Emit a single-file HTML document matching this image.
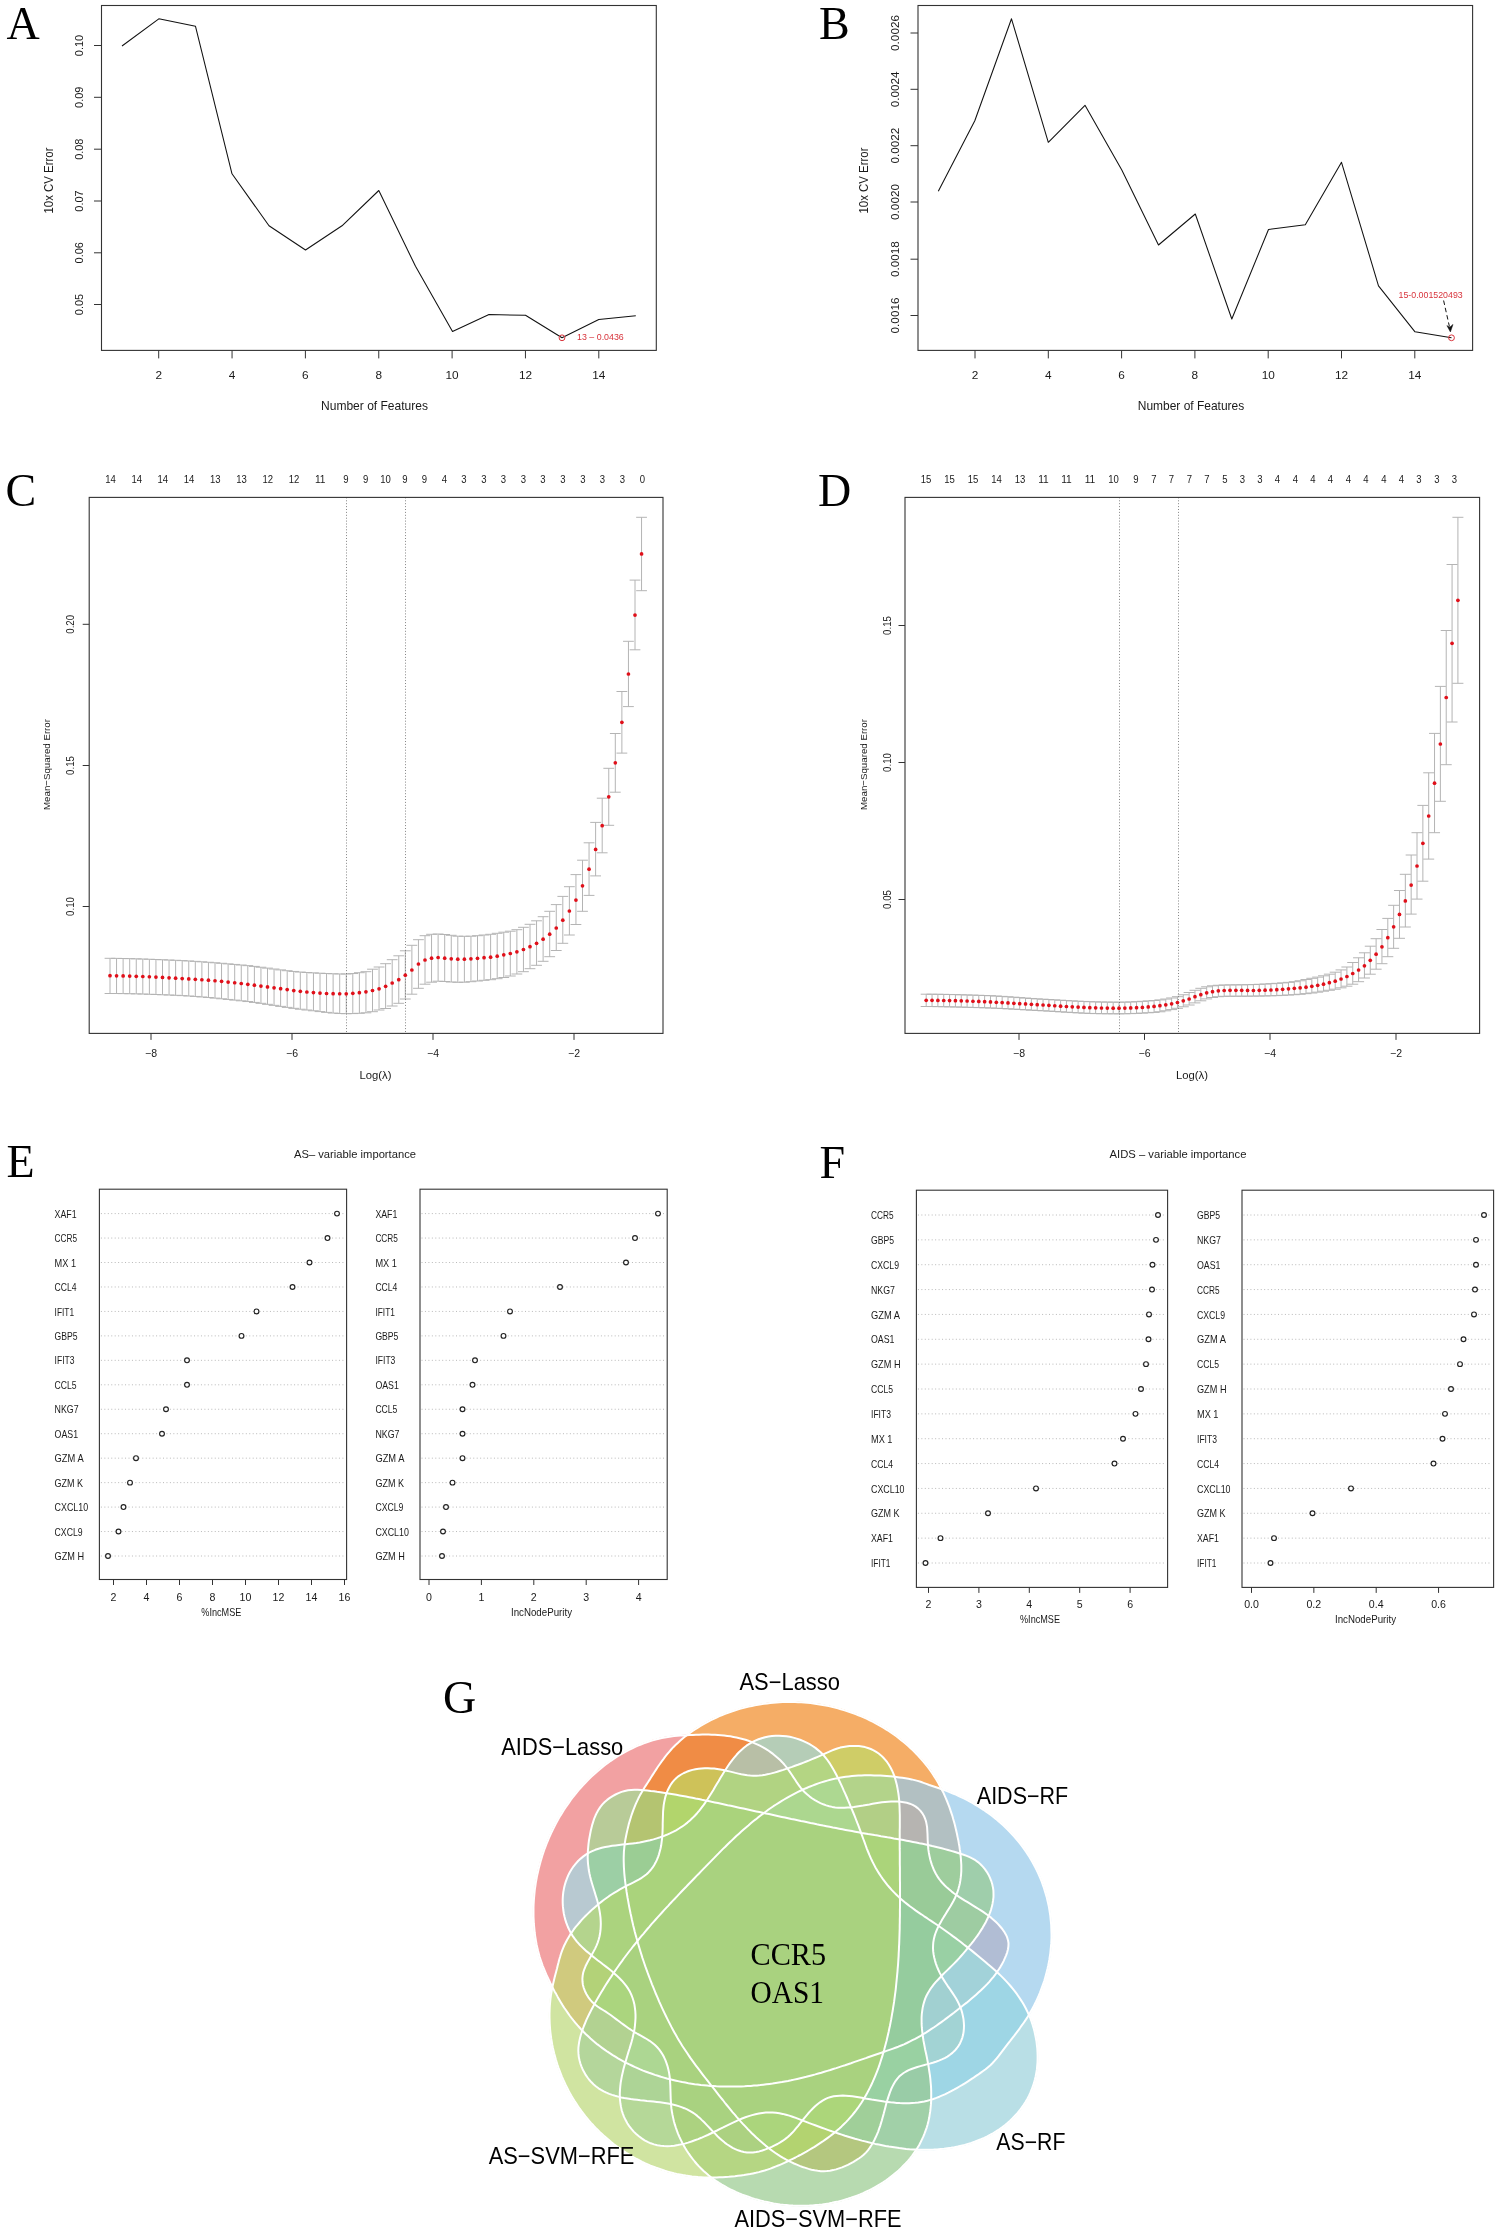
<!DOCTYPE html>
<html><head><meta charset="utf-8"><title>Figure</title>
<style>
html,body{margin:0;padding:0;background:#fff}
body{width:1499px;height:2234px;overflow:hidden;font-family:"Liberation Sans",sans-serif}
svg{display:block;opacity:0.999;will-change:transform}
text{white-space:pre}
</style></head><body>
<svg width="1499" height="2234" viewBox="0 0 1499 2234">
<rect x="0" y="0" width="1499" height="2234" fill="#fff"/>
<text x="6.50" y="38.80" font-family="Liberation Serif" font-size="46" fill="#000">A</text>
<text x="819.00" y="38.80" font-family="Liberation Serif" font-size="46" fill="#000">B</text>
<text x="5.50" y="505.50" font-family="Liberation Serif" font-size="46" fill="#000">C</text>
<text x="818.00" y="505.50" font-family="Liberation Serif" font-size="46" fill="#000">D</text>
<text x="6.50" y="1177.00" font-family="Liberation Serif" font-size="46" fill="#000">E</text>
<text x="819.50" y="1177.50" font-family="Liberation Serif" font-size="46" fill="#000">F</text>
<text x="443.00" y="1713.00" font-family="Liberation Serif" font-size="46" fill="#000">G</text>
<rect x="101.50" y="5.50" width="554.80" height="344.90" fill="none" stroke="#333" stroke-width="1.1"/>
<line x1="158.70" y1="350.40" x2="158.70" y2="358.40" stroke="#333" stroke-width="1"/>
<text x="158.70" y="379.20" font-family="Liberation Sans" font-size="11.8" fill="#1a1a1a" text-anchor="middle">2</text>
<line x1="232.05" y1="350.40" x2="232.05" y2="358.40" stroke="#333" stroke-width="1"/>
<text x="232.05" y="379.20" font-family="Liberation Sans" font-size="11.8" fill="#1a1a1a" text-anchor="middle">4</text>
<line x1="305.40" y1="350.40" x2="305.40" y2="358.40" stroke="#333" stroke-width="1"/>
<text x="305.40" y="379.20" font-family="Liberation Sans" font-size="11.8" fill="#1a1a1a" text-anchor="middle">6</text>
<line x1="378.75" y1="350.40" x2="378.75" y2="358.40" stroke="#333" stroke-width="1"/>
<text x="378.75" y="379.20" font-family="Liberation Sans" font-size="11.8" fill="#1a1a1a" text-anchor="middle">8</text>
<line x1="452.10" y1="350.40" x2="452.10" y2="358.40" stroke="#333" stroke-width="1"/>
<text x="452.10" y="379.20" font-family="Liberation Sans" font-size="11.8" fill="#1a1a1a" text-anchor="middle">10</text>
<line x1="525.45" y1="350.40" x2="525.45" y2="358.40" stroke="#333" stroke-width="1"/>
<text x="525.45" y="379.20" font-family="Liberation Sans" font-size="11.8" fill="#1a1a1a" text-anchor="middle">12</text>
<line x1="598.80" y1="350.40" x2="598.80" y2="358.40" stroke="#333" stroke-width="1"/>
<text x="598.80" y="379.20" font-family="Liberation Sans" font-size="11.8" fill="#1a1a1a" text-anchor="middle">14</text>
<line x1="94.00" y1="45.50" x2="101.50" y2="45.50" stroke="#333" stroke-width="1"/>
<text transform="translate(82.50,45.50) rotate(-90)" font-family="Liberation Sans" font-size="11.8" fill="#1a1a1a" text-anchor="middle" textLength="21.30" lengthAdjust="spacingAndGlyphs">0.10</text>
<line x1="94.00" y1="97.30" x2="101.50" y2="97.30" stroke="#333" stroke-width="1"/>
<text transform="translate(82.50,97.30) rotate(-90)" font-family="Liberation Sans" font-size="11.8" fill="#1a1a1a" text-anchor="middle" textLength="21.30" lengthAdjust="spacingAndGlyphs">0.09</text>
<line x1="94.00" y1="149.20" x2="101.50" y2="149.20" stroke="#333" stroke-width="1"/>
<text transform="translate(82.50,149.20) rotate(-90)" font-family="Liberation Sans" font-size="11.8" fill="#1a1a1a" text-anchor="middle" textLength="21.30" lengthAdjust="spacingAndGlyphs">0.08</text>
<line x1="94.00" y1="201.00" x2="101.50" y2="201.00" stroke="#333" stroke-width="1"/>
<text transform="translate(82.50,201.00) rotate(-90)" font-family="Liberation Sans" font-size="11.8" fill="#1a1a1a" text-anchor="middle" textLength="21.30" lengthAdjust="spacingAndGlyphs">0.07</text>
<line x1="94.00" y1="252.80" x2="101.50" y2="252.80" stroke="#333" stroke-width="1"/>
<text transform="translate(82.50,252.80) rotate(-90)" font-family="Liberation Sans" font-size="11.8" fill="#1a1a1a" text-anchor="middle" textLength="21.30" lengthAdjust="spacingAndGlyphs">0.06</text>
<line x1="94.00" y1="304.50" x2="101.50" y2="304.50" stroke="#333" stroke-width="1"/>
<text transform="translate(82.50,304.50) rotate(-90)" font-family="Liberation Sans" font-size="11.8" fill="#1a1a1a" text-anchor="middle" textLength="21.30" lengthAdjust="spacingAndGlyphs">0.05</text>
<polyline points="122.00,46.00 158.80,18.80 195.50,26.30 232.00,173.80 269.00,225.80 305.50,250.00 342.00,225.80 378.80,190.50 415.50,266.30 452.50,331.50 489.00,314.60 525.50,315.20 562.00,337.80 598.80,319.50 635.80,315.80" fill="none" stroke="#111" stroke-width="1.05" stroke-linejoin="round"/>
<text transform="translate(52.50,180.50) rotate(-90)" font-family="Liberation Sans" font-size="12.2" fill="#1a1a1a" text-anchor="middle" textLength="66.00" lengthAdjust="spacingAndGlyphs">10x CV Error</text>
<text x="374.50" y="410.00" font-family="Liberation Sans" font-size="12.2" fill="#1a1a1a" text-anchor="middle" textLength="107.00" lengthAdjust="spacingAndGlyphs">Number of Features</text>
<circle cx="562" cy="337.8" r="2.9" fill="none" stroke="#d8343c" stroke-width="1"/>
<text x="577.00" y="340.40" font-family="Liberation Sans" font-size="9.6" fill="#d8343c" textLength="46.80" lengthAdjust="spacingAndGlyphs">13 – 0.0436</text>
<rect x="918.00" y="5.50" width="554.60" height="344.90" fill="none" stroke="#333" stroke-width="1.1"/>
<line x1="975.00" y1="350.40" x2="975.00" y2="358.40" stroke="#333" stroke-width="1"/>
<text x="975.00" y="379.20" font-family="Liberation Sans" font-size="11.8" fill="#1a1a1a" text-anchor="middle">2</text>
<line x1="1048.30" y1="350.40" x2="1048.30" y2="358.40" stroke="#333" stroke-width="1"/>
<text x="1048.30" y="379.20" font-family="Liberation Sans" font-size="11.8" fill="#1a1a1a" text-anchor="middle">4</text>
<line x1="1121.60" y1="350.40" x2="1121.60" y2="358.40" stroke="#333" stroke-width="1"/>
<text x="1121.60" y="379.20" font-family="Liberation Sans" font-size="11.8" fill="#1a1a1a" text-anchor="middle">6</text>
<line x1="1194.90" y1="350.40" x2="1194.90" y2="358.40" stroke="#333" stroke-width="1"/>
<text x="1194.90" y="379.20" font-family="Liberation Sans" font-size="11.8" fill="#1a1a1a" text-anchor="middle">8</text>
<line x1="1268.20" y1="350.40" x2="1268.20" y2="358.40" stroke="#333" stroke-width="1"/>
<text x="1268.20" y="379.20" font-family="Liberation Sans" font-size="11.8" fill="#1a1a1a" text-anchor="middle">10</text>
<line x1="1341.50" y1="350.40" x2="1341.50" y2="358.40" stroke="#333" stroke-width="1"/>
<text x="1341.50" y="379.20" font-family="Liberation Sans" font-size="11.8" fill="#1a1a1a" text-anchor="middle">12</text>
<line x1="1414.80" y1="350.40" x2="1414.80" y2="358.40" stroke="#333" stroke-width="1"/>
<text x="1414.80" y="379.20" font-family="Liberation Sans" font-size="11.8" fill="#1a1a1a" text-anchor="middle">14</text>
<line x1="910.50" y1="33.00" x2="918.00" y2="33.00" stroke="#333" stroke-width="1"/>
<text transform="translate(899.20,33.00) rotate(-90)" font-family="Liberation Sans" font-size="11.8" fill="#1a1a1a" text-anchor="middle" textLength="35.80" lengthAdjust="spacingAndGlyphs">0.0026</text>
<line x1="910.50" y1="89.30" x2="918.00" y2="89.30" stroke="#333" stroke-width="1"/>
<text transform="translate(899.20,89.30) rotate(-90)" font-family="Liberation Sans" font-size="11.8" fill="#1a1a1a" text-anchor="middle" textLength="35.80" lengthAdjust="spacingAndGlyphs">0.0024</text>
<line x1="910.50" y1="145.70" x2="918.00" y2="145.70" stroke="#333" stroke-width="1"/>
<text transform="translate(899.20,145.70) rotate(-90)" font-family="Liberation Sans" font-size="11.8" fill="#1a1a1a" text-anchor="middle" textLength="35.80" lengthAdjust="spacingAndGlyphs">0.0022</text>
<line x1="910.50" y1="202.00" x2="918.00" y2="202.00" stroke="#333" stroke-width="1"/>
<text transform="translate(899.20,202.00) rotate(-90)" font-family="Liberation Sans" font-size="11.8" fill="#1a1a1a" text-anchor="middle" textLength="35.80" lengthAdjust="spacingAndGlyphs">0.0020</text>
<line x1="910.50" y1="259.20" x2="918.00" y2="259.20" stroke="#333" stroke-width="1"/>
<text transform="translate(899.20,259.20) rotate(-90)" font-family="Liberation Sans" font-size="11.8" fill="#1a1a1a" text-anchor="middle" textLength="35.80" lengthAdjust="spacingAndGlyphs">0.0018</text>
<line x1="910.50" y1="315.50" x2="918.00" y2="315.50" stroke="#333" stroke-width="1"/>
<text transform="translate(899.20,315.50) rotate(-90)" font-family="Liberation Sans" font-size="11.8" fill="#1a1a1a" text-anchor="middle" textLength="35.80" lengthAdjust="spacingAndGlyphs">0.0016</text>
<polyline points="938.30,191.30 974.80,120.80 1011.50,18.80 1048.30,142.30 1085.00,105.30 1121.80,170.00 1158.50,245.00 1195.30,214.00 1231.80,319.00 1268.50,229.50 1305.30,224.80 1341.50,162.30 1378.50,285.80 1415.00,331.80 1451.50,337.80" fill="none" stroke="#111" stroke-width="1.05" stroke-linejoin="round"/>
<text transform="translate(868.00,180.50) rotate(-90)" font-family="Liberation Sans" font-size="12.2" fill="#1a1a1a" text-anchor="middle" textLength="66.00" lengthAdjust="spacingAndGlyphs">10x CV Error</text>
<text x="1191.00" y="410.00" font-family="Liberation Sans" font-size="12.2" fill="#1a1a1a" text-anchor="middle" textLength="106.50" lengthAdjust="spacingAndGlyphs">Number of Features</text>
<circle cx="1451.5" cy="337.8" r="2.9" fill="none" stroke="#d8343c" stroke-width="1"/>
<text x="1398.50" y="298.00" font-family="Liberation Sans" font-size="9.6" fill="#d8343c" textLength="64.20" lengthAdjust="spacingAndGlyphs">15-0.001520493</text>
<line x1="1443.60" y1="300.50" x2="1449.40" y2="326.50" stroke="#111" stroke-width="1" stroke-dasharray="4.5 3"/>
<path d="M1450.4,332.0 L1446.9,325.6 L1449.7,327.2 L1453.0,324.4 Z" fill="#111" stroke="#111" stroke-width="0.5" stroke-linejoin="round"/>
<path d="M110.00,958.30V993.50M104.60,958.30h10.80M104.60,993.50h10.80M116.56,958.38V993.53M111.16,958.38h10.80M111.16,993.53h10.80M123.12,958.50V993.60M117.72,958.50h10.80M117.72,993.60h10.80M129.69,958.65V993.72M124.29,958.65h10.80M124.29,993.72h10.80M136.25,958.83V993.87M130.85,958.83h10.80M130.85,993.87h10.80M142.81,959.03V994.06M137.41,959.03h10.80M137.41,994.06h10.80M149.38,959.25V994.28M143.97,959.25h10.80M143.97,994.28h10.80M155.94,959.50V994.51M150.54,959.50h10.80M150.54,994.51h10.80M162.50,959.75V994.77M157.10,959.75h10.80M157.10,994.77h10.80M169.06,960.02V995.03M163.66,960.02h10.80M163.66,995.03h10.80M175.62,960.30V995.30M170.22,960.30h10.80M170.22,995.30h10.80M182.19,960.61V995.61M176.79,960.61h10.80M176.79,995.61h10.80M188.75,960.96V996.00M183.35,960.96h10.80M183.35,996.00h10.80M195.31,961.36V996.45M189.91,961.36h10.80M189.91,996.45h10.80M201.88,961.80V996.97M196.47,961.80h10.80M196.47,996.97h10.80M208.44,962.28V997.53M203.04,962.28h10.80M203.04,997.53h10.80M215.00,962.78V998.13M209.60,962.78h10.80M209.60,998.13h10.80M221.56,963.31V998.77M216.16,963.31h10.80M216.16,998.77h10.80M228.12,963.86V999.43M222.72,963.86h10.80M222.72,999.43h10.80M234.69,964.43V1000.11M229.29,964.43h10.80M229.29,1000.11h10.80M241.25,965.00V1000.80M235.85,965.00h10.80M235.85,1000.80h10.80M247.81,965.65V1001.55M242.41,965.65h10.80M242.41,1001.55h10.80M254.38,966.40V1002.41M248.97,966.40h10.80M248.97,1002.41h10.80M260.94,967.24V1003.34M255.54,967.24h10.80M255.54,1003.34h10.80M267.50,968.13V1004.33M262.10,968.13h10.80M262.10,1004.33h10.80M274.06,969.02V1005.35M268.66,969.02h10.80M268.66,1005.35h10.80M280.62,969.90V1006.38M275.23,969.90h10.80M275.23,1006.38h10.80M287.19,970.71V1007.38M281.79,970.71h10.80M281.79,1007.38h10.80M293.75,971.44V1008.33M288.35,971.44h10.80M288.35,1008.33h10.80M300.31,972.05V1009.22M294.91,972.05h10.80M294.91,1009.22h10.80M306.88,972.50V1010.00M301.48,972.50h10.80M301.48,1010.00h10.80M313.44,972.86V1010.78M308.04,972.86h10.80M308.04,1010.78h10.80M320.00,973.21V1011.60M314.60,973.21h10.80M314.60,1011.60h10.80M326.56,973.52V1012.39M321.16,973.52h10.80M321.16,1012.39h10.80M333.12,973.77V1013.06M327.73,973.77h10.80M327.73,1013.06h10.80M339.69,973.94V1013.53M334.29,973.94h10.80M334.29,1013.53h10.80M346.25,974.00V1013.70M340.85,974.00h10.80M340.85,1013.70h10.80M352.81,973.55V1013.57M347.41,973.55h10.80M347.41,1013.57h10.80M359.38,972.70V1013.30M353.98,972.70h10.80M353.98,1013.30h10.80M365.94,971.70V1012.80M360.54,971.70h10.80M360.54,1012.80h10.80M372.50,969.20V1011.70M367.10,969.20h10.80M367.10,1011.70h10.80M379.06,967.00V1010.00M373.66,967.00h10.80M373.66,1010.00h10.80M385.62,963.70V1008.50M380.23,963.70h10.80M380.23,1008.50h10.80M392.19,959.70V1006.00M386.79,959.70h10.80M386.79,1006.00h10.80M398.75,955.80V1003.30M393.35,955.80h10.80M393.35,1003.30h10.80M405.31,950.80V999.00M399.91,950.80h10.80M399.91,999.00h10.80M411.88,945.30V994.20M406.48,945.30h10.80M406.48,994.20h10.80M418.44,939.70V988.30M413.04,939.70h10.80M413.04,988.30h10.80M425.00,935.70V984.20M419.60,935.70h10.80M419.60,984.20h10.80M431.56,934.30V982.20M426.16,934.30h10.80M426.16,982.20h10.80M438.12,934.00V981.20M432.73,934.00h10.80M432.73,981.20h10.80M444.69,934.50V981.50M439.29,934.50h10.80M439.29,981.50h10.80M451.25,935.30V982.00M445.85,935.30h10.80M445.85,982.00h10.80M457.81,936.20V982.30M452.41,936.20h10.80M452.41,982.30h10.80M464.38,936.30V982.20M458.98,936.30h10.80M458.98,982.20h10.80M470.94,936.20V981.70M465.54,936.20h10.80M465.54,981.70h10.80M477.50,935.70V981.00M472.10,935.70h10.80M472.10,981.00h10.80M484.06,935.00V980.30M478.66,935.00h10.80M478.66,980.30h10.80M490.62,934.30V979.70M485.23,934.30h10.80M485.23,979.70h10.80M497.19,933.30V978.70M491.79,933.30h10.80M491.79,978.70h10.80M503.75,932.20V977.50M498.35,932.20h10.80M498.35,977.50h10.80M510.31,931.20V976.00M504.91,931.20h10.80M504.91,976.00h10.80M516.88,929.70V974.00M511.48,929.70h10.80M511.48,974.00h10.80M523.44,927.30V971.70M518.04,927.30h10.80M518.04,971.70h10.80M530.00,924.30V968.70M524.60,924.30h10.80M524.60,968.70h10.80M536.56,920.80V965.30M531.16,920.80h10.80M531.16,965.30h10.80M543.12,916.70V961.30M537.73,916.70h10.80M537.73,961.30h10.80M549.69,911.30V956.70M544.29,911.30h10.80M544.29,956.70h10.80M556.25,904.60V950.50M550.85,904.60h10.80M550.85,950.50h10.80M562.81,896.40V943.30M557.41,896.40h10.80M557.41,943.30h10.80M569.38,886.70V935.00M563.98,886.70h10.80M563.98,935.00h10.80M575.94,874.60V924.50M570.54,874.60h10.80M570.54,924.50h10.80M582.50,860.20V911.30M577.10,860.20h10.80M577.10,911.30h10.80M589.06,842.80V895.40M583.66,842.80h10.80M583.66,895.40h10.80M595.62,822.40V875.90M590.23,822.40h10.80M590.23,875.90h10.80M602.19,798.20V852.80M596.79,798.20h10.80M596.79,852.80h10.80M608.75,768.30V825.30M603.35,768.30h10.80M603.35,825.30h10.80M615.31,733.50V792.20M609.91,733.50h10.80M609.91,792.20h10.80M621.88,691.50V753.10M616.48,691.50h10.80M616.48,753.10h10.80M628.44,641.30V706.60M623.04,641.30h10.80M623.04,706.60h10.80M635.00,580.10V649.80M629.60,580.10h10.80M629.60,649.80h10.80M641.56,517.30V590.70M636.16,517.30h10.80M636.16,590.70h10.80" fill="none" stroke="#b4b4b4" stroke-width="1"/>
<line x1="346.50" y1="497.40" x2="346.50" y2="1033.40" stroke="#666" stroke-width="0.8" stroke-dasharray="1 1.9"/>
<line x1="405.50" y1="497.40" x2="405.50" y2="1033.40" stroke="#666" stroke-width="0.8" stroke-dasharray="1 1.9"/>
<g fill="#e0101a"><circle cx="110.00" cy="975.70" r="1.85"/><circle cx="116.56" cy="975.79" r="1.85"/><circle cx="123.12" cy="975.93" r="1.85"/><circle cx="129.69" cy="976.10" r="1.85"/><circle cx="136.25" cy="976.29" r="1.85"/><circle cx="142.81" cy="976.50" r="1.85"/><circle cx="149.38" cy="976.76" r="1.85"/><circle cx="155.94" cy="977.08" r="1.85"/><circle cx="162.50" cy="977.44" r="1.85"/><circle cx="169.06" cy="977.82" r="1.85"/><circle cx="175.62" cy="978.20" r="1.85"/><circle cx="182.19" cy="978.56" r="1.85"/><circle cx="188.75" cy="978.93" r="1.85"/><circle cx="195.31" cy="979.31" r="1.85"/><circle cx="201.88" cy="979.73" r="1.85"/><circle cx="208.44" cy="980.20" r="1.85"/><circle cx="215.00" cy="980.74" r="1.85"/><circle cx="221.56" cy="981.36" r="1.85"/><circle cx="228.12" cy="982.04" r="1.85"/><circle cx="234.69" cy="982.76" r="1.85"/><circle cx="241.25" cy="983.50" r="1.85"/><circle cx="247.81" cy="984.29" r="1.85"/><circle cx="254.38" cy="985.14" r="1.85"/><circle cx="260.94" cy="986.03" r="1.85"/><circle cx="267.50" cy="986.93" r="1.85"/><circle cx="274.06" cy="987.80" r="1.85"/><circle cx="280.62" cy="988.69" r="1.85"/><circle cx="287.19" cy="989.62" r="1.85"/><circle cx="293.75" cy="990.53" r="1.85"/><circle cx="300.31" cy="991.34" r="1.85"/><circle cx="306.88" cy="992.00" r="1.85"/><circle cx="313.44" cy="992.56" r="1.85"/><circle cx="320.00" cy="993.09" r="1.85"/><circle cx="326.56" cy="993.49" r="1.85"/><circle cx="333.12" cy="993.70" r="1.85"/><circle cx="339.69" cy="993.77" r="1.85"/><circle cx="346.25" cy="993.80" r="1.85"/><circle cx="352.81" cy="993.30" r="1.85"/><circle cx="359.38" cy="992.70" r="1.85"/><circle cx="365.94" cy="991.80" r="1.85"/><circle cx="372.50" cy="990.50" r="1.85"/><circle cx="379.06" cy="988.80" r="1.85"/><circle cx="385.62" cy="986.30" r="1.85"/><circle cx="392.19" cy="983.00" r="1.85"/><circle cx="398.75" cy="979.70" r="1.85"/><circle cx="405.31" cy="975.20" r="1.85"/><circle cx="411.88" cy="970.00" r="1.85"/><circle cx="418.44" cy="964.00" r="1.85"/><circle cx="425.00" cy="960.00" r="1.85"/><circle cx="431.56" cy="958.20" r="1.85"/><circle cx="438.12" cy="957.50" r="1.85"/><circle cx="444.69" cy="958.20" r="1.85"/><circle cx="451.25" cy="958.80" r="1.85"/><circle cx="457.81" cy="959.20" r="1.85"/><circle cx="464.38" cy="959.20" r="1.85"/><circle cx="470.94" cy="958.80" r="1.85"/><circle cx="477.50" cy="958.30" r="1.85"/><circle cx="484.06" cy="957.70" r="1.85"/><circle cx="490.62" cy="957.20" r="1.85"/><circle cx="497.19" cy="956.20" r="1.85"/><circle cx="503.75" cy="954.80" r="1.85"/><circle cx="510.31" cy="953.50" r="1.85"/><circle cx="516.88" cy="951.80" r="1.85"/><circle cx="523.44" cy="949.50" r="1.85"/><circle cx="530.00" cy="946.70" r="1.85"/><circle cx="536.56" cy="943.30" r="1.85"/><circle cx="543.12" cy="939.20" r="1.85"/><circle cx="549.69" cy="934.20" r="1.85"/><circle cx="556.25" cy="928.00" r="1.85"/><circle cx="562.81" cy="920.20" r="1.85"/><circle cx="569.38" cy="911.00" r="1.85"/><circle cx="575.94" cy="900.10" r="1.85"/><circle cx="582.50" cy="885.80" r="1.85"/><circle cx="589.06" cy="869.20" r="1.85"/><circle cx="595.62" cy="849.40" r="1.85"/><circle cx="602.19" cy="825.70" r="1.85"/><circle cx="608.75" cy="796.80" r="1.85"/><circle cx="615.31" cy="762.80" r="1.85"/><circle cx="621.88" cy="722.30" r="1.85"/><circle cx="628.44" cy="674.00" r="1.85"/><circle cx="635.00" cy="615.10" r="1.85"/><circle cx="641.56" cy="553.90" r="1.85"/></g>
<rect x="89.20" y="497.40" width="573.80" height="536.00" fill="none" stroke="#333" stroke-width="1.1"/>
<line x1="151.00" y1="1033.40" x2="151.00" y2="1039.90" stroke="#333" stroke-width="1"/>
<text x="151.00" y="1056.70" font-family="Liberation Sans" font-size="10.5" fill="#1a1a1a" text-anchor="middle">−8</text>
<line x1="292.00" y1="1033.40" x2="292.00" y2="1039.90" stroke="#333" stroke-width="1"/>
<text x="292.00" y="1056.70" font-family="Liberation Sans" font-size="10.5" fill="#1a1a1a" text-anchor="middle">−6</text>
<line x1="433.00" y1="1033.40" x2="433.00" y2="1039.90" stroke="#333" stroke-width="1"/>
<text x="433.00" y="1056.70" font-family="Liberation Sans" font-size="10.5" fill="#1a1a1a" text-anchor="middle">−4</text>
<line x1="574.00" y1="1033.40" x2="574.00" y2="1039.90" stroke="#333" stroke-width="1"/>
<text x="574.00" y="1056.70" font-family="Liberation Sans" font-size="10.5" fill="#1a1a1a" text-anchor="middle">−2</text>
<line x1="82.70" y1="624.30" x2="89.20" y2="624.30" stroke="#333" stroke-width="1"/>
<text transform="translate(74.20,624.30) rotate(-90)" font-family="Liberation Sans" font-size="10.4" fill="#1a1a1a" text-anchor="middle" textLength="18.80" lengthAdjust="spacingAndGlyphs">0.20</text>
<line x1="82.70" y1="765.50" x2="89.20" y2="765.50" stroke="#333" stroke-width="1"/>
<text transform="translate(74.20,765.50) rotate(-90)" font-family="Liberation Sans" font-size="10.4" fill="#1a1a1a" text-anchor="middle" textLength="18.80" lengthAdjust="spacingAndGlyphs">0.15</text>
<line x1="82.70" y1="906.50" x2="89.20" y2="906.50" stroke="#333" stroke-width="1"/>
<text transform="translate(74.20,906.50) rotate(-90)" font-family="Liberation Sans" font-size="10.4" fill="#1a1a1a" text-anchor="middle" textLength="18.80" lengthAdjust="spacingAndGlyphs">0.10</text>
<text x="110.50" y="482.90" font-family="Liberation Sans" font-size="10.5" fill="#1a1a1a" text-anchor="middle" textLength="10.60" lengthAdjust="spacingAndGlyphs">14</text>
<text x="136.75" y="482.90" font-family="Liberation Sans" font-size="10.5" fill="#1a1a1a" text-anchor="middle" textLength="10.60" lengthAdjust="spacingAndGlyphs">14</text>
<text x="162.75" y="482.90" font-family="Liberation Sans" font-size="10.5" fill="#1a1a1a" text-anchor="middle" textLength="10.60" lengthAdjust="spacingAndGlyphs">14</text>
<text x="189.00" y="482.90" font-family="Liberation Sans" font-size="10.5" fill="#1a1a1a" text-anchor="middle" textLength="10.60" lengthAdjust="spacingAndGlyphs">14</text>
<text x="215.25" y="482.90" font-family="Liberation Sans" font-size="10.5" fill="#1a1a1a" text-anchor="middle" textLength="10.60" lengthAdjust="spacingAndGlyphs">13</text>
<text x="241.50" y="482.90" font-family="Liberation Sans" font-size="10.5" fill="#1a1a1a" text-anchor="middle" textLength="10.60" lengthAdjust="spacingAndGlyphs">13</text>
<text x="267.75" y="482.90" font-family="Liberation Sans" font-size="10.5" fill="#1a1a1a" text-anchor="middle" textLength="10.60" lengthAdjust="spacingAndGlyphs">12</text>
<text x="294.00" y="482.90" font-family="Liberation Sans" font-size="10.5" fill="#1a1a1a" text-anchor="middle" textLength="10.60" lengthAdjust="spacingAndGlyphs">12</text>
<text x="320.25" y="482.90" font-family="Liberation Sans" font-size="10.5" fill="#1a1a1a" text-anchor="middle" textLength="10.60" lengthAdjust="spacingAndGlyphs">11</text>
<text x="346.00" y="482.90" font-family="Liberation Sans" font-size="10.5" fill="#1a1a1a" text-anchor="middle" textLength="5.30" lengthAdjust="spacingAndGlyphs">9</text>
<text x="365.75" y="482.90" font-family="Liberation Sans" font-size="10.5" fill="#1a1a1a" text-anchor="middle" textLength="5.30" lengthAdjust="spacingAndGlyphs">9</text>
<text x="385.50" y="482.90" font-family="Liberation Sans" font-size="10.5" fill="#1a1a1a" text-anchor="middle" textLength="10.60" lengthAdjust="spacingAndGlyphs">10</text>
<text x="405.00" y="482.90" font-family="Liberation Sans" font-size="10.5" fill="#1a1a1a" text-anchor="middle" textLength="5.30" lengthAdjust="spacingAndGlyphs">9</text>
<text x="424.50" y="482.90" font-family="Liberation Sans" font-size="10.5" fill="#1a1a1a" text-anchor="middle" textLength="5.30" lengthAdjust="spacingAndGlyphs">9</text>
<text x="444.50" y="482.90" font-family="Liberation Sans" font-size="10.5" fill="#1a1a1a" text-anchor="middle" textLength="5.30" lengthAdjust="spacingAndGlyphs">4</text>
<text x="464.00" y="482.90" font-family="Liberation Sans" font-size="10.5" fill="#1a1a1a" text-anchor="middle" textLength="5.30" lengthAdjust="spacingAndGlyphs">3</text>
<text x="484.00" y="482.90" font-family="Liberation Sans" font-size="10.5" fill="#1a1a1a" text-anchor="middle" textLength="5.30" lengthAdjust="spacingAndGlyphs">3</text>
<text x="503.50" y="482.90" font-family="Liberation Sans" font-size="10.5" fill="#1a1a1a" text-anchor="middle" textLength="5.30" lengthAdjust="spacingAndGlyphs">3</text>
<text x="523.50" y="482.90" font-family="Liberation Sans" font-size="10.5" fill="#1a1a1a" text-anchor="middle" textLength="5.30" lengthAdjust="spacingAndGlyphs">3</text>
<text x="543.00" y="482.90" font-family="Liberation Sans" font-size="10.5" fill="#1a1a1a" text-anchor="middle" textLength="5.30" lengthAdjust="spacingAndGlyphs">3</text>
<text x="563.00" y="482.90" font-family="Liberation Sans" font-size="10.5" fill="#1a1a1a" text-anchor="middle" textLength="5.30" lengthAdjust="spacingAndGlyphs">3</text>
<text x="583.00" y="482.90" font-family="Liberation Sans" font-size="10.5" fill="#1a1a1a" text-anchor="middle" textLength="5.30" lengthAdjust="spacingAndGlyphs">3</text>
<text x="602.50" y="482.90" font-family="Liberation Sans" font-size="10.5" fill="#1a1a1a" text-anchor="middle" textLength="5.30" lengthAdjust="spacingAndGlyphs">3</text>
<text x="622.50" y="482.90" font-family="Liberation Sans" font-size="10.5" fill="#1a1a1a" text-anchor="middle" textLength="5.30" lengthAdjust="spacingAndGlyphs">3</text>
<text x="642.50" y="482.90" font-family="Liberation Sans" font-size="10.5" fill="#1a1a1a" text-anchor="middle" textLength="5.30" lengthAdjust="spacingAndGlyphs">0</text>
<text transform="translate(50.00,764.50) rotate(-90)" font-family="Liberation Sans" font-size="9.8" fill="#1a1a1a" text-anchor="middle" textLength="91.00" lengthAdjust="spacingAndGlyphs">Mean−Squared Error</text>
<text x="375.50" y="1078.60" font-family="Liberation Sans" font-size="10.4" fill="#1a1a1a" text-anchor="middle" textLength="32.00" lengthAdjust="spacingAndGlyphs">Log(λ)</text>
<path d="M926.20,994.20V1006.50M920.70,994.20h11.00M920.70,1006.50h11.00M932.04,994.23V1006.56M926.54,994.23h11.00M926.54,1006.56h11.00M937.89,994.29V1006.63M932.39,994.29h11.00M932.39,1006.63h11.00M943.73,994.37V1006.73M938.23,994.37h11.00M938.23,1006.73h11.00M949.57,994.49V1006.85M944.07,994.49h11.00M944.07,1006.85h11.00M955.42,994.62V1006.98M949.92,994.62h11.00M949.92,1006.98h11.00M961.26,994.77V1007.12M955.76,994.77h11.00M955.76,1007.12h11.00M967.10,994.94V1007.28M961.60,994.94h11.00M961.60,1007.28h11.00M972.94,995.12V1007.45M967.44,995.12h11.00M967.44,1007.45h11.00M978.79,995.31V1007.62M973.29,995.31h11.00M973.29,1007.62h11.00M984.63,995.50V1007.80M979.13,995.50h11.00M979.13,1007.80h11.00M990.47,995.73V1008.00M984.97,995.73h11.00M984.97,1008.00h11.00M996.32,996.03V1008.25M990.82,996.03h11.00M990.82,1008.25h11.00M1002.16,996.38V1008.53M996.66,996.38h11.00M996.66,1008.53h11.00M1008.00,996.77V1008.83M1002.50,996.77h11.00M1002.50,1008.83h11.00M1013.85,997.19V1009.16M1008.35,997.19h11.00M1008.35,1009.16h11.00M1019.69,997.62V1009.49M1014.19,997.62h11.00M1014.19,1009.49h11.00M1025.53,998.05V1009.83M1020.03,998.05h11.00M1020.03,1009.83h11.00M1031.37,998.47V1010.17M1025.87,998.47h11.00M1025.87,1010.17h11.00M1037.22,998.86V1010.49M1031.72,998.86h11.00M1031.72,1010.49h11.00M1043.06,999.20V1010.80M1037.56,999.20h11.00M1037.56,1010.80h11.00M1048.90,999.53V1011.12M1043.40,999.53h11.00M1043.40,1011.12h11.00M1054.75,999.87V1011.46M1049.25,999.87h11.00M1049.25,1011.46h11.00M1060.59,1000.21V1011.83M1055.09,1000.21h11.00M1055.09,1011.83h11.00M1066.43,1000.55V1012.20M1060.93,1000.55h11.00M1060.93,1012.20h11.00M1072.28,1000.88V1012.55M1066.78,1000.88h11.00M1066.78,1012.55h11.00M1078.12,1001.18V1012.89M1072.62,1001.18h11.00M1072.62,1012.89h11.00M1083.96,1001.45V1013.18M1078.46,1001.45h11.00M1078.46,1013.18h11.00M1089.80,1001.69V1013.43M1084.30,1001.69h11.00M1084.30,1013.43h11.00M1095.65,1001.87V1013.60M1090.15,1001.87h11.00M1090.15,1013.60h11.00M1101.49,1002.00V1013.70M1095.99,1002.00h11.00M1095.99,1013.70h11.00M1107.33,1002.09V1013.75M1101.83,1002.09h11.00M1101.83,1013.75h11.00M1113.18,1002.17V1013.79M1107.68,1002.17h11.00M1107.68,1013.79h11.00M1119.02,1002.20V1013.80M1113.52,1002.20h11.00M1113.52,1013.80h11.00M1124.86,1002.14V1013.75M1119.36,1002.14h11.00M1119.36,1013.75h11.00M1130.70,1001.96V1013.61M1125.20,1001.96h11.00M1125.20,1013.61h11.00M1136.55,1001.69V1013.40M1131.05,1001.69h11.00M1131.05,1013.40h11.00M1142.39,1001.34V1013.12M1136.89,1001.34h11.00M1136.89,1013.12h11.00M1148.23,1000.94V1012.78M1142.73,1000.94h11.00M1142.73,1012.78h11.00M1154.08,1000.50V1012.40M1148.58,1000.50h11.00M1148.58,1012.40h11.00M1159.92,999.91V1011.78M1154.42,999.91h11.00M1154.42,1011.78h11.00M1165.76,999.06V1010.80M1160.26,999.06h11.00M1160.26,1010.80h11.00M1171.61,997.98V1009.60M1166.11,997.98h11.00M1166.11,1009.60h11.00M1177.45,996.70V1008.30M1171.95,996.70h11.00M1171.95,1008.30h11.00M1183.29,994.78V1006.79M1177.79,994.78h11.00M1177.79,1006.79h11.00M1189.13,992.50V1005.00M1183.63,992.50h11.00M1183.63,1005.00h11.00M1194.98,990.27V1002.90M1189.48,990.27h11.00M1189.48,1002.90h11.00M1200.82,988.30V1000.80M1195.32,988.30h11.00M1195.32,1000.80h11.00M1206.66,986.81V998.91M1201.16,986.81h11.00M1201.16,998.91h11.00M1212.51,985.80V997.50M1207.01,985.80h11.00M1207.01,997.50h11.00M1218.35,985.28V996.69M1212.85,985.28h11.00M1212.85,996.69h11.00M1224.19,985.00V996.30M1218.69,985.00h11.00M1218.69,996.30h11.00M1230.04,984.90V996.26M1224.54,984.90h11.00M1224.54,996.26h11.00M1235.88,984.84V996.24M1230.38,984.84h11.00M1230.38,996.24h11.00M1241.72,984.79V996.23M1236.22,984.79h11.00M1236.22,996.23h11.00M1247.57,984.70V996.20M1242.07,984.70h11.00M1242.07,996.20h11.00M1253.41,984.54V996.14M1247.91,984.54h11.00M1247.91,996.14h11.00M1259.25,984.31V996.05M1253.75,984.31h11.00M1253.75,996.05h11.00M1265.09,984.02V995.94M1259.59,984.02h11.00M1259.59,995.94h11.00M1270.94,983.70V995.80M1265.44,983.70h11.00M1265.44,995.80h11.00M1276.78,983.33V995.62M1271.28,983.33h11.00M1271.28,995.62h11.00M1282.62,982.89V995.36M1277.12,982.89h11.00M1277.12,995.36h11.00M1288.47,982.35V995.06M1282.97,982.35h11.00M1282.97,995.06h11.00M1294.31,981.70V994.70M1288.81,981.70h11.00M1288.81,994.70h11.00M1300.15,980.77V994.25M1294.65,980.77h11.00M1294.65,994.25h11.00M1306.00,979.55V993.67M1300.50,979.55h11.00M1300.50,993.67h11.00M1311.84,978.30V993.00M1306.34,978.30h11.00M1306.34,993.00h11.00M1317.68,977.12V992.16M1312.18,977.12h11.00M1312.18,992.16h11.00M1323.52,975.80V991.20M1318.02,975.80h11.00M1318.02,991.20h11.00M1329.37,974.16V990.26M1323.87,974.16h11.00M1323.87,990.26h11.00M1335.21,972.20V989.20M1329.71,972.20h11.00M1329.71,989.20h11.00M1341.05,969.92V987.84M1335.55,969.92h11.00M1335.55,987.84h11.00M1346.90,967.00V986.20M1341.40,967.00h11.00M1341.40,986.20h11.00M1352.74,962.50V984.20M1347.24,962.50h11.00M1347.24,984.20h11.00M1358.58,957.80V981.70M1353.08,957.80h11.00M1353.08,981.70h11.00M1364.43,952.80V978.00M1358.93,952.80h11.00M1358.93,978.00h11.00M1370.27,946.20V974.20M1364.77,946.20h11.00M1364.77,974.20h11.00M1376.11,938.70V969.20M1370.61,938.70h11.00M1370.61,969.20h11.00M1381.95,929.50V963.70M1376.45,929.50h11.00M1376.45,963.70h11.00M1387.80,918.40V956.70M1382.30,918.40h11.00M1382.30,956.70h11.00M1393.64,905.30V948.30M1388.14,905.30h11.00M1388.14,948.30h11.00M1399.48,890.50V938.30M1393.98,890.50h11.00M1393.98,938.30h11.00M1405.33,874.30V927.00M1399.83,874.30h11.00M1399.83,927.00h11.00M1411.17,855.00V914.10M1405.67,855.00h11.00M1405.67,914.10h11.00M1417.01,832.70V899.10M1411.51,832.70h11.00M1411.51,899.10h11.00M1422.86,805.40V881.20M1417.36,805.40h11.00M1417.36,881.20h11.00M1428.70,772.80V859.10M1423.20,772.80h11.00M1423.20,859.10h11.00M1434.54,733.40V832.70M1429.04,733.40h11.00M1429.04,832.70h11.00M1440.38,686.40V801.30M1434.88,686.40h11.00M1434.88,801.30h11.00M1446.23,630.50V764.70M1440.73,630.50h11.00M1440.73,764.70h11.00M1452.07,564.50V722.00M1446.57,564.50h11.00M1446.57,722.00h11.00M1457.91,517.30V683.30M1452.41,517.30h11.00M1452.41,683.30h11.00" fill="none" stroke="#b4b4b4" stroke-width="1"/>
<line x1="1119.50" y1="497.40" x2="1119.50" y2="1033.40" stroke="#666" stroke-width="0.8" stroke-dasharray="1 1.9"/>
<line x1="1178.50" y1="497.40" x2="1178.50" y2="1033.40" stroke="#666" stroke-width="0.8" stroke-dasharray="1 1.9"/>
<g fill="#e0101a"><circle cx="926.20" cy="1000.30" r="1.85"/><circle cx="932.04" cy="1000.34" r="1.85"/><circle cx="937.89" cy="1000.40" r="1.85"/><circle cx="943.73" cy="1000.49" r="1.85"/><circle cx="949.57" cy="1000.59" r="1.85"/><circle cx="955.42" cy="1000.70" r="1.85"/><circle cx="961.26" cy="1000.84" r="1.85"/><circle cx="967.10" cy="1001.02" r="1.85"/><circle cx="972.94" cy="1001.23" r="1.85"/><circle cx="978.79" cy="1001.46" r="1.85"/><circle cx="984.63" cy="1001.70" r="1.85"/><circle cx="990.47" cy="1001.97" r="1.85"/><circle cx="996.32" cy="1002.28" r="1.85"/><circle cx="1002.16" cy="1002.62" r="1.85"/><circle cx="1008.00" cy="1002.96" r="1.85"/><circle cx="1013.85" cy="1003.30" r="1.85"/><circle cx="1019.69" cy="1003.63" r="1.85"/><circle cx="1025.53" cy="1003.97" r="1.85"/><circle cx="1031.37" cy="1004.31" r="1.85"/><circle cx="1037.22" cy="1004.65" r="1.85"/><circle cx="1043.06" cy="1005.00" r="1.85"/><circle cx="1048.90" cy="1005.36" r="1.85"/><circle cx="1054.75" cy="1005.75" r="1.85"/><circle cx="1060.59" cy="1006.13" r="1.85"/><circle cx="1066.43" cy="1006.48" r="1.85"/><circle cx="1072.28" cy="1006.80" r="1.85"/><circle cx="1078.12" cy="1007.09" r="1.85"/><circle cx="1083.96" cy="1007.38" r="1.85"/><circle cx="1089.80" cy="1007.64" r="1.85"/><circle cx="1095.65" cy="1007.86" r="1.85"/><circle cx="1101.49" cy="1008.00" r="1.85"/><circle cx="1107.33" cy="1008.10" r="1.85"/><circle cx="1113.18" cy="1008.17" r="1.85"/><circle cx="1119.02" cy="1008.20" r="1.85"/><circle cx="1124.86" cy="1008.12" r="1.85"/><circle cx="1130.70" cy="1007.94" r="1.85"/><circle cx="1136.55" cy="1007.70" r="1.85"/><circle cx="1142.39" cy="1007.38" r="1.85"/><circle cx="1148.23" cy="1006.93" r="1.85"/><circle cx="1154.08" cy="1006.40" r="1.85"/><circle cx="1159.92" cy="1005.70" r="1.85"/><circle cx="1165.76" cy="1004.80" r="1.85"/><circle cx="1171.61" cy="1003.80" r="1.85"/><circle cx="1177.45" cy="1002.50" r="1.85"/><circle cx="1183.29" cy="1000.80" r="1.85"/><circle cx="1189.13" cy="999.00" r="1.85"/><circle cx="1194.98" cy="996.70" r="1.85"/><circle cx="1200.82" cy="994.70" r="1.85"/><circle cx="1206.66" cy="992.80" r="1.85"/><circle cx="1212.51" cy="991.70" r="1.85"/><circle cx="1218.35" cy="990.80" r="1.85"/><circle cx="1224.19" cy="990.50" r="1.85"/><circle cx="1230.04" cy="990.30" r="1.85"/><circle cx="1235.88" cy="990.30" r="1.85"/><circle cx="1241.72" cy="990.30" r="1.85"/><circle cx="1247.57" cy="990.40" r="1.85"/><circle cx="1253.41" cy="990.50" r="1.85"/><circle cx="1259.25" cy="990.30" r="1.85"/><circle cx="1265.09" cy="990.20" r="1.85"/><circle cx="1270.94" cy="990.00" r="1.85"/><circle cx="1276.78" cy="989.70" r="1.85"/><circle cx="1282.62" cy="989.30" r="1.85"/><circle cx="1288.47" cy="988.80" r="1.85"/><circle cx="1294.31" cy="988.30" r="1.85"/><circle cx="1300.15" cy="987.80" r="1.85"/><circle cx="1306.00" cy="987.20" r="1.85"/><circle cx="1311.84" cy="986.30" r="1.85"/><circle cx="1317.68" cy="985.30" r="1.85"/><circle cx="1323.52" cy="984.20" r="1.85"/><circle cx="1329.37" cy="982.70" r="1.85"/><circle cx="1335.21" cy="981.20" r="1.85"/><circle cx="1341.05" cy="979.00" r="1.85"/><circle cx="1346.90" cy="976.50" r="1.85"/><circle cx="1352.74" cy="973.50" r="1.85"/><circle cx="1358.58" cy="970.00" r="1.85"/><circle cx="1364.43" cy="965.80" r="1.85"/><circle cx="1370.27" cy="960.30" r="1.85"/><circle cx="1376.11" cy="954.20" r="1.85"/><circle cx="1381.95" cy="946.80" r="1.85"/><circle cx="1387.80" cy="937.70" r="1.85"/><circle cx="1393.64" cy="926.80" r="1.85"/><circle cx="1399.48" cy="914.40" r="1.85"/><circle cx="1405.33" cy="900.90" r="1.85"/><circle cx="1411.17" cy="885.10" r="1.85"/><circle cx="1417.01" cy="866.00" r="1.85"/><circle cx="1422.86" cy="843.30" r="1.85"/><circle cx="1428.70" cy="816.00" r="1.85"/><circle cx="1434.54" cy="783.20" r="1.85"/><circle cx="1440.38" cy="744.00" r="1.85"/><circle cx="1446.23" cy="697.50" r="1.85"/><circle cx="1452.07" cy="643.30" r="1.85"/><circle cx="1457.91" cy="600.30" r="1.85"/></g>
<rect x="905.00" y="497.40" width="574.60" height="536.00" fill="none" stroke="#333" stroke-width="1.1"/>
<line x1="1019.00" y1="1033.40" x2="1019.00" y2="1039.90" stroke="#333" stroke-width="1"/>
<text x="1019.00" y="1056.70" font-family="Liberation Sans" font-size="10.5" fill="#1a1a1a" text-anchor="middle">−8</text>
<line x1="1144.50" y1="1033.40" x2="1144.50" y2="1039.90" stroke="#333" stroke-width="1"/>
<text x="1144.50" y="1056.70" font-family="Liberation Sans" font-size="10.5" fill="#1a1a1a" text-anchor="middle">−6</text>
<line x1="1270.00" y1="1033.40" x2="1270.00" y2="1039.90" stroke="#333" stroke-width="1"/>
<text x="1270.00" y="1056.70" font-family="Liberation Sans" font-size="10.5" fill="#1a1a1a" text-anchor="middle">−4</text>
<line x1="1396.00" y1="1033.40" x2="1396.00" y2="1039.90" stroke="#333" stroke-width="1"/>
<text x="1396.00" y="1056.70" font-family="Liberation Sans" font-size="10.5" fill="#1a1a1a" text-anchor="middle">−2</text>
<line x1="898.50" y1="625.50" x2="905.00" y2="625.50" stroke="#333" stroke-width="1"/>
<text transform="translate(891.20,625.50) rotate(-90)" font-family="Liberation Sans" font-size="10.4" fill="#1a1a1a" text-anchor="middle" textLength="18.80" lengthAdjust="spacingAndGlyphs">0.15</text>
<line x1="898.50" y1="762.50" x2="905.00" y2="762.50" stroke="#333" stroke-width="1"/>
<text transform="translate(891.20,762.50) rotate(-90)" font-family="Liberation Sans" font-size="10.4" fill="#1a1a1a" text-anchor="middle" textLength="18.80" lengthAdjust="spacingAndGlyphs">0.10</text>
<line x1="898.50" y1="899.50" x2="905.00" y2="899.50" stroke="#333" stroke-width="1"/>
<text transform="translate(891.20,899.50) rotate(-90)" font-family="Liberation Sans" font-size="10.4" fill="#1a1a1a" text-anchor="middle" textLength="18.80" lengthAdjust="spacingAndGlyphs">0.05</text>
<text x="926.00" y="482.90" font-family="Liberation Sans" font-size="10.5" fill="#1a1a1a" text-anchor="middle" textLength="10.60" lengthAdjust="spacingAndGlyphs">15</text>
<text x="949.50" y="482.90" font-family="Liberation Sans" font-size="10.5" fill="#1a1a1a" text-anchor="middle" textLength="10.60" lengthAdjust="spacingAndGlyphs">15</text>
<text x="973.00" y="482.90" font-family="Liberation Sans" font-size="10.5" fill="#1a1a1a" text-anchor="middle" textLength="10.60" lengthAdjust="spacingAndGlyphs">15</text>
<text x="996.50" y="482.90" font-family="Liberation Sans" font-size="10.5" fill="#1a1a1a" text-anchor="middle" textLength="10.60" lengthAdjust="spacingAndGlyphs">14</text>
<text x="1020.00" y="482.90" font-family="Liberation Sans" font-size="10.5" fill="#1a1a1a" text-anchor="middle" textLength="10.60" lengthAdjust="spacingAndGlyphs">13</text>
<text x="1043.50" y="482.90" font-family="Liberation Sans" font-size="10.5" fill="#1a1a1a" text-anchor="middle" textLength="10.60" lengthAdjust="spacingAndGlyphs">11</text>
<text x="1066.50" y="482.90" font-family="Liberation Sans" font-size="10.5" fill="#1a1a1a" text-anchor="middle" textLength="10.60" lengthAdjust="spacingAndGlyphs">11</text>
<text x="1090.00" y="482.90" font-family="Liberation Sans" font-size="10.5" fill="#1a1a1a" text-anchor="middle" textLength="10.60" lengthAdjust="spacingAndGlyphs">11</text>
<text x="1113.50" y="482.90" font-family="Liberation Sans" font-size="10.5" fill="#1a1a1a" text-anchor="middle" textLength="10.60" lengthAdjust="spacingAndGlyphs">10</text>
<text x="1136.00" y="482.90" font-family="Liberation Sans" font-size="10.5" fill="#1a1a1a" text-anchor="middle" textLength="5.30" lengthAdjust="spacingAndGlyphs">9</text>
<text x="1154.00" y="482.90" font-family="Liberation Sans" font-size="10.5" fill="#1a1a1a" text-anchor="middle" textLength="5.30" lengthAdjust="spacingAndGlyphs">7</text>
<text x="1171.50" y="482.90" font-family="Liberation Sans" font-size="10.5" fill="#1a1a1a" text-anchor="middle" textLength="5.30" lengthAdjust="spacingAndGlyphs">7</text>
<text x="1189.50" y="482.90" font-family="Liberation Sans" font-size="10.5" fill="#1a1a1a" text-anchor="middle" textLength="5.30" lengthAdjust="spacingAndGlyphs">7</text>
<text x="1207.00" y="482.90" font-family="Liberation Sans" font-size="10.5" fill="#1a1a1a" text-anchor="middle" textLength="5.30" lengthAdjust="spacingAndGlyphs">7</text>
<text x="1225.00" y="482.90" font-family="Liberation Sans" font-size="10.5" fill="#1a1a1a" text-anchor="middle" textLength="5.30" lengthAdjust="spacingAndGlyphs">5</text>
<text x="1242.50" y="482.90" font-family="Liberation Sans" font-size="10.5" fill="#1a1a1a" text-anchor="middle" textLength="5.30" lengthAdjust="spacingAndGlyphs">3</text>
<text x="1260.00" y="482.90" font-family="Liberation Sans" font-size="10.5" fill="#1a1a1a" text-anchor="middle" textLength="5.30" lengthAdjust="spacingAndGlyphs">3</text>
<text x="1277.50" y="482.90" font-family="Liberation Sans" font-size="10.5" fill="#1a1a1a" text-anchor="middle" textLength="5.30" lengthAdjust="spacingAndGlyphs">4</text>
<text x="1295.50" y="482.90" font-family="Liberation Sans" font-size="10.5" fill="#1a1a1a" text-anchor="middle" textLength="5.30" lengthAdjust="spacingAndGlyphs">4</text>
<text x="1313.00" y="482.90" font-family="Liberation Sans" font-size="10.5" fill="#1a1a1a" text-anchor="middle" textLength="5.30" lengthAdjust="spacingAndGlyphs">4</text>
<text x="1330.50" y="482.90" font-family="Liberation Sans" font-size="10.5" fill="#1a1a1a" text-anchor="middle" textLength="5.30" lengthAdjust="spacingAndGlyphs">4</text>
<text x="1348.50" y="482.90" font-family="Liberation Sans" font-size="10.5" fill="#1a1a1a" text-anchor="middle" textLength="5.30" lengthAdjust="spacingAndGlyphs">4</text>
<text x="1366.00" y="482.90" font-family="Liberation Sans" font-size="10.5" fill="#1a1a1a" text-anchor="middle" textLength="5.30" lengthAdjust="spacingAndGlyphs">4</text>
<text x="1384.00" y="482.90" font-family="Liberation Sans" font-size="10.5" fill="#1a1a1a" text-anchor="middle" textLength="5.30" lengthAdjust="spacingAndGlyphs">4</text>
<text x="1401.50" y="482.90" font-family="Liberation Sans" font-size="10.5" fill="#1a1a1a" text-anchor="middle" textLength="5.30" lengthAdjust="spacingAndGlyphs">4</text>
<text x="1419.00" y="482.90" font-family="Liberation Sans" font-size="10.5" fill="#1a1a1a" text-anchor="middle" textLength="5.30" lengthAdjust="spacingAndGlyphs">3</text>
<text x="1437.00" y="482.90" font-family="Liberation Sans" font-size="10.5" fill="#1a1a1a" text-anchor="middle" textLength="5.30" lengthAdjust="spacingAndGlyphs">3</text>
<text x="1454.50" y="482.90" font-family="Liberation Sans" font-size="10.5" fill="#1a1a1a" text-anchor="middle" textLength="5.30" lengthAdjust="spacingAndGlyphs">3</text>
<text transform="translate(866.50,764.50) rotate(-90)" font-family="Liberation Sans" font-size="9.8" fill="#1a1a1a" text-anchor="middle" textLength="91.00" lengthAdjust="spacingAndGlyphs">Mean−Squared Error</text>
<text x="1192.00" y="1078.60" font-family="Liberation Sans" font-size="10.4" fill="#1a1a1a" text-anchor="middle" textLength="32.00" lengthAdjust="spacingAndGlyphs">Log(λ)</text>
<path d="M100.90,1213.60H344.60M100.90,1238.06H344.60M100.90,1262.51H344.60M100.90,1286.97H344.60M100.90,1311.43H344.60M100.90,1335.88H344.60M100.90,1360.34H344.60M100.90,1384.80H344.60M100.90,1409.26H344.60M100.90,1433.71H344.60M100.90,1458.17H344.60M100.90,1482.63H344.60M100.90,1507.08H344.60M100.90,1531.54H344.60M100.90,1556.00H344.60" fill="none" stroke="#b9b9b9" stroke-width="1" stroke-dasharray="1 2.45"/>
<g fill="#fff" stroke="#222" stroke-width="1.15"><circle cx="337.00" cy="1213.60" r="2.4"/><circle cx="327.50" cy="1238.06" r="2.4"/><circle cx="309.50" cy="1262.51" r="2.4"/><circle cx="292.50" cy="1286.97" r="2.4"/><circle cx="256.50" cy="1311.43" r="2.4"/><circle cx="241.50" cy="1335.88" r="2.4"/><circle cx="187.00" cy="1360.34" r="2.4"/><circle cx="187.00" cy="1384.80" r="2.4"/><circle cx="166.00" cy="1409.26" r="2.4"/><circle cx="162.00" cy="1433.71" r="2.4"/><circle cx="136.00" cy="1458.17" r="2.4"/><circle cx="130.00" cy="1482.63" r="2.4"/><circle cx="123.50" cy="1507.08" r="2.4"/><circle cx="118.50" cy="1531.54" r="2.4"/><circle cx="108.00" cy="1556.00" r="2.4"/></g>
<rect x="99.40" y="1189.20" width="247.20" height="390.30" fill="none" stroke="#333" stroke-width="1.1"/>
<text x="54.60" y="1217.70" font-family="Liberation Sans" font-size="10.1" fill="#1a1a1a" textLength="22.00" lengthAdjust="spacingAndGlyphs">XAF1</text>
<text x="54.60" y="1242.16" font-family="Liberation Sans" font-size="10.1" fill="#1a1a1a" textLength="22.50" lengthAdjust="spacingAndGlyphs">CCR5</text>
<text x="54.60" y="1266.61" font-family="Liberation Sans" font-size="10.1" fill="#1a1a1a" textLength="21.50" lengthAdjust="spacingAndGlyphs">MX 1</text>
<text x="54.60" y="1291.07" font-family="Liberation Sans" font-size="10.1" fill="#1a1a1a" textLength="22.00" lengthAdjust="spacingAndGlyphs">CCL4</text>
<text x="54.60" y="1315.53" font-family="Liberation Sans" font-size="10.1" fill="#1a1a1a" textLength="19.50" lengthAdjust="spacingAndGlyphs">IFIT1</text>
<text x="54.60" y="1339.98" font-family="Liberation Sans" font-size="10.1" fill="#1a1a1a" textLength="23.00" lengthAdjust="spacingAndGlyphs">GBP5</text>
<text x="54.60" y="1364.44" font-family="Liberation Sans" font-size="10.1" fill="#1a1a1a" textLength="20.00" lengthAdjust="spacingAndGlyphs">IFIT3</text>
<text x="54.60" y="1388.90" font-family="Liberation Sans" font-size="10.1" fill="#1a1a1a" textLength="22.00" lengthAdjust="spacingAndGlyphs">CCL5</text>
<text x="54.60" y="1413.36" font-family="Liberation Sans" font-size="10.1" fill="#1a1a1a" textLength="24.00" lengthAdjust="spacingAndGlyphs">NKG7</text>
<text x="54.60" y="1437.81" font-family="Liberation Sans" font-size="10.1" fill="#1a1a1a" textLength="23.50" lengthAdjust="spacingAndGlyphs">OAS1</text>
<text x="54.60" y="1462.27" font-family="Liberation Sans" font-size="10.1" fill="#1a1a1a" textLength="29.00" lengthAdjust="spacingAndGlyphs">GZM A</text>
<text x="54.60" y="1486.73" font-family="Liberation Sans" font-size="10.1" fill="#1a1a1a" textLength="28.50" lengthAdjust="spacingAndGlyphs">GZM K</text>
<text x="54.60" y="1511.18" font-family="Liberation Sans" font-size="10.1" fill="#1a1a1a" textLength="33.50" lengthAdjust="spacingAndGlyphs">CXCL10</text>
<text x="54.60" y="1535.64" font-family="Liberation Sans" font-size="10.1" fill="#1a1a1a" textLength="28.00" lengthAdjust="spacingAndGlyphs">CXCL9</text>
<text x="54.60" y="1560.10" font-family="Liberation Sans" font-size="10.1" fill="#1a1a1a" textLength="29.50" lengthAdjust="spacingAndGlyphs">GZM H</text>
<line x1="113.50" y1="1579.50" x2="113.50" y2="1585.00" stroke="#333" stroke-width="1"/>
<text x="113.50" y="1600.60" font-family="Liberation Sans" font-size="10.6" fill="#1a1a1a" text-anchor="middle">2</text>
<line x1="146.50" y1="1579.50" x2="146.50" y2="1585.00" stroke="#333" stroke-width="1"/>
<text x="146.50" y="1600.60" font-family="Liberation Sans" font-size="10.6" fill="#1a1a1a" text-anchor="middle">4</text>
<line x1="179.50" y1="1579.50" x2="179.50" y2="1585.00" stroke="#333" stroke-width="1"/>
<text x="179.50" y="1600.60" font-family="Liberation Sans" font-size="10.6" fill="#1a1a1a" text-anchor="middle">6</text>
<line x1="212.50" y1="1579.50" x2="212.50" y2="1585.00" stroke="#333" stroke-width="1"/>
<text x="212.50" y="1600.60" font-family="Liberation Sans" font-size="10.6" fill="#1a1a1a" text-anchor="middle">8</text>
<line x1="245.50" y1="1579.50" x2="245.50" y2="1585.00" stroke="#333" stroke-width="1"/>
<text x="245.50" y="1600.60" font-family="Liberation Sans" font-size="10.6" fill="#1a1a1a" text-anchor="middle">10</text>
<line x1="278.50" y1="1579.50" x2="278.50" y2="1585.00" stroke="#333" stroke-width="1"/>
<text x="278.50" y="1600.60" font-family="Liberation Sans" font-size="10.6" fill="#1a1a1a" text-anchor="middle">12</text>
<line x1="311.50" y1="1579.50" x2="311.50" y2="1585.00" stroke="#333" stroke-width="1"/>
<text x="311.50" y="1600.60" font-family="Liberation Sans" font-size="10.6" fill="#1a1a1a" text-anchor="middle">14</text>
<line x1="344.50" y1="1579.50" x2="344.50" y2="1585.00" stroke="#333" stroke-width="1"/>
<text x="344.50" y="1600.60" font-family="Liberation Sans" font-size="10.6" fill="#1a1a1a" text-anchor="middle">16</text>
<text x="221.30" y="1615.50" font-family="Liberation Sans" font-size="10.4" fill="#1a1a1a" text-anchor="middle" textLength="40.00" lengthAdjust="spacingAndGlyphs">%IncMSE</text>
<path d="M421.50,1213.60H665.20M421.50,1238.06H665.20M421.50,1262.51H665.20M421.50,1286.97H665.20M421.50,1311.43H665.20M421.50,1335.88H665.20M421.50,1360.34H665.20M421.50,1384.80H665.20M421.50,1409.26H665.20M421.50,1433.71H665.20M421.50,1458.17H665.20M421.50,1482.63H665.20M421.50,1507.08H665.20M421.50,1531.54H665.20M421.50,1556.00H665.20" fill="none" stroke="#b9b9b9" stroke-width="1" stroke-dasharray="1 2.45"/>
<g fill="#fff" stroke="#222" stroke-width="1.15"><circle cx="658.00" cy="1213.60" r="2.4"/><circle cx="635.00" cy="1238.06" r="2.4"/><circle cx="626.00" cy="1262.51" r="2.4"/><circle cx="560.00" cy="1286.97" r="2.4"/><circle cx="510.00" cy="1311.43" r="2.4"/><circle cx="503.50" cy="1335.88" r="2.4"/><circle cx="475.00" cy="1360.34" r="2.4"/><circle cx="472.50" cy="1384.80" r="2.4"/><circle cx="462.50" cy="1409.26" r="2.4"/><circle cx="462.50" cy="1433.71" r="2.4"/><circle cx="462.50" cy="1458.17" r="2.4"/><circle cx="452.50" cy="1482.63" r="2.4"/><circle cx="446.00" cy="1507.08" r="2.4"/><circle cx="443.00" cy="1531.54" r="2.4"/><circle cx="442.00" cy="1556.00" r="2.4"/></g>
<rect x="420.00" y="1189.20" width="247.20" height="390.30" fill="none" stroke="#333" stroke-width="1.1"/>
<text x="375.40" y="1217.70" font-family="Liberation Sans" font-size="10.1" fill="#1a1a1a" textLength="22.00" lengthAdjust="spacingAndGlyphs">XAF1</text>
<text x="375.40" y="1242.16" font-family="Liberation Sans" font-size="10.1" fill="#1a1a1a" textLength="22.50" lengthAdjust="spacingAndGlyphs">CCR5</text>
<text x="375.40" y="1266.61" font-family="Liberation Sans" font-size="10.1" fill="#1a1a1a" textLength="21.50" lengthAdjust="spacingAndGlyphs">MX 1</text>
<text x="375.40" y="1291.07" font-family="Liberation Sans" font-size="10.1" fill="#1a1a1a" textLength="22.00" lengthAdjust="spacingAndGlyphs">CCL4</text>
<text x="375.40" y="1315.53" font-family="Liberation Sans" font-size="10.1" fill="#1a1a1a" textLength="19.50" lengthAdjust="spacingAndGlyphs">IFIT1</text>
<text x="375.40" y="1339.98" font-family="Liberation Sans" font-size="10.1" fill="#1a1a1a" textLength="23.00" lengthAdjust="spacingAndGlyphs">GBP5</text>
<text x="375.40" y="1364.44" font-family="Liberation Sans" font-size="10.1" fill="#1a1a1a" textLength="20.00" lengthAdjust="spacingAndGlyphs">IFIT3</text>
<text x="375.40" y="1388.90" font-family="Liberation Sans" font-size="10.1" fill="#1a1a1a" textLength="23.50" lengthAdjust="spacingAndGlyphs">OAS1</text>
<text x="375.40" y="1413.36" font-family="Liberation Sans" font-size="10.1" fill="#1a1a1a" textLength="22.00" lengthAdjust="spacingAndGlyphs">CCL5</text>
<text x="375.40" y="1437.81" font-family="Liberation Sans" font-size="10.1" fill="#1a1a1a" textLength="24.00" lengthAdjust="spacingAndGlyphs">NKG7</text>
<text x="375.40" y="1462.27" font-family="Liberation Sans" font-size="10.1" fill="#1a1a1a" textLength="29.00" lengthAdjust="spacingAndGlyphs">GZM A</text>
<text x="375.40" y="1486.73" font-family="Liberation Sans" font-size="10.1" fill="#1a1a1a" textLength="28.50" lengthAdjust="spacingAndGlyphs">GZM K</text>
<text x="375.40" y="1511.18" font-family="Liberation Sans" font-size="10.1" fill="#1a1a1a" textLength="28.00" lengthAdjust="spacingAndGlyphs">CXCL9</text>
<text x="375.40" y="1535.64" font-family="Liberation Sans" font-size="10.1" fill="#1a1a1a" textLength="33.50" lengthAdjust="spacingAndGlyphs">CXCL10</text>
<text x="375.40" y="1560.10" font-family="Liberation Sans" font-size="10.1" fill="#1a1a1a" textLength="29.50" lengthAdjust="spacingAndGlyphs">GZM H</text>
<line x1="429.00" y1="1579.50" x2="429.00" y2="1585.00" stroke="#333" stroke-width="1"/>
<text x="429.00" y="1600.60" font-family="Liberation Sans" font-size="10.6" fill="#1a1a1a" text-anchor="middle">0</text>
<line x1="481.40" y1="1579.50" x2="481.40" y2="1585.00" stroke="#333" stroke-width="1"/>
<text x="481.40" y="1600.60" font-family="Liberation Sans" font-size="10.6" fill="#1a1a1a" text-anchor="middle">1</text>
<line x1="533.80" y1="1579.50" x2="533.80" y2="1585.00" stroke="#333" stroke-width="1"/>
<text x="533.80" y="1600.60" font-family="Liberation Sans" font-size="10.6" fill="#1a1a1a" text-anchor="middle">2</text>
<line x1="586.20" y1="1579.50" x2="586.20" y2="1585.00" stroke="#333" stroke-width="1"/>
<text x="586.20" y="1600.60" font-family="Liberation Sans" font-size="10.6" fill="#1a1a1a" text-anchor="middle">3</text>
<line x1="638.60" y1="1579.50" x2="638.60" y2="1585.00" stroke="#333" stroke-width="1"/>
<text x="638.60" y="1600.60" font-family="Liberation Sans" font-size="10.6" fill="#1a1a1a" text-anchor="middle">4</text>
<text x="541.50" y="1615.50" font-family="Liberation Sans" font-size="10.4" fill="#1a1a1a" text-anchor="middle" textLength="61.00" lengthAdjust="spacingAndGlyphs">IncNodePurity</text>
<text x="355.00" y="1158.10" font-family="Liberation Sans" font-size="11.2" fill="#1a1a1a" text-anchor="middle" textLength="122.00" lengthAdjust="spacingAndGlyphs">AS– variable importance</text>
<path d="M917.90,1215.00H1165.60M917.90,1239.86H1165.60M917.90,1264.71H1165.60M917.90,1289.57H1165.60M917.90,1314.43H1165.60M917.90,1339.29H1165.60M917.90,1364.14H1165.60M917.90,1389.00H1165.60M917.90,1413.86H1165.60M917.90,1438.71H1165.60M917.90,1463.57H1165.60M917.90,1488.43H1165.60M917.90,1513.28H1165.60M917.90,1538.14H1165.60M917.90,1563.00H1165.60" fill="none" stroke="#b9b9b9" stroke-width="1" stroke-dasharray="1 2.45"/>
<g fill="#fff" stroke="#222" stroke-width="1.15"><circle cx="1158.00" cy="1215.00" r="2.4"/><circle cx="1156.00" cy="1239.86" r="2.4"/><circle cx="1152.50" cy="1264.71" r="2.4"/><circle cx="1152.00" cy="1289.57" r="2.4"/><circle cx="1149.00" cy="1314.43" r="2.4"/><circle cx="1148.50" cy="1339.29" r="2.4"/><circle cx="1146.00" cy="1364.14" r="2.4"/><circle cx="1141.00" cy="1389.00" r="2.4"/><circle cx="1135.50" cy="1413.86" r="2.4"/><circle cx="1123.00" cy="1438.71" r="2.4"/><circle cx="1114.50" cy="1463.57" r="2.4"/><circle cx="1036.00" cy="1488.43" r="2.4"/><circle cx="988.00" cy="1513.28" r="2.4"/><circle cx="940.50" cy="1538.14" r="2.4"/><circle cx="925.50" cy="1563.00" r="2.4"/></g>
<rect x="916.40" y="1190.20" width="251.20" height="397.20" fill="none" stroke="#333" stroke-width="1.1"/>
<text x="871.00" y="1219.10" font-family="Liberation Sans" font-size="10.1" fill="#1a1a1a" textLength="22.50" lengthAdjust="spacingAndGlyphs">CCR5</text>
<text x="871.00" y="1243.96" font-family="Liberation Sans" font-size="10.1" fill="#1a1a1a" textLength="23.00" lengthAdjust="spacingAndGlyphs">GBP5</text>
<text x="871.00" y="1268.81" font-family="Liberation Sans" font-size="10.1" fill="#1a1a1a" textLength="28.00" lengthAdjust="spacingAndGlyphs">CXCL9</text>
<text x="871.00" y="1293.67" font-family="Liberation Sans" font-size="10.1" fill="#1a1a1a" textLength="24.00" lengthAdjust="spacingAndGlyphs">NKG7</text>
<text x="871.00" y="1318.53" font-family="Liberation Sans" font-size="10.1" fill="#1a1a1a" textLength="29.00" lengthAdjust="spacingAndGlyphs">GZM A</text>
<text x="871.00" y="1343.38" font-family="Liberation Sans" font-size="10.1" fill="#1a1a1a" textLength="23.50" lengthAdjust="spacingAndGlyphs">OAS1</text>
<text x="871.00" y="1368.24" font-family="Liberation Sans" font-size="10.1" fill="#1a1a1a" textLength="29.50" lengthAdjust="spacingAndGlyphs">GZM H</text>
<text x="871.00" y="1393.10" font-family="Liberation Sans" font-size="10.1" fill="#1a1a1a" textLength="22.00" lengthAdjust="spacingAndGlyphs">CCL5</text>
<text x="871.00" y="1417.96" font-family="Liberation Sans" font-size="10.1" fill="#1a1a1a" textLength="20.00" lengthAdjust="spacingAndGlyphs">IFIT3</text>
<text x="871.00" y="1442.81" font-family="Liberation Sans" font-size="10.1" fill="#1a1a1a" textLength="21.50" lengthAdjust="spacingAndGlyphs">MX 1</text>
<text x="871.00" y="1467.67" font-family="Liberation Sans" font-size="10.1" fill="#1a1a1a" textLength="22.00" lengthAdjust="spacingAndGlyphs">CCL4</text>
<text x="871.00" y="1492.53" font-family="Liberation Sans" font-size="10.1" fill="#1a1a1a" textLength="33.50" lengthAdjust="spacingAndGlyphs">CXCL10</text>
<text x="871.00" y="1517.38" font-family="Liberation Sans" font-size="10.1" fill="#1a1a1a" textLength="28.50" lengthAdjust="spacingAndGlyphs">GZM K</text>
<text x="871.00" y="1542.24" font-family="Liberation Sans" font-size="10.1" fill="#1a1a1a" textLength="22.00" lengthAdjust="spacingAndGlyphs">XAF1</text>
<text x="871.00" y="1567.10" font-family="Liberation Sans" font-size="10.1" fill="#1a1a1a" textLength="19.50" lengthAdjust="spacingAndGlyphs">IFIT1</text>
<line x1="928.50" y1="1587.40" x2="928.50" y2="1592.90" stroke="#333" stroke-width="1"/>
<text x="928.50" y="1608.20" font-family="Liberation Sans" font-size="10.6" fill="#1a1a1a" text-anchor="middle">2</text>
<line x1="978.90" y1="1587.40" x2="978.90" y2="1592.90" stroke="#333" stroke-width="1"/>
<text x="978.90" y="1608.20" font-family="Liberation Sans" font-size="10.6" fill="#1a1a1a" text-anchor="middle">3</text>
<line x1="1029.30" y1="1587.40" x2="1029.30" y2="1592.90" stroke="#333" stroke-width="1"/>
<text x="1029.30" y="1608.20" font-family="Liberation Sans" font-size="10.6" fill="#1a1a1a" text-anchor="middle">4</text>
<line x1="1079.70" y1="1587.40" x2="1079.70" y2="1592.90" stroke="#333" stroke-width="1"/>
<text x="1079.70" y="1608.20" font-family="Liberation Sans" font-size="10.6" fill="#1a1a1a" text-anchor="middle">5</text>
<line x1="1130.10" y1="1587.40" x2="1130.10" y2="1592.90" stroke="#333" stroke-width="1"/>
<text x="1130.10" y="1608.20" font-family="Liberation Sans" font-size="10.6" fill="#1a1a1a" text-anchor="middle">6</text>
<text x="1040.00" y="1623.00" font-family="Liberation Sans" font-size="10.4" fill="#1a1a1a" text-anchor="middle" textLength="40.00" lengthAdjust="spacingAndGlyphs">%IncMSE</text>
<path d="M1243.50,1215.00H1491.60M1243.50,1239.86H1491.60M1243.50,1264.71H1491.60M1243.50,1289.57H1491.60M1243.50,1314.43H1491.60M1243.50,1339.29H1491.60M1243.50,1364.14H1491.60M1243.50,1389.00H1491.60M1243.50,1413.86H1491.60M1243.50,1438.71H1491.60M1243.50,1463.57H1491.60M1243.50,1488.43H1491.60M1243.50,1513.28H1491.60M1243.50,1538.14H1491.60M1243.50,1563.00H1491.60" fill="none" stroke="#b9b9b9" stroke-width="1" stroke-dasharray="1 2.45"/>
<g fill="#fff" stroke="#222" stroke-width="1.15"><circle cx="1484.00" cy="1215.00" r="2.4"/><circle cx="1476.00" cy="1239.86" r="2.4"/><circle cx="1476.00" cy="1264.71" r="2.4"/><circle cx="1475.00" cy="1289.57" r="2.4"/><circle cx="1474.00" cy="1314.43" r="2.4"/><circle cx="1463.50" cy="1339.29" r="2.4"/><circle cx="1460.00" cy="1364.14" r="2.4"/><circle cx="1451.00" cy="1389.00" r="2.4"/><circle cx="1445.00" cy="1413.86" r="2.4"/><circle cx="1442.50" cy="1438.71" r="2.4"/><circle cx="1433.50" cy="1463.57" r="2.4"/><circle cx="1351.00" cy="1488.43" r="2.4"/><circle cx="1312.50" cy="1513.28" r="2.4"/><circle cx="1274.00" cy="1538.14" r="2.4"/><circle cx="1270.50" cy="1563.00" r="2.4"/></g>
<rect x="1242.00" y="1190.20" width="251.60" height="397.20" fill="none" stroke="#333" stroke-width="1.1"/>
<text x="1197.00" y="1219.10" font-family="Liberation Sans" font-size="10.1" fill="#1a1a1a" textLength="23.00" lengthAdjust="spacingAndGlyphs">GBP5</text>
<text x="1197.00" y="1243.96" font-family="Liberation Sans" font-size="10.1" fill="#1a1a1a" textLength="24.00" lengthAdjust="spacingAndGlyphs">NKG7</text>
<text x="1197.00" y="1268.81" font-family="Liberation Sans" font-size="10.1" fill="#1a1a1a" textLength="23.50" lengthAdjust="spacingAndGlyphs">OAS1</text>
<text x="1197.00" y="1293.67" font-family="Liberation Sans" font-size="10.1" fill="#1a1a1a" textLength="22.50" lengthAdjust="spacingAndGlyphs">CCR5</text>
<text x="1197.00" y="1318.53" font-family="Liberation Sans" font-size="10.1" fill="#1a1a1a" textLength="28.00" lengthAdjust="spacingAndGlyphs">CXCL9</text>
<text x="1197.00" y="1343.38" font-family="Liberation Sans" font-size="10.1" fill="#1a1a1a" textLength="29.00" lengthAdjust="spacingAndGlyphs">GZM A</text>
<text x="1197.00" y="1368.24" font-family="Liberation Sans" font-size="10.1" fill="#1a1a1a" textLength="22.00" lengthAdjust="spacingAndGlyphs">CCL5</text>
<text x="1197.00" y="1393.10" font-family="Liberation Sans" font-size="10.1" fill="#1a1a1a" textLength="29.50" lengthAdjust="spacingAndGlyphs">GZM H</text>
<text x="1197.00" y="1417.96" font-family="Liberation Sans" font-size="10.1" fill="#1a1a1a" textLength="21.50" lengthAdjust="spacingAndGlyphs">MX 1</text>
<text x="1197.00" y="1442.81" font-family="Liberation Sans" font-size="10.1" fill="#1a1a1a" textLength="20.00" lengthAdjust="spacingAndGlyphs">IFIT3</text>
<text x="1197.00" y="1467.67" font-family="Liberation Sans" font-size="10.1" fill="#1a1a1a" textLength="22.00" lengthAdjust="spacingAndGlyphs">CCL4</text>
<text x="1197.00" y="1492.53" font-family="Liberation Sans" font-size="10.1" fill="#1a1a1a" textLength="33.50" lengthAdjust="spacingAndGlyphs">CXCL10</text>
<text x="1197.00" y="1517.38" font-family="Liberation Sans" font-size="10.1" fill="#1a1a1a" textLength="28.50" lengthAdjust="spacingAndGlyphs">GZM K</text>
<text x="1197.00" y="1542.24" font-family="Liberation Sans" font-size="10.1" fill="#1a1a1a" textLength="22.00" lengthAdjust="spacingAndGlyphs">XAF1</text>
<text x="1197.00" y="1567.10" font-family="Liberation Sans" font-size="10.1" fill="#1a1a1a" textLength="19.50" lengthAdjust="spacingAndGlyphs">IFIT1</text>
<line x1="1251.50" y1="1587.40" x2="1251.50" y2="1592.90" stroke="#333" stroke-width="1"/>
<text x="1251.50" y="1608.20" font-family="Liberation Sans" font-size="10.6" fill="#1a1a1a" text-anchor="middle">0.0</text>
<line x1="1313.85" y1="1587.40" x2="1313.85" y2="1592.90" stroke="#333" stroke-width="1"/>
<text x="1313.85" y="1608.20" font-family="Liberation Sans" font-size="10.6" fill="#1a1a1a" text-anchor="middle">0.2</text>
<line x1="1376.20" y1="1587.40" x2="1376.20" y2="1592.90" stroke="#333" stroke-width="1"/>
<text x="1376.20" y="1608.20" font-family="Liberation Sans" font-size="10.6" fill="#1a1a1a" text-anchor="middle">0.4</text>
<line x1="1438.55" y1="1587.40" x2="1438.55" y2="1592.90" stroke="#333" stroke-width="1"/>
<text x="1438.55" y="1608.20" font-family="Liberation Sans" font-size="10.6" fill="#1a1a1a" text-anchor="middle">0.6</text>
<text x="1365.50" y="1623.00" font-family="Liberation Sans" font-size="10.4" fill="#1a1a1a" text-anchor="middle" textLength="61.00" lengthAdjust="spacingAndGlyphs">IncNodePurity</text>
<text x="1178.00" y="1158.00" font-family="Liberation Sans" font-size="11.2" fill="#1a1a1a" text-anchor="middle" textLength="137.00" lengthAdjust="spacingAndGlyphs">AIDS – variable importance</text>
<g>
<path d="M683.4,1734.8L683.4,1734.8L680.3,1735.0L680.3,1735.0L677.2,1735.2L677.2,1735.2L674.0,1735.5L674.0,1735.5L670.9,1735.8L670.9,1735.8L667.8,1736.3L667.8,1736.3L664.8,1736.8L664.7,1736.8L661.7,1737.4L661.7,1737.4L658.6,1738.1L658.6,1738.1L655.6,1738.9L655.6,1738.9L652.6,1739.8L652.5,1739.8L649.6,1740.7L649.6,1740.7L646.6,1741.7L646.6,1741.7L643.6,1742.8L643.6,1742.8L640.7,1743.9L640.7,1743.9L637.8,1745.1L637.8,1745.1L634.9,1746.4L634.9,1746.4L632.1,1747.7L632.1,1747.7L629.2,1749.1L629.2,1749.1L626.5,1750.5L626.4,1750.5L623.7,1752.0L623.7,1752.0L621.0,1753.6L621.0,1753.6L618.3,1755.2L618.3,1755.2L615.6,1756.9L615.6,1756.9L613.0,1758.6L613.0,1758.6L610.4,1760.3L610.4,1760.4L607.9,1762.2L607.9,1762.2L605.4,1764.0L605.3,1764.0L602.9,1765.9L602.9,1766.0L600.4,1767.9L600.4,1767.9L598.0,1769.9L598.0,1769.9L595.7,1772.0L595.7,1772.0L593.3,1774.1L593.3,1774.1L591.1,1776.2L591.1,1776.2L588.8,1778.4L588.8,1778.4L586.6,1780.6L586.6,1780.6L584.4,1782.9L584.4,1782.9L582.3,1785.2L582.3,1785.2L580.2,1787.5L580.2,1787.5L578.2,1789.9L578.1,1789.9L576.1,1792.3L576.1,1792.3L574.2,1794.7L574.2,1794.7L572.2,1797.2L572.2,1797.2L570.4,1799.7L570.3,1799.7L568.5,1802.2L568.5,1802.2L566.7,1804.8L566.7,1804.8L564.9,1807.4L564.9,1807.4L563.2,1810.0L563.2,1810.0L561.5,1812.7L561.5,1812.7L559.9,1815.3L559.9,1815.3L558.3,1818.0L558.3,1818.0L556.8,1820.8L556.8,1820.8L555.3,1823.5L555.3,1823.5L553.8,1826.3L553.8,1826.3L552.4,1829.1L552.4,1829.1L551.1,1831.9L551.1,1831.9L549.7,1834.8L549.7,1834.8L548.5,1837.6L548.5,1837.7L547.3,1840.5L547.2,1840.5L546.1,1843.4L546.1,1843.4L544.9,1846.4L544.9,1846.4L543.9,1849.3L543.9,1849.3L542.8,1852.3L542.8,1852.3L541.9,1855.2L541.8,1855.2L540.9,1858.2L540.9,1858.2L540.0,1861.2L540.0,1861.2L539.2,1864.3L539.2,1864.3L538.4,1867.3L538.4,1867.3L537.7,1870.3L537.7,1870.3L537.0,1873.4L537.0,1873.4L536.4,1876.5L536.4,1876.5L535.8,1879.5L535.8,1879.5L535.2,1882.6L535.2,1882.6L534.8,1885.7L534.8,1885.7L534.3,1888.8L534.3,1888.8L534.0,1891.9L534.0,1891.9L533.7,1895.0L533.7,1895.0L533.4,1898.1L533.4,1898.2L533.2,1901.3L533.2,1901.3L533.0,1904.4L533.0,1904.4L532.9,1907.5L532.9,1907.5L532.9,1910.7L532.9,1910.7L532.9,1913.8L532.9,1913.8L532.9,1916.9L533.0,1916.9L533.1,1920.1L533.1,1920.1L533.2,1923.2L533.2,1923.2L533.5,1926.3L533.5,1926.3L533.8,1929.4L533.8,1929.5L534.1,1932.6L534.1,1932.6L534.5,1935.7L534.5,1935.7L535.0,1938.8L535.0,1938.8L535.5,1941.9L535.5,1941.9L536.1,1945.0L536.1,1945.0L536.8,1948.1L536.8,1948.1L537.5,1951.1L537.5,1951.1L538.3,1954.1L538.3,1954.2L539.2,1957.2L539.2,1957.2L540.1,1960.2L540.1,1960.2L541.1,1963.1L541.1,1963.1L542.2,1966.1L542.2,1966.1L543.3,1969.0L543.3,1969.0L544.5,1971.8L544.5,1971.9L545.8,1974.7L545.8,1974.7L547.1,1977.6L547.1,1977.6L548.4,1980.4L548.4,1980.4L549.8,1983.2L549.8,1983.2L551.2,1986.0L551.2,1986.0L551.9,1987.3L551.9,1987.4L551.9,1987.4L552.0,1987.5L552.0,1987.5L552.1,1987.6L552.1,1987.6L552.2,1987.6L552.2,1987.6L552.3,1987.7L552.3,1987.7L552.4,1987.7L552.5,1987.7L552.5,1987.7L552.6,1987.6L552.6,1987.6L552.7,1987.6L552.7,1987.6L552.8,1987.5L552.8,1987.5L552.9,1987.4L552.9,1987.4L552.9,1987.3L553.0,1987.3L553.0,1987.2L553.0,1987.2L553.1,1986.6L553.8,1983.6L554.5,1980.6L555.2,1977.6L556.0,1974.6L556.8,1971.6L556.8,1971.6L557.5,1968.6L557.5,1968.6L558.3,1965.7L559.0,1962.8L559.8,1959.9L560.6,1957.0L561.5,1954.1L562.5,1951.3L563.6,1948.5L564.8,1945.8L566.1,1943.0L567.5,1940.3L569.0,1937.7L570.6,1935.1L571.6,1933.6L571.6,1933.6L571.6,1933.5L571.7,1933.5L571.7,1933.4L571.7,1933.4L571.7,1933.3L571.7,1933.3L571.7,1933.2L571.7,1933.2L571.7,1933.1L571.6,1933.0L571.6,1933.0L571.5,1932.9L569.9,1929.8L568.4,1926.7L567.2,1923.5L566.1,1920.2L565.2,1916.8L564.4,1913.4L563.9,1909.9L563.5,1906.4L563.3,1902.9L563.3,1899.3L563.5,1895.8L563.9,1892.3L564.5,1888.9L565.3,1885.5L566.3,1882.1L567.4,1878.8L568.8,1875.6L570.3,1872.5L572.1,1869.5L574.1,1866.7L576.2,1864.0L578.6,1861.4L581.1,1859.0L583.7,1856.9L586.5,1854.9L588.1,1853.9L588.2,1853.9L588.2,1853.9L588.2,1853.8L588.3,1853.8L588.3,1853.7L588.3,1853.7L588.4,1853.6L588.4,1853.6L588.4,1853.5L588.4,1853.5L588.5,1850.6L588.8,1847.4L589.1,1844.1L589.5,1840.9L590.1,1837.6L590.7,1834.4L591.3,1831.1L592.1,1827.9L592.9,1824.7L593.8,1821.6L594.9,1818.5L596.1,1815.5L597.5,1812.6L599.1,1809.9L600.8,1807.3L602.9,1804.8L605.1,1802.5L607.5,1800.3L610.1,1798.4L612.9,1796.6L615.7,1795.0L618.7,1793.6L621.8,1792.5L624.9,1791.6L628.1,1790.9L631.3,1790.5L634.5,1790.3L637.7,1790.3L640.9,1790.6L642.9,1790.7L642.9,1790.7L643.0,1790.7L643.0,1790.7L643.1,1790.7L643.2,1790.7L643.2,1790.7L643.3,1790.6L643.3,1790.6L643.4,1790.6L643.4,1790.5L643.4,1790.5L645.0,1788.0L646.6,1785.4L648.3,1782.8L648.3,1782.8L650.0,1780.2L651.6,1777.6L653.3,1775.0L655.0,1772.3L656.7,1769.7L658.4,1767.1L660.2,1764.6L662.0,1762.0L663.8,1759.5L665.7,1757.0L667.7,1754.6L669.6,1752.2L671.7,1749.9L673.8,1747.6L675.9,1745.5L678.2,1743.3L680.5,1741.2L682.8,1739.2L685.2,1737.3L687.3,1735.6L687.3,1735.6L687.4,1735.6L687.4,1735.5L687.4,1735.5L687.5,1735.4L687.5,1735.4L687.5,1735.3L687.5,1735.2L687.5,1735.2L687.5,1735.1L687.5,1735.1L687.5,1735.0L687.5,1735.0L687.5,1734.9L687.4,1734.9L687.4,1734.8L687.4,1734.8L687.3,1734.7L687.3,1734.7L687.2,1734.7L687.2,1734.6L687.1,1734.6L687.1,1734.6L687.0,1734.6L687.0,1734.6L686.9,1734.6L686.5,1734.6L686.5,1734.6Z" fill="#f2a1a2"/>
<path d="M686.6,1734.7L686.5,1734.7L686.5,1734.8L686.4,1734.8L686.4,1734.9L686.4,1734.9L686.4,1735.0L686.3,1735.0L686.3,1735.1L686.3,1735.2L686.3,1735.2L686.3,1735.3L686.3,1735.3L686.4,1735.4L686.4,1735.4L686.4,1735.5L686.4,1735.5L686.5,1735.6L686.5,1735.6L686.6,1735.7L686.6,1735.7L686.7,1735.7L686.7,1735.7L686.8,1735.8L686.8,1735.8L686.9,1735.8L687.0,1735.8L689.7,1735.6L692.9,1735.5L696.0,1735.4L699.2,1735.3L702.3,1735.2L705.4,1735.2L708.6,1735.2L711.7,1735.3L714.8,1735.4L717.9,1735.6L721.0,1735.8L724.1,1736.1L727.2,1736.5L730.3,1736.9L733.3,1737.5L736.3,1738.1L739.4,1738.8L742.3,1739.5L745.3,1740.4L748.2,1741.4L751.1,1742.5L751.9,1742.8L752.0,1742.8L752.0,1742.8L752.1,1742.8L752.1,1742.8L752.2,1742.8L752.3,1742.8L752.3,1742.8L752.4,1742.8L752.4,1742.7L752.5,1742.7L755.5,1741.2L758.7,1739.9L761.9,1738.7L765.2,1737.8L768.6,1737.1L772.1,1736.6L775.6,1736.3L779.1,1736.3L782.7,1736.5L786.2,1736.8L789.7,1737.4L793.1,1738.2L796.5,1739.2L799.9,1740.3L803.1,1741.6L806.3,1743.1L809.4,1744.7L812.3,1746.5L815.1,1748.4L817.8,1750.5L820.3,1752.8L822.5,1755.0L822.5,1755.0L822.5,1755.0L822.6,1755.1L822.7,1755.1L822.7,1755.1L822.8,1755.1L822.8,1755.1L822.9,1755.1L822.9,1755.1L823.0,1755.1L823.1,1755.1L823.1,1755.1L823.5,1754.9L823.5,1754.9L826.3,1753.7L829.0,1752.4L831.8,1751.2L834.6,1750.1L837.5,1749.1L840.4,1748.2L843.4,1747.5L846.4,1747.0L849.5,1746.6L852.6,1746.5L855.7,1746.5L858.8,1746.7L861.8,1747.1L864.8,1747.7L867.7,1748.5L870.6,1749.6L873.3,1750.8L875.9,1752.3L878.3,1754.0L880.6,1755.9L882.8,1757.9L884.8,1760.2L886.7,1762.6L888.4,1765.1L890.0,1767.8L891.4,1770.5L892.6,1773.3L893.7,1776.1L894.0,1777.0L894.0,1777.1L894.0,1777.1L894.0,1777.2L894.1,1777.2L894.1,1777.2L894.2,1777.3L894.2,1777.3L894.3,1777.3L894.3,1777.4L894.4,1777.4L894.4,1777.4L894.5,1777.4L896.0,1777.6L899.1,1778.0L902.2,1778.4L905.3,1778.9L908.4,1779.4L911.5,1780.0L914.5,1780.6L917.4,1781.5L920.4,1782.4L923.3,1783.4L926.2,1784.5L926.2,1784.5L929.1,1785.6L929.2,1785.6L932.1,1786.6L932.1,1786.6L935.1,1787.6L935.1,1787.6L938.1,1788.6L941.0,1789.6L941.4,1789.7L941.4,1789.7L941.5,1789.7L941.5,1789.7L941.6,1789.7L941.7,1789.7L941.7,1789.7L941.8,1789.7L941.8,1789.6L941.9,1789.6L941.9,1789.6L942.0,1789.5L942.0,1789.5L942.0,1789.5L942.1,1789.4L942.1,1789.4L942.1,1789.3L942.1,1789.2L942.2,1789.2L942.2,1789.1L942.2,1789.1L942.1,1789.0L942.1,1788.9L942.1,1788.9L942.1,1788.8L941.2,1787.1L941.2,1787.1L939.7,1784.4L939.7,1784.4L938.2,1781.7L938.2,1781.6L936.6,1779.0L936.6,1779.0L934.9,1776.3L934.9,1776.3L933.2,1773.7L933.2,1773.7L931.5,1771.2L931.5,1771.1L929.7,1768.6L929.6,1768.6L927.8,1766.1L927.8,1766.1L925.9,1763.7L925.8,1763.7L923.9,1761.3L923.9,1761.3L921.9,1758.9L921.8,1758.9L919.8,1756.6L919.8,1756.6L917.7,1754.3L917.6,1754.3L915.5,1752.1L915.5,1752.1L913.3,1749.9L913.3,1749.9L911.0,1747.8L911.0,1747.7L908.7,1745.7L908.7,1745.6L906.4,1743.6L906.4,1743.6L904.0,1741.6L904.0,1741.6L901.6,1739.6L901.6,1739.6L899.1,1737.7L899.1,1737.7L896.7,1735.8L896.6,1735.8L894.1,1734.0L894.1,1734.0L891.6,1732.2L891.6,1732.2L889.0,1730.5L889.0,1730.5L886.4,1728.8L886.4,1728.8L883.7,1727.2L883.7,1727.2L881.0,1725.6L881.0,1725.6L878.3,1724.1L878.3,1724.0L875.6,1722.6L875.6,1722.6L872.8,1721.1L872.8,1721.1L870.0,1719.7L870.0,1719.7L867.2,1718.4L867.2,1718.4L864.4,1717.1L864.4,1717.1L861.6,1715.9L861.5,1715.9L858.7,1714.7L858.7,1714.7L855.8,1713.5L855.8,1713.5L852.9,1712.5L852.9,1712.5L849.9,1711.4L849.9,1711.4L847.0,1710.4L847.0,1710.4L844.0,1709.5L844.0,1709.5L841.0,1708.6L841.0,1708.6L838.0,1707.8L838.0,1707.8L835.0,1707.0L835.0,1707.0L832.0,1706.2L832.0,1706.2L829.0,1705.6L828.9,1705.6L825.9,1704.9L825.9,1704.9L822.8,1704.3L822.8,1704.3L819.8,1703.8L819.8,1703.8L816.7,1703.3L816.7,1703.3L813.6,1702.9L813.6,1702.9L810.5,1702.5L810.5,1702.5L807.4,1702.2L807.4,1702.2L804.3,1702.0L804.3,1701.9L801.2,1701.7L801.2,1701.7L798.1,1701.6L798.1,1701.6L795.0,1701.5L795.0,1701.5L791.9,1701.4L791.9,1701.4L788.8,1701.4L788.8,1701.4L785.7,1701.4L785.7,1701.4L782.6,1701.5L782.6,1701.5L779.5,1701.7L779.5,1701.7L776.4,1701.9L776.4,1701.9L773.3,1702.1L773.3,1702.1L770.2,1702.4L770.2,1702.4L767.1,1702.8L767.1,1702.8L764.0,1703.2L764.0,1703.2L760.9,1703.6L760.9,1703.7L757.9,1704.2L757.8,1704.2L754.8,1704.7L754.8,1704.7L751.7,1705.4L751.7,1705.4L748.7,1706.0L748.7,1706.0L745.7,1706.8L745.7,1706.8L742.7,1707.5L742.6,1707.5L739.6,1708.4L739.6,1708.4L736.7,1709.2L736.6,1709.3L733.7,1710.2L733.7,1710.2L730.7,1711.2L730.7,1711.2L727.8,1712.2L727.8,1712.2L724.9,1713.3L724.9,1713.3L722.0,1714.5L722.0,1714.5L719.1,1715.7L719.1,1715.7L716.3,1716.9L716.3,1717.0L713.5,1718.3L713.4,1718.3L710.7,1719.6L710.7,1719.6L707.9,1721.1L707.9,1721.1L705.2,1722.5L705.1,1722.5L702.5,1724.1L702.4,1724.1L699.8,1725.7L699.8,1725.7L697.1,1727.3L697.1,1727.3L694.5,1729.0L694.5,1729.0L692.0,1730.7L691.9,1730.7L689.4,1732.5L689.4,1732.6L686.9,1734.4L686.9,1734.4Z" fill="#f5ad66"/>
<path d="M1030.8,2012.9L1030.8,2012.9L1032.3,2010.1L1032.3,2010.1L1033.8,2007.4L1033.8,2007.3L1035.2,2004.6L1035.3,2004.5L1036.6,2001.7L1036.6,2001.7L1038.0,1998.8L1038.0,1998.8L1039.2,1996.0L1039.2,1995.9L1040.4,1993.0L1040.4,1993.0L1041.6,1990.1L1041.6,1990.1L1042.7,1987.1L1042.7,1987.1L1043.7,1984.1L1043.7,1984.1L1044.7,1981.1L1044.7,1981.1L1045.6,1978.1L1045.7,1978.1L1046.5,1975.1L1046.5,1975.1L1047.3,1972.0L1047.3,1972.0L1048.1,1968.9L1048.1,1968.9L1048.8,1965.9L1048.8,1965.8L1049.4,1962.8L1049.4,1962.7L1049.9,1959.6L1049.9,1959.6L1050.4,1956.5L1050.4,1956.5L1050.9,1953.4L1050.9,1953.4L1051.2,1950.3L1051.2,1950.2L1051.5,1947.1L1051.5,1947.1L1051.8,1944.0L1051.8,1943.9L1051.9,1940.8L1051.9,1940.8L1052.1,1937.7L1052.1,1937.6L1052.1,1934.5L1052.1,1934.5L1052.0,1931.3L1052.0,1931.3L1051.9,1928.2L1051.9,1928.2L1051.8,1925.0L1051.8,1925.0L1051.5,1921.9L1051.5,1921.9L1051.2,1918.7L1051.2,1918.7L1050.9,1915.6L1050.9,1915.6L1050.4,1912.4L1050.4,1912.4L1049.9,1909.3L1049.9,1909.3L1049.3,1906.2L1049.3,1906.2L1048.7,1903.1L1048.7,1903.1L1048.0,1900.0L1048.0,1900.0L1047.2,1897.0L1047.2,1897.0L1046.4,1893.9L1046.4,1893.9L1045.5,1890.9L1045.5,1890.9L1044.5,1887.9L1044.5,1887.9L1043.5,1884.9L1043.5,1884.9L1042.4,1881.9L1042.4,1881.9L1041.3,1879.0L1041.3,1879.0L1040.0,1876.1L1040.0,1876.1L1038.8,1873.2L1038.8,1873.2L1037.4,1870.3L1037.4,1870.3L1036.0,1867.5L1036.0,1867.5L1034.5,1864.7L1034.5,1864.7L1033.0,1861.9L1033.0,1861.9L1031.4,1859.2L1031.4,1859.2L1029.8,1856.5L1029.8,1856.5L1028.1,1853.8L1028.1,1853.8L1026.3,1851.2L1026.3,1851.2L1024.5,1848.6L1024.5,1848.6L1022.7,1846.0L1022.7,1846.0L1020.7,1843.5L1020.7,1843.5L1018.8,1841.1L1018.8,1841.0L1016.8,1838.6L1016.8,1838.6L1014.7,1836.2L1014.7,1836.2L1012.6,1833.9L1012.6,1833.9L1010.4,1831.6L1010.4,1831.6L1008.2,1829.3L1008.2,1829.3L1006.0,1827.1L1005.9,1827.1L1003.7,1824.9L1003.6,1824.9L1001.3,1822.8L1001.3,1822.8L998.9,1820.7L998.9,1820.7L996.5,1818.7L996.5,1818.7L994.1,1816.7L994.0,1816.7L991.6,1814.8L991.5,1814.8L989.0,1812.9L989.0,1812.9L986.4,1811.1L986.4,1811.1L983.8,1809.3L983.8,1809.3L981.2,1807.6L981.2,1807.6L978.5,1805.9L978.5,1805.9L975.8,1804.3L975.8,1804.2L973.1,1802.7L973.1,1802.7L970.3,1801.1L970.3,1801.1L967.5,1799.6L967.5,1799.6L964.7,1798.2L964.7,1798.2L961.9,1796.8L961.9,1796.8L959.0,1795.5L959.0,1795.5L956.1,1794.2L956.1,1794.2L953.2,1792.9L953.2,1792.9L950.3,1791.7L950.3,1791.7L947.4,1790.6L947.4,1790.6L944.4,1789.5L944.4,1789.5L941.8,1788.5L941.7,1788.5L941.6,1788.5L941.6,1788.5L941.5,1788.5L941.5,1788.5L941.4,1788.5L941.3,1788.5L941.3,1788.6L941.2,1788.6L941.2,1788.6L941.1,1788.7L941.1,1788.7L941.1,1788.8L941.0,1788.8L941.0,1788.9L941.0,1788.9L941.0,1789.0L941.0,1789.0L941.0,1789.1L941.0,1789.2L941.0,1789.2L941.0,1789.3L941.0,1789.3L941.0,1789.4L941.6,1790.4L942.9,1793.2L944.2,1796.0L945.5,1798.8L946.6,1801.7L947.8,1804.5L948.9,1807.4L949.9,1810.3L950.9,1813.3L951.8,1816.2L952.7,1819.2L953.5,1822.1L954.3,1825.1L955.0,1828.1L955.7,1831.1L956.4,1834.2L957.1,1837.2L957.7,1840.3L958.2,1843.3L958.8,1846.4L959.2,1849.5L959.7,1852.6L959.8,1853.8L959.8,1853.9L959.8,1853.9L959.9,1854.0L959.9,1854.0L959.9,1854.1L959.9,1854.1L960.0,1854.2L960.0,1854.2L960.1,1854.2L960.1,1854.3L960.2,1854.3L960.2,1854.3L960.3,1854.3L963.4,1855.4L966.5,1856.5L969.4,1857.7L972.3,1859.1L975.0,1860.7L977.6,1862.6L980.1,1864.7L982.3,1867.0L984.4,1869.5L986.3,1872.2L987.9,1875.0L989.4,1878.0L990.6,1881.0L991.6,1884.1L992.3,1887.3L992.8,1890.5L992.9,1893.7L992.9,1896.9L992.6,1900.1L992.0,1903.3L991.3,1906.5L990.4,1909.6L989.3,1912.7L988.2,1915.6L988.1,1915.7L988.1,1915.8L988.1,1915.8L988.1,1915.9L988.1,1915.9L988.1,1916.0L988.2,1916.1L988.2,1916.1L988.2,1916.2L988.2,1916.2L988.3,1916.3L988.3,1916.3L988.4,1916.3L988.6,1916.5L991.0,1918.4L993.3,1920.3L995.5,1922.4L997.7,1924.6L999.8,1926.9L1001.8,1929.3L1003.6,1931.9L1005.2,1934.6L1006.5,1937.4L1007.4,1940.3L1007.9,1943.2L1007.8,1946.1L1007.4,1949.1L1006.6,1952.1L1005.6,1955.1L1004.4,1958.0L1003.0,1960.8L1001.6,1963.6L1000.1,1966.3L998.4,1968.9L996.7,1971.5L996.5,1971.8L996.5,1971.8L996.4,1971.9L996.4,1971.9L996.4,1972.0L996.4,1972.0L996.4,1972.1L996.4,1972.2L996.4,1972.2L996.4,1972.3L996.4,1972.3L996.5,1972.4L996.5,1972.4L996.5,1972.5L996.5,1972.5L996.6,1972.6L998.1,1973.9L1000.6,1976.3L1003.0,1978.8L1005.4,1981.3L1007.8,1983.8L1010.1,1986.4L1012.3,1989.1L1014.4,1991.8L1016.5,1994.5L1018.4,1997.4L1020.3,2000.2L1022.1,2003.1L1023.9,2006.1L1025.5,2009.1L1027.0,2012.2L1028.3,2015.1L1028.4,2015.2L1028.4,2015.2L1028.4,2015.2L1028.5,2015.3L1028.5,2015.3L1028.6,2015.4L1028.6,2015.4L1028.7,2015.4L1028.7,2015.4L1028.8,2015.4L1028.8,2015.5L1028.9,2015.5L1029.0,2015.4L1029.0,2015.4L1029.1,2015.4L1029.1,2015.4L1029.2,2015.4L1029.2,2015.3L1029.3,2015.3L1029.3,2015.3L1029.4,2015.2L1029.4,2015.2Z" fill="#b5d9f0"/>
<path d="M1029.4,2014.6L1029.4,2014.6L1029.4,2014.5L1029.3,2014.5L1029.3,2014.4L1029.2,2014.4L1029.2,2014.3L1029.1,2014.3L1029.1,2014.3L1029.0,2014.3L1029.0,2014.3L1028.9,2014.3L1028.8,2014.3L1028.8,2014.3L1028.7,2014.3L1028.7,2014.3L1028.6,2014.3L1028.6,2014.3L1028.5,2014.4L1028.5,2014.4L1028.4,2014.4L1028.4,2014.5L1028.4,2014.5L1028.1,2015.0L1026.4,2017.6L1024.7,2020.2L1023.0,2022.8L1021.1,2025.4L1019.3,2027.9L1017.4,2030.5L1015.5,2033.0L1013.6,2035.5L1011.6,2038.0L1009.7,2040.5L1007.8,2043.0L1007.8,2043.0L1005.8,2045.5L1005.8,2045.5L1003.9,2048.0L1003.9,2048.0L1002.0,2050.5L1002.0,2050.5L1000.1,2053.0L998.2,2055.5L996.3,2058.0L994.3,2060.3L992.2,2062.6L990.0,2064.7L987.7,2066.8L985.2,2068.7L982.7,2070.6L980.2,2072.4L977.6,2074.2L975.1,2075.9L972.5,2077.7L969.9,2079.4L967.3,2081.1L964.6,2082.7L961.9,2084.4L959.2,2086.0L956.5,2087.6L953.7,2089.1L950.9,2090.6L948.0,2092.1L945.1,2093.5L942.2,2094.9L939.2,2096.2L936.2,2097.3L933.2,2098.4L931.0,2099.1L930.9,2099.2L930.9,2099.2L930.8,2099.2L930.8,2099.2L930.7,2099.3L930.7,2099.3L930.7,2099.4L930.6,2099.4L930.6,2099.5L930.6,2099.5L930.6,2099.6L930.6,2099.6L930.6,2099.7L930.5,2101.5L930.3,2104.8L930.0,2108.1L929.6,2111.3L929.2,2114.5L928.6,2117.7L927.9,2120.9L927.1,2124.0L926.2,2127.1L925.2,2130.2L924.1,2133.2L922.8,2136.2L921.5,2139.1L920.1,2142.0L918.5,2144.9L916.9,2147.7L915.9,2149.3L915.8,2149.3L915.8,2149.4L915.8,2149.4L915.8,2149.5L915.8,2149.5L915.8,2149.6L915.8,2149.7L915.8,2149.7L915.8,2149.8L915.8,2149.8L915.9,2149.9L915.9,2149.9L915.9,2150.0L916.0,2150.0L916.0,2150.1L916.1,2150.1L916.1,2150.1L916.2,2150.2L916.2,2150.2L916.3,2150.2L916.4,2150.2L916.4,2150.2L916.4,2150.2L919.9,2150.3L919.9,2150.3L923.3,2150.4L923.4,2150.4L926.8,2150.4L926.8,2150.4L930.3,2150.3L930.3,2150.3L933.8,2150.2L933.8,2150.2L937.2,2150.0L937.2,2150.0L940.7,2149.7L940.7,2149.7L944.2,2149.4L944.2,2149.3L947.6,2148.9L947.6,2148.9L951.1,2148.4L951.1,2148.4L954.5,2147.8L954.5,2147.8L957.9,2147.1L958.0,2147.1L961.4,2146.3L961.4,2146.3L964.8,2145.5L964.8,2145.5L968.1,2144.5L968.1,2144.5L971.5,2143.5L971.5,2143.5L974.8,2142.3L974.8,2142.3L978.0,2141.1L978.1,2141.1L981.3,2139.8L981.3,2139.8L984.5,2138.3L984.5,2138.3L987.6,2136.8L987.6,2136.8L990.7,2135.2L990.7,2135.2L993.7,2133.5L993.7,2133.5L996.7,2131.7L996.7,2131.7L999.6,2129.8L999.6,2129.8L1002.4,2127.8L1002.5,2127.8L1005.2,2125.7L1005.2,2125.7L1007.9,2123.5L1007.9,2123.5L1010.5,2121.2L1010.5,2121.1L1013.0,2118.7L1013.1,2118.7L1015.5,2116.2L1015.5,2116.2L1017.8,2113.6L1017.8,2113.6L1020.0,2110.9L1020.1,2110.9L1022.2,2108.1L1022.2,2108.1L1024.2,2105.2L1024.2,2105.2L1026.0,2102.3L1026.1,2102.3L1027.8,2099.2L1027.8,2099.2L1029.4,2096.1L1029.4,2096.1L1030.9,2093.0L1030.9,2092.9L1032.2,2089.7L1032.3,2089.7L1033.5,2086.4L1033.5,2086.4L1034.5,2083.1L1034.5,2083.1L1035.5,2079.8L1035.5,2079.7L1036.3,2076.4L1036.3,2076.3L1036.9,2072.9L1036.9,2072.9L1037.4,2069.5L1037.4,2069.5L1037.8,2066.0L1037.8,2066.0L1038.1,2062.5L1038.1,2062.5L1038.2,2059.1L1038.2,2059.0L1038.2,2055.6L1038.2,2055.5L1038.1,2052.1L1038.1,2052.0L1037.9,2048.6L1037.9,2048.6L1037.5,2045.1L1037.5,2045.1L1037.1,2041.6L1037.1,2041.6L1036.5,2038.2L1036.5,2038.2L1035.8,2034.7L1035.8,2034.7L1035.0,2031.3L1035.0,2031.3L1034.2,2027.9L1034.1,2027.9L1033.2,2024.6L1033.2,2024.6L1032.1,2021.3L1032.0,2021.3L1030.8,2018.0L1030.8,2018.0L1029.5,2014.8L1029.5,2014.8Z" fill="#b9dfe6"/>
<path d="M713.3,2179.7L713.3,2179.7L716.0,2181.6L716.0,2181.6L718.7,2183.4L718.7,2183.4L721.5,2185.1L721.5,2185.1L724.3,2186.8L724.3,2186.8L727.2,2188.3L727.2,2188.3L730.1,2189.8L730.1,2189.8L733.1,2191.2L733.1,2191.3L736.0,2192.6L736.1,2192.6L739.1,2193.9L739.1,2193.9L742.1,2195.1L742.1,2195.1L745.2,2196.3L745.2,2196.3L748.2,2197.4L748.2,2197.4L751.3,2198.5L751.3,2198.5L754.5,2199.4L754.5,2199.4L757.6,2200.4L757.6,2200.4L760.7,2201.2L760.8,2201.2L763.9,2202.0L763.9,2202.0L767.1,2202.7L767.1,2202.7L770.3,2203.4L770.3,2203.4L773.5,2204.0L773.5,2204.0L776.7,2204.5L776.8,2204.5L780.0,2205.0L780.0,2205.0L783.2,2205.4L783.2,2205.4L786.5,2205.7L786.5,2205.7L789.7,2206.0L789.8,2206.0L793.0,2206.2L793.0,2206.2L796.3,2206.3L796.3,2206.3L799.6,2206.4L799.6,2206.4L802.8,2206.4L802.8,2206.4L806.1,2206.3L806.1,2206.3L809.4,2206.2L809.4,2206.2L812.6,2206.0L812.7,2206.0L815.9,2205.7L815.9,2205.7L819.2,2205.4L819.2,2205.4L822.4,2205.0L822.4,2205.0L825.7,2204.5L825.7,2204.5L828.9,2204.0L828.9,2204.0L832.1,2203.4L832.1,2203.4L835.3,2202.7L835.3,2202.7L838.5,2202.0L838.5,2202.0L841.7,2201.2L841.7,2201.2L844.8,2200.3L844.8,2200.3L848.0,2199.4L848.0,2199.4L851.1,2198.4L851.1,2198.4L854.2,2197.3L854.2,2197.3L857.2,2196.1L857.3,2196.1L860.3,2194.9L860.3,2194.9L863.3,2193.6L863.3,2193.6L866.3,2192.3L866.3,2192.3L869.2,2190.9L869.2,2190.9L872.1,2189.4L872.1,2189.4L875.0,2187.8L875.0,2187.8L877.9,2186.2L877.9,2186.2L880.7,2184.5L880.7,2184.5L883.4,2182.8L883.4,2182.8L886.1,2180.9L886.1,2180.9L888.8,2179.1L888.8,2179.0L891.4,2177.1L891.4,2177.1L894.0,2175.1L894.0,2175.1L896.5,2173.0L896.5,2173.0L899.0,2170.8L899.0,2170.8L901.4,2168.6L901.4,2168.6L903.7,2166.3L903.8,2166.3L906.0,2163.9L906.0,2163.9L908.2,2161.5L908.2,2161.5L910.3,2159.0L910.4,2158.9L912.4,2156.4L912.4,2156.4L914.3,2153.8L914.3,2153.7L916.2,2151.0L916.2,2151.0L916.9,2149.9L916.9,2149.9L916.9,2149.8L917.0,2149.7L917.0,2149.7L917.0,2149.6L917.0,2149.6L917.0,2149.5L917.0,2149.5L917.0,2149.4L916.9,2149.3L916.9,2149.3L916.9,2149.2L916.8,2149.2L916.8,2149.1L916.7,2149.1L916.7,2149.1L916.6,2149.0L916.6,2149.0L916.5,2149.0L916.5,2149.0L916.4,2149.0L913.0,2148.8L909.6,2148.6L906.1,2148.3L902.7,2147.9L899.3,2147.5L895.9,2147.0L892.5,2146.5L889.0,2146.0L885.6,2145.4L882.2,2144.7L878.8,2144.0L875.4,2143.3L872.8,2142.7L872.7,2142.7L872.7,2142.7L872.6,2142.7L872.6,2142.7L872.5,2142.7L872.4,2142.7L872.4,2142.7L872.3,2142.8L872.3,2142.8L872.2,2142.8L872.2,2142.9L872.2,2142.9L872.1,2143.0L870.9,2145.0L869.2,2147.5L867.4,2150.0L865.4,2152.2L863.3,2154.3L860.9,2156.2L858.5,2158.0L855.9,2159.7L853.2,2161.3L850.5,2162.8L847.7,2164.2L844.8,2165.6L841.9,2166.8L839.0,2167.9L836.0,2168.8L833.0,2169.6L829.9,2170.1L826.9,2170.5L823.8,2170.6L820.8,2170.6L817.7,2170.2L814.7,2169.7L811.6,2169.1L808.6,2168.3L805.7,2167.4L802.7,2166.4L799.8,2165.3L797.0,2164.2L794.2,2163.0L791.4,2161.7L788.8,2160.3L788.8,2160.3L788.7,2160.3L788.6,2160.3L788.6,2160.3L788.5,2160.3L788.5,2160.3L788.4,2160.3L788.3,2160.3L788.3,2160.3L786.9,2161.0L784.1,2162.3L781.4,2163.5L778.6,2164.7L775.8,2165.9L773.0,2167.0L770.2,2168.0L767.3,2169.0L764.5,2169.9L761.6,2170.7L758.7,2171.5L755.8,2172.2L752.9,2172.8L749.9,2173.4L746.9,2173.9L743.9,2174.4L740.9,2174.8L737.9,2175.2L734.9,2175.6L731.8,2175.9L728.8,2176.2L725.7,2176.4L722.6,2176.6L719.6,2176.7L716.5,2176.8L713.4,2176.9L711.3,2176.9L711.3,2176.9L711.2,2176.9L711.2,2176.9L711.1,2177.0L711.0,2177.0L711.0,2177.0L710.9,2177.0L710.9,2177.1L710.9,2177.1L710.8,2177.2L710.8,2177.2L710.8,2177.3L710.8,2177.3L710.7,2177.4L710.7,2177.5L710.7,2177.5L710.7,2177.6L710.7,2177.6L710.8,2177.7L710.8,2177.8L710.8,2177.8L710.8,2177.9L710.9,2177.9L710.9,2177.9L711.0,2178.0Z" fill="#b7dab0"/>
<path d="M551.3,1989.4L551.3,1989.4L550.8,1992.5L550.8,1992.5L550.3,1995.5L550.3,1995.5L549.9,1998.6L549.9,1998.6L549.6,2001.7L549.6,2001.7L549.3,2004.7L549.3,2004.7L549.1,2007.8L549.1,2007.8L549.0,2010.9L549.0,2010.9L548.9,2014.0L548.9,2014.0L548.9,2017.0L548.9,2017.1L549.0,2020.1L549.0,2020.1L549.1,2023.2L549.1,2023.2L549.3,2026.3L549.3,2026.3L549.5,2029.3L549.5,2029.3L549.8,2032.4L549.8,2032.4L550.2,2035.4L550.2,2035.4L550.6,2038.5L550.6,2038.5L551.1,2041.5L551.1,2041.5L551.6,2044.5L551.6,2044.5L552.2,2047.5L552.2,2047.5L552.9,2050.5L552.9,2050.5L553.6,2053.5L553.6,2053.5L554.4,2056.5L554.4,2056.5L555.2,2059.4L555.2,2059.5L556.1,2062.4L556.1,2062.4L557.0,2065.3L557.0,2065.3L558.0,2068.2L558.0,2068.2L559.1,2071.1L559.1,2071.1L560.2,2074.0L560.2,2074.0L561.4,2076.8L561.4,2076.8L562.6,2079.7L562.6,2079.7L563.8,2082.5L563.8,2082.5L565.1,2085.2L565.2,2085.3L566.5,2088.0L566.5,2088.0L567.9,2090.7L567.9,2090.7L569.4,2093.4L569.4,2093.4L570.9,2096.1L570.9,2096.1L572.5,2098.8L572.5,2098.8L574.1,2101.4L574.1,2101.4L575.8,2104.0L575.8,2104.0L577.5,2106.5L577.5,2106.5L579.2,2109.0L579.3,2109.1L581.1,2111.5L581.1,2111.6L582.9,2114.0L582.9,2114.0L584.8,2116.4L584.8,2116.4L586.8,2118.8L586.8,2118.8L588.7,2121.2L588.8,2121.2L590.8,2123.5L590.8,2123.5L592.9,2125.8L592.9,2125.8L595.0,2128.0L595.0,2128.0L597.1,2130.2L597.1,2130.2L599.3,2132.4L599.3,2132.4L601.6,2134.5L601.6,2134.5L603.8,2136.6L603.8,2136.6L606.1,2138.6L606.1,2138.6L608.5,2140.6L608.5,2140.6L610.9,2142.5L610.9,2142.5L613.3,2144.4L613.3,2144.4L615.7,2146.3L615.7,2146.3L618.2,2148.1L618.2,2148.1L620.7,2149.9L620.7,2149.9L623.3,2151.6L623.3,2151.6L625.8,2153.3L625.9,2153.3L628.5,2154.9L628.5,2154.9L631.1,2156.5L631.1,2156.5L633.8,2158.0L633.8,2158.0L636.5,2159.5L636.5,2159.5L639.2,2160.9L639.2,2160.9L641.9,2162.3L641.9,2162.3L644.7,2163.6L644.7,2163.6L647.5,2164.9L647.5,2164.9L650.3,2166.1L650.3,2166.1L653.1,2167.3L653.2,2167.3L656.0,2168.4L656.0,2168.4L658.9,2169.4L658.9,2169.4L661.8,2170.4L661.8,2170.4L664.7,2171.3L664.7,2171.3L667.7,2172.2L667.7,2172.2L670.6,2173.0L670.6,2173.0L673.6,2173.8L673.6,2173.8L676.6,2174.5L676.6,2174.5L679.6,2175.1L679.6,2175.1L682.6,2175.7L682.6,2175.7L685.7,2176.2L685.7,2176.2L688.7,2176.6L688.7,2176.6L691.8,2177.0L691.8,2177.0L694.9,2177.3L694.9,2177.3L697.9,2177.6L697.9,2177.6L701.0,2177.8L701.0,2177.8L704.1,2178.0L704.1,2178.0L707.2,2178.1L707.2,2178.1L710.3,2178.1L710.3,2178.1L711.3,2178.1L711.4,2178.1L711.4,2178.1L711.5,2178.1L711.6,2178.1L711.6,2178.0L711.7,2178.0L711.7,2178.0L711.8,2177.9L711.8,2177.9L711.8,2177.8L711.9,2177.8L711.9,2177.7L711.9,2177.7L711.9,2177.6L711.9,2177.5L711.9,2177.5L711.9,2177.4L711.9,2177.4L711.9,2177.3L711.9,2177.3L711.8,2177.2L711.8,2177.2L711.8,2177.1L711.7,2177.1L711.7,2177.0L711.4,2176.8L708.9,2174.8L706.4,2172.7L704.0,2170.5L701.7,2168.3L699.5,2166.0L697.3,2163.6L695.2,2161.1L693.1,2158.6L691.2,2156.0L689.3,2153.4L687.5,2150.7L685.8,2147.9L684.2,2145.1L683.5,2143.7L683.4,2143.7L683.4,2143.6L683.3,2143.6L683.3,2143.5L683.3,2143.5L683.2,2143.5L683.1,2143.4L683.1,2143.4L683.0,2143.4L683.0,2143.4L682.9,2143.4L682.8,2143.4L682.8,2143.4L681.1,2143.8L677.7,2144.5L674.2,2145.1L670.8,2145.4L667.4,2145.6L664.0,2145.5L660.7,2145.2L657.4,2144.7L654.1,2143.9L651.0,2142.8L647.9,2141.4L644.9,2139.8L642.0,2137.9L639.2,2135.9L636.6,2133.6L634.2,2131.1L631.9,2128.5L629.7,2125.7L627.8,2122.8L626.1,2119.8L624.6,2116.7L623.3,2113.4L622.3,2110.2L621.5,2106.8L621.0,2103.4L620.6,2100.0L620.5,2097.0L620.5,2097.0L620.5,2096.9L620.4,2096.8L620.4,2096.8L620.4,2096.7L620.3,2096.7L620.3,2096.6L620.3,2096.6L620.2,2096.6L620.2,2096.5L620.1,2096.5L620.1,2096.5L620.0,2096.5L618.2,2096.1L615.2,2095.3L612.3,2094.3L609.5,2093.3L606.7,2092.2L604.0,2090.9L601.4,2089.4L598.8,2087.8L596.4,2086.0L594.1,2084.0L592.0,2081.9L589.9,2079.6L588.0,2077.1L586.2,2074.5L584.6,2071.8L583.2,2069.0L581.9,2066.1L580.9,2063.1L580.1,2060.1L579.4,2057.0L579.1,2053.9L578.9,2050.7L579.0,2047.6L579.4,2044.5L579.9,2041.4L580.6,2038.3L581.4,2035.2L582.3,2032.2L582.8,2030.7L582.9,2030.6L582.9,2030.6L582.9,2030.5L582.9,2030.5L582.9,2030.4L582.9,2030.4L582.8,2030.3L582.8,2030.2L582.8,2030.2L582.7,2030.1L582.7,2030.1L582.0,2029.4L579.9,2027.1L577.9,2024.8L575.8,2022.5L573.9,2020.1L572.0,2017.6L570.1,2015.1L568.3,2012.6L566.5,2010.0L564.8,2007.4L563.1,2004.7L561.4,2002.1L559.8,1999.3L558.2,1996.6L556.7,1993.9L555.2,1991.1L553.7,1988.3L552.9,1986.8L552.9,1986.7L552.9,1986.7L552.8,1986.6L552.8,1986.6L552.7,1986.6L552.7,1986.5L552.6,1986.5L552.6,1986.5L552.5,1986.5L552.5,1986.5L552.4,1986.5L552.3,1986.5L552.3,1986.5L552.2,1986.5L552.2,1986.5L552.1,1986.5L552.1,1986.6L552.0,1986.6L552.0,1986.6L551.9,1986.7L551.9,1986.7L551.9,1986.8L551.8,1986.8L551.8,1986.9L551.8,1986.9Z" fill="#d0e4a1"/>
<path d="M751.6,1741.3L751.6,1741.3L748.6,1740.3L748.6,1740.3L745.7,1739.3L745.7,1739.3L742.7,1738.4L742.7,1738.4L739.7,1737.6L739.6,1737.6L736.6,1736.9L736.6,1736.9L733.5,1736.3L733.5,1736.3L730.5,1735.8L730.4,1735.8L727.4,1735.3L727.4,1735.3L724.3,1734.9L724.3,1734.9L721.1,1734.6L721.1,1734.6L718.0,1734.4L718.0,1734.4L714.9,1734.2L714.9,1734.2L711.7,1734.1L711.7,1734.1L708.6,1734.0L708.6,1734.0L705.4,1734.0L705.4,1734.0L702.3,1734.0L702.3,1734.0L699.1,1734.1L699.1,1734.1L696.0,1734.2L696.0,1734.2L692.8,1734.3L692.8,1734.3L689.7,1734.4L689.7,1734.4L686.9,1734.6L686.8,1734.6L686.8,1734.6L686.7,1734.6L686.7,1734.6L686.6,1734.7L686.6,1734.7L684.5,1736.3L684.5,1736.3L682.0,1738.3L682.0,1738.3L679.7,1740.3L679.7,1740.3L677.4,1742.4L677.4,1742.4L675.1,1744.6L675.1,1744.6L672.9,1746.8L672.9,1746.8L670.8,1749.1L670.8,1749.1L668.7,1751.4L668.7,1751.5L666.7,1753.9L666.7,1753.9L664.8,1756.3L664.8,1756.3L662.9,1758.8L662.9,1758.8L661.0,1761.3L661.0,1761.3L659.2,1763.9L659.2,1763.9L657.5,1766.5L657.5,1766.5L655.7,1769.1L655.7,1769.1L654.0,1771.7L654.0,1771.7L652.3,1774.3L652.3,1774.3L650.6,1776.9L650.6,1776.9L648.9,1779.5L647.3,1782.1L645.6,1784.7L644.0,1787.3L644.0,1787.3L642.4,1789.8L642.4,1789.9L642.4,1789.9L642.3,1790.0L642.3,1790.0L642.3,1790.1L642.3,1790.2L642.3,1790.2L642.3,1790.3L642.3,1790.3L642.4,1790.4L642.4,1790.4L642.4,1790.5L642.5,1790.5L642.5,1790.6L642.5,1790.6L642.6,1790.6L642.6,1790.7L642.7,1790.7L642.7,1790.7L642.8,1790.7L642.9,1790.7L644.1,1790.9L647.4,1791.2L650.6,1791.6L653.8,1791.9L657.0,1792.4L660.2,1792.8L663.5,1793.3L666.5,1793.7L666.5,1793.8L666.6,1793.8L666.6,1793.7L666.7,1793.7L666.8,1793.7L666.8,1793.7L666.9,1793.7L666.9,1793.6L667.0,1793.6L667.0,1793.6L667.0,1793.5L667.1,1793.5L667.1,1793.4L667.1,1793.4L668.2,1790.7L669.5,1788.0L671.0,1785.3L672.7,1782.8L674.7,1780.5L676.8,1778.4L679.1,1776.6L681.5,1775.0L684.1,1773.5L686.9,1772.3L689.7,1771.3L692.6,1770.5L695.6,1769.8L698.7,1769.3L701.8,1769.0L704.9,1768.8L708.0,1768.8L711.0,1769.0L714.1,1769.2L717.2,1769.6L720.2,1770.1L723.2,1770.6L724.9,1771.0L725.0,1771.0L725.1,1771.0L725.1,1771.0L725.2,1771.0L725.2,1771.0L725.3,1771.0L725.3,1770.9L725.4,1770.9L725.4,1770.9L725.5,1770.8L725.5,1770.8L725.6,1770.7L726.7,1769.0L728.6,1766.1L730.6,1763.2L732.7,1760.5L734.8,1757.8L737.1,1755.2L739.4,1752.8L741.8,1750.4L744.3,1748.3L746.9,1746.2L749.6,1744.4L752.4,1742.7L752.5,1742.7L752.5,1742.7L752.6,1742.6L752.6,1742.6L752.6,1742.5L752.7,1742.5L752.7,1742.4L752.7,1742.4L752.7,1742.3L752.7,1742.3L752.7,1742.2L752.7,1742.1L752.7,1742.1L752.7,1742.0L752.7,1742.0L752.7,1741.9L752.6,1741.9L752.6,1741.8L752.5,1741.8L752.5,1741.7L752.5,1741.7L752.4,1741.7L752.4,1741.7Z" fill="#f08c45"/>
<path d="M997.7,1972.2L997.7,1972.2L999.4,1969.6L999.4,1969.6L1001.1,1966.9L1001.1,1966.9L1002.6,1964.2L1002.6,1964.2L1004.1,1961.4L1004.1,1961.3L1005.5,1958.5L1005.5,1958.5L1006.7,1955.5L1006.7,1955.5L1007.7,1952.5L1007.8,1952.4L1008.5,1949.4L1008.6,1949.3L1009.0,1946.3L1009.0,1946.2L1009.1,1943.2L1009.1,1943.1L1009.0,1943.1L1008.6,1940.1L1008.6,1940.0L1008.6,1940.0L1007.7,1937.0L1007.6,1937.0L1006.3,1934.1L1006.3,1934.1L1004.6,1931.3L1004.6,1931.3L1002.8,1928.6L1002.7,1928.6L1000.7,1926.1L1000.7,1926.1L998.6,1923.7L998.6,1923.7L996.4,1921.5L996.4,1921.5L994.1,1919.5L994.1,1919.4L991.8,1917.5L991.8,1917.5L989.3,1915.6L989.3,1915.6L989.1,1915.4L989.0,1915.3L989.0,1915.3L988.9,1915.3L988.9,1915.3L988.8,1915.3L988.8,1915.3L988.7,1915.3L988.6,1915.3L988.6,1915.3L988.5,1915.3L988.5,1915.3L988.4,1915.3L988.4,1915.4L988.3,1915.4L988.3,1915.5L988.3,1915.5L988.2,1915.5L988.2,1915.6L988.2,1915.6L988.1,1915.7L986.8,1918.7L985.4,1921.6L983.8,1924.5L982.2,1927.3L980.4,1930.1L978.6,1932.8L976.8,1935.5L974.8,1938.1L972.9,1940.7L970.9,1943.3L968.9,1945.8L967.6,1947.4L967.6,1947.4L967.5,1947.5L967.5,1947.6L967.5,1947.6L967.5,1947.7L967.5,1947.7L967.5,1947.8L967.5,1947.8L967.5,1947.9L967.5,1948.0L967.5,1948.0L967.5,1948.1L967.6,1948.1L967.6,1948.2L967.6,1948.2L967.7,1948.2L968.9,1949.2L971.6,1951.4L974.3,1953.6L977.0,1955.8L979.6,1958.0L982.3,1960.2L985.0,1962.5L987.6,1964.7L990.3,1967.0L992.9,1969.3L995.5,1971.6L996.6,1972.6L996.6,1972.6L996.7,1972.6L996.7,1972.7L996.8,1972.7L996.8,1972.7L996.9,1972.7L997.0,1972.7L997.0,1972.7L997.1,1972.7L997.1,1972.7L997.2,1972.7L997.3,1972.7L997.3,1972.6L997.4,1972.6L997.4,1972.6L997.4,1972.5L997.5,1972.5Z" fill="#b1bdd4"/>
<path d="M585.9,1853.9L585.9,1853.9L583.0,1855.9L583.0,1855.9L580.3,1858.1L580.3,1858.2L577.7,1860.6L577.7,1860.6L575.3,1863.2L575.3,1863.2L573.1,1866.0L573.1,1866.0L571.1,1868.9L571.1,1868.9L569.3,1871.9L569.3,1872.0L567.7,1875.1L567.7,1875.1L566.3,1878.4L566.3,1878.4L565.1,1881.7L565.1,1881.7L564.1,1885.1L564.1,1885.2L563.3,1888.6L563.3,1888.7L562.7,1892.1L562.7,1892.2L562.3,1895.7L562.3,1895.7L562.1,1899.3L562.1,1899.3L562.1,1902.9L562.1,1902.9L562.3,1906.5L562.3,1906.5L562.7,1910.0L562.7,1910.1L563.2,1913.6L563.2,1913.6L564.0,1917.1L564.0,1917.1L564.9,1920.5L564.9,1920.6L566.0,1923.9L566.0,1923.9L567.3,1927.2L567.3,1927.2L568.8,1930.4L568.8,1930.4L570.5,1933.4L570.5,1933.5L570.6,1933.6L570.6,1933.7L570.7,1933.7L570.7,1933.8L570.7,1933.8L570.8,1933.8L570.9,1933.9L570.9,1933.9L571.0,1933.9L571.0,1933.9L571.1,1933.9L571.1,1933.9L571.2,1933.9L571.3,1933.9L571.3,1933.9L571.4,1933.8L571.4,1933.8L571.5,1933.8L571.5,1933.7L571.6,1933.7L571.6,1933.6L572.3,1932.5L574.1,1930.0L576.0,1927.6L577.9,1925.2L579.9,1922.9L581.9,1920.6L584.0,1918.3L586.2,1916.1L588.3,1914.0L590.5,1911.9L592.7,1909.8L595.0,1907.8L597.3,1905.9L598.6,1904.8L598.6,1904.8L598.6,1904.7L598.7,1904.7L598.7,1904.6L598.7,1904.6L598.7,1904.5L598.8,1904.5L598.8,1904.4L598.8,1904.4L598.8,1904.3L598.8,1904.3L598.8,1904.2L598.0,1901.4L598.0,1901.4L597.2,1898.2L597.2,1898.2L596.2,1895.1L596.2,1895.1L595.3,1891.9L595.3,1891.9L594.3,1888.8L593.3,1885.7L592.4,1882.5L591.5,1879.4L590.7,1876.3L590.0,1873.1L589.4,1869.9L589.0,1866.8L588.6,1863.6L588.4,1860.3L588.3,1857.1L588.4,1853.9L588.4,1853.5L588.4,1853.4L588.4,1853.3L588.4,1853.3L588.4,1853.2L588.3,1853.2L588.3,1853.1L588.3,1853.1L588.2,1853.0L588.2,1853.0L588.2,1852.9L588.1,1852.9L588.1,1852.9L588.0,1852.9L587.9,1852.8L587.9,1852.8L587.8,1852.8L587.8,1852.8L587.7,1852.8L587.7,1852.8L587.6,1852.9L587.5,1852.9L587.5,1852.9Z" fill="#b8c9d1"/>
<path d="M641.0,1789.4L641.0,1789.4L637.8,1789.1L637.8,1789.1L634.5,1789.1L634.5,1789.1L631.2,1789.3L631.2,1789.3L627.9,1789.7L627.9,1789.7L624.7,1790.4L624.6,1790.4L621.4,1791.3L621.4,1791.4L618.3,1792.5L618.2,1792.5L615.2,1793.9L615.2,1793.9L612.3,1795.5L612.2,1795.6L609.4,1797.4L609.4,1797.4L606.8,1799.4L606.7,1799.4L604.3,1801.6L604.2,1801.6L602.0,1804.0L602.0,1804.0L599.9,1806.5L599.9,1806.6L598.1,1809.2L598.0,1809.3L596.4,1812.1L596.4,1812.1L595.0,1815.0L595.0,1815.1L593.8,1818.1L593.8,1818.1L592.7,1821.2L592.7,1821.2L591.8,1824.4L591.7,1824.4L590.9,1827.6L590.9,1827.6L590.2,1830.9L590.2,1830.9L589.5,1834.1L589.5,1834.1L588.9,1837.4L588.9,1837.4L588.4,1840.7L588.3,1840.7L587.9,1844.0L587.9,1844.0L587.6,1847.2L587.6,1847.3L587.3,1850.5L587.3,1850.6L587.2,1853.4L587.2,1853.5L587.2,1853.5L587.2,1853.6L587.2,1853.6L587.3,1853.7L587.3,1853.7L587.3,1853.8L587.4,1853.8L587.4,1853.9L587.4,1853.9L587.5,1853.9L587.5,1854.0L587.6,1854.0L587.7,1854.0L587.7,1854.0L587.8,1854.0L587.8,1854.0L587.9,1854.0L587.9,1854.0L588.0,1854.0L588.1,1854.0L588.1,1853.9L589.4,1853.2L592.4,1851.7L595.5,1850.4L598.7,1849.3L602.0,1848.4L605.3,1847.6L608.7,1847.0L612.1,1846.4L615.5,1846.0L619.0,1845.6L622.5,1845.2L624.7,1844.9L624.8,1844.9L624.9,1844.9L624.9,1844.9L625.0,1844.9L625.0,1844.8L625.1,1844.8L625.1,1844.8L625.1,1844.7L625.2,1844.7L625.2,1844.6L625.2,1844.6L625.3,1844.5L625.3,1844.5L625.3,1844.4L625.5,1842.7L626.0,1839.6L626.6,1836.6L627.2,1833.6L627.8,1830.6L628.6,1827.6L629.3,1824.6L630.2,1821.6L631.0,1818.6L632.0,1815.7L633.0,1812.8L634.1,1809.9L635.2,1807.0L636.4,1804.2L637.6,1801.4L639.0,1798.6L640.4,1795.9L641.8,1793.2L643.4,1790.6L643.4,1790.5L643.5,1790.4L643.5,1790.4L643.5,1790.3L643.5,1790.2L643.5,1790.2L643.5,1790.1L643.5,1790.1L643.5,1790.0L643.5,1790.0L643.5,1789.9L643.4,1789.9L643.4,1789.8L643.4,1789.8L643.3,1789.7L643.3,1789.7L643.2,1789.6L643.2,1789.6L643.1,1789.6L643.1,1789.6L643.0,1789.6L643.0,1789.5Z" fill="#b8cb98"/>
<path d="M554.1,1991.6L554.1,1991.7L555.6,1994.4L555.6,1994.4L557.2,1997.2L557.2,1997.2L558.8,2000.0L558.8,2000.0L560.4,2002.7L560.4,2002.7L562.0,2005.4L562.0,2005.4L563.7,2008.0L563.7,2008.0L565.5,2010.7L565.5,2010.7L567.3,2013.3L567.3,2013.3L569.1,2015.8L569.1,2015.8L571.0,2018.3L571.0,2018.3L572.9,2020.8L572.9,2020.8L574.9,2023.2L574.9,2023.2L576.9,2025.6L577.0,2025.6L579.0,2027.9L579.0,2027.9L581.1,2030.2L581.2,2030.2L581.8,2030.9L581.9,2031.0L581.9,2031.0L582.0,2031.0L582.0,2031.1L582.1,2031.1L582.2,2031.1L582.2,2031.1L582.3,2031.1L582.3,2031.1L582.4,2031.1L582.4,2031.1L582.5,2031.1L582.5,2031.1L582.6,2031.0L582.6,2031.0L582.7,2031.0L582.7,2030.9L582.8,2030.9L582.8,2030.8L582.8,2030.8L582.8,2030.7L583.4,2029.2L584.5,2026.3L585.6,2023.3L586.8,2020.5L588.1,2017.6L589.5,2014.8L590.9,2012.0L592.3,2009.2L593.8,2006.5L595.0,2004.4L595.0,2004.3L595.0,2004.2L595.0,2004.2L595.0,2004.1L595.0,2004.1L595.0,2004.0L595.0,2004.0L595.0,2003.9L595.0,2003.9L595.0,2003.8L595.0,2003.8L594.9,2003.7L594.9,2003.7L594.8,2003.6L592.9,2001.9L590.7,1999.4L588.7,1996.8L587.0,1993.9L585.5,1991.0L584.4,1987.9L583.5,1984.8L583.1,1981.6L583.0,1978.5L583.3,1975.5L583.9,1972.5L584.9,1969.5L586.1,1966.5L587.5,1963.6L589.1,1960.7L590.7,1957.8L591.9,1955.6L592.0,1955.6L592.0,1955.5L592.0,1955.4L592.0,1955.4L592.0,1955.3L592.0,1955.3L592.0,1955.2L592.0,1955.1L592.0,1955.1L591.9,1955.0L591.9,1955.0L591.9,1954.9L591.8,1954.9L591.8,1954.8L589.8,1953.2L587.1,1950.9L584.5,1948.6L582.0,1946.2L579.7,1943.8L577.4,1941.2L575.3,1938.5L573.3,1935.8L571.6,1933.0L571.6,1932.9L571.5,1932.9L571.5,1932.9L571.4,1932.8L571.4,1932.8L571.3,1932.8L571.3,1932.7L571.2,1932.7L571.2,1932.7L571.1,1932.7L571.0,1932.7L571.0,1932.7L570.9,1932.7L570.9,1932.8L570.8,1932.8L570.8,1932.8L570.7,1932.8L570.7,1932.9L570.6,1932.9L570.6,1933.0L569.6,1934.4L569.6,1934.4L568.0,1937.0L568.0,1937.1L566.5,1939.7L566.5,1939.8L565.0,1942.5L565.0,1942.5L563.7,1945.2L563.7,1945.3L562.5,1948.1L562.5,1948.1L561.4,1950.9L561.4,1950.9L560.4,1953.8L560.4,1953.8L559.5,1956.6L559.5,1956.7L558.7,1959.5L558.7,1959.6L557.9,1962.5L557.9,1962.5L557.1,1965.4L557.1,1965.4L556.4,1968.3L555.6,1971.3L554.8,1974.3L554.8,1974.3L554.1,1977.3L554.1,1977.3L553.3,1980.3L553.3,1980.3L552.6,1983.3L552.6,1983.3L551.9,1986.4L551.9,1986.4L551.8,1986.9L551.8,1987.0L551.8,1987.1L551.8,1987.1L551.8,1987.2L551.8,1987.2L551.8,1987.3L551.9,1987.3L552.6,1988.8L552.6,1988.9Z" fill="#d0ca7e"/>
<path d="M960.9,1852.5L960.9,1852.5L960.4,1849.3L960.4,1849.3L959.9,1846.2L959.9,1846.2L959.4,1843.1L959.4,1843.1L958.8,1840.1L958.8,1840.0L958.2,1837.0L958.2,1837.0L957.6,1833.9L957.6,1833.9L956.9,1830.9L956.9,1830.9L956.2,1827.8L956.2,1827.8L955.5,1824.8L955.4,1824.8L954.7,1821.8L954.7,1821.8L953.8,1818.8L953.8,1818.8L952.9,1815.8L952.9,1815.8L952.0,1812.9L952.0,1812.9L951.0,1810.0L951.0,1809.9L950.0,1807.0L950.0,1807.0L948.9,1804.1L948.9,1804.1L947.8,1801.2L947.8,1801.2L946.6,1798.4L946.6,1798.4L945.3,1795.5L945.3,1795.5L944.0,1792.7L944.0,1792.7L942.6,1789.9L942.6,1789.9L942.1,1788.8L942.1,1788.8L942.0,1788.7L942.0,1788.7L942.0,1788.7L941.9,1788.6L941.9,1788.6L941.8,1788.6L941.8,1788.5L941.4,1788.4L941.4,1788.4L938.5,1787.4L938.5,1787.4L935.5,1786.4L932.5,1785.4L929.5,1784.4L926.6,1783.4L923.7,1782.3L923.7,1782.3L920.7,1781.3L920.7,1781.3L917.8,1780.3L917.8,1780.3L914.8,1779.5L914.7,1779.5L911.7,1778.8L911.7,1778.8L908.6,1778.2L908.6,1778.2L905.5,1777.7L905.5,1777.7L902.4,1777.2L902.4,1777.2L899.3,1776.8L899.3,1776.8L896.2,1776.4L896.2,1776.4L894.6,1776.2L894.6,1776.2L894.5,1776.2L894.4,1776.2L894.4,1776.2L894.3,1776.3L894.3,1776.3L894.2,1776.3L894.2,1776.4L894.1,1776.4L894.1,1776.4L894.0,1776.5L894.0,1776.5L894.0,1776.6L894.0,1776.7L894.0,1776.7L893.9,1776.8L893.9,1776.8L893.9,1776.9L894.0,1776.9L894.0,1777.0L894.6,1779.0L895.5,1781.9L896.2,1784.9L896.8,1787.8L897.3,1790.8L897.8,1793.8L898.2,1796.8L898.5,1799.8L898.6,1801.8L898.6,1801.8L898.6,1801.9L898.6,1801.9L898.7,1802.0L898.7,1802.0L898.7,1802.1L898.8,1802.1L898.8,1802.2L898.9,1802.2L898.9,1802.2L899.0,1802.3L899.0,1802.3L899.1,1802.3L899.1,1802.3L899.2,1802.3L900.5,1802.4L903.6,1802.8L906.6,1803.4L909.6,1804.2L912.4,1805.4L915.1,1806.9L917.6,1808.8L919.8,1811.0L921.7,1813.4L923.3,1816.0L924.5,1818.7L925.4,1821.5L926.0,1824.5L926.5,1827.5L926.7,1830.6L926.9,1833.8L927.0,1837.0L927.1,1840.3L927.1,1840.3L927.3,1843.5L927.3,1843.5L927.4,1845.1L927.4,1845.1L927.4,1845.2L927.4,1845.2L927.4,1845.3L927.5,1845.3L927.5,1845.4L927.5,1845.4L927.6,1845.5L927.6,1845.5L927.7,1845.5L927.7,1845.6L927.8,1845.6L927.9,1845.6L928.9,1845.8L932.0,1846.5L935.2,1847.3L938.4,1848.1L941.5,1848.9L944.7,1849.7L947.8,1850.6L950.9,1851.5L954.1,1852.4L957.2,1853.3L960.2,1854.3L960.3,1854.3L960.3,1854.3L960.4,1854.3L960.5,1854.3L960.5,1854.3L960.6,1854.3L960.6,1854.3L960.7,1854.3L960.7,1854.2L960.8,1854.2L960.8,1854.2L960.9,1854.1L960.9,1854.1L960.9,1854.0L961.0,1854.0L961.0,1853.9L961.0,1853.8L961.0,1853.8L961.0,1853.7L961.0,1853.7Z" fill="#b2c0c2"/>
<path d="M821.1,1751.9L821.1,1751.9L818.5,1749.6L818.5,1749.6L815.8,1747.5L815.8,1747.4L813.0,1745.5L812.9,1745.5L810.0,1743.7L809.9,1743.7L806.8,1742.0L806.8,1742.0L803.6,1740.5L803.6,1740.5L800.3,1739.2L800.3,1739.2L796.9,1738.0L796.9,1738.0L793.5,1737.1L793.4,1737.1L789.9,1736.3L789.9,1736.3L786.4,1735.7L786.3,1735.7L782.8,1735.3L782.7,1735.3L779.2,1735.1L779.1,1735.1L775.6,1735.1L775.5,1735.1L772.0,1735.4L772.0,1735.4L768.5,1735.9L768.4,1735.9L765.0,1736.6L764.9,1736.7L761.6,1737.6L761.5,1737.6L758.3,1738.7L758.2,1738.7L755.0,1740.1L755.0,1740.1L752.0,1741.6L751.9,1741.6L751.8,1741.7L751.8,1741.7L751.7,1741.8L751.7,1741.8L751.6,1741.8L751.6,1741.9L751.6,1741.9L751.6,1742.0L751.5,1742.1L751.5,1742.1L751.5,1742.2L751.5,1742.2L751.5,1742.3L751.5,1742.3L751.6,1742.4L751.6,1742.4L751.6,1742.5L751.6,1742.6L751.7,1742.6L751.7,1742.6L751.8,1742.7L751.8,1742.7L751.8,1742.7L751.9,1742.8L754.0,1743.6L756.8,1744.9L759.6,1746.2L762.3,1747.7L765.0,1749.2L767.6,1750.8L770.2,1752.6L772.7,1754.4L775.1,1756.3L777.4,1758.3L779.6,1760.4L781.8,1762.6L783.9,1764.9L785.9,1767.3L787.0,1768.8L787.0,1768.9L787.1,1768.9L787.1,1769.0L787.2,1769.0L787.2,1769.0L787.3,1769.0L787.3,1769.1L787.4,1769.1L787.4,1769.1L787.5,1769.1L787.6,1769.1L787.6,1769.1L787.7,1769.0L789.3,1768.5L789.4,1768.5L792.3,1767.4L792.3,1767.4L795.2,1766.4L795.2,1766.4L798.1,1765.3L798.1,1765.3L800.9,1764.3L800.9,1764.3L803.8,1763.2L803.8,1763.2L806.7,1762.0L806.7,1762.0L809.5,1760.9L809.5,1760.9L812.3,1759.8L812.3,1759.8L815.1,1758.6L815.1,1758.6L817.9,1757.4L817.9,1757.4L820.7,1756.2L820.7,1756.2L823.1,1755.1L823.2,1755.1L823.2,1755.0L823.3,1755.0L823.3,1754.9L823.3,1754.9L823.4,1754.9L823.4,1754.8L823.4,1754.8L823.5,1754.7L823.5,1754.6L823.5,1754.6L823.5,1754.5L823.5,1754.5L823.5,1754.4L823.5,1754.4L823.4,1754.3L823.4,1754.2L823.4,1754.2L823.3,1754.2L823.3,1754.1Z" fill="#b5cdb7"/>
<path d="M790.9,2162.7L790.9,2162.7L793.7,2164.0L793.7,2164.1L796.5,2165.3L796.5,2165.3L799.4,2166.4L799.4,2166.4L802.3,2167.5L802.3,2167.5L805.3,2168.5L805.3,2168.5L808.3,2169.4L808.3,2169.4L811.3,2170.2L811.4,2170.2L814.4,2170.9L814.5,2170.9L817.6,2171.4L817.6,2171.4L820.7,2171.7L820.7,2171.8L823.8,2171.8L823.9,2171.8L827.0,2171.7L827.0,2171.7L830.1,2171.3L830.1,2171.3L833.2,2170.7L833.2,2170.7L836.3,2170.0L836.3,2170.0L839.3,2169.0L839.3,2169.0L842.3,2167.9L842.3,2167.9L845.3,2166.7L845.3,2166.7L848.2,2165.3L848.2,2165.3L851.0,2163.9L851.0,2163.9L853.8,2162.3L853.8,2162.3L856.5,2160.7L856.5,2160.7L859.1,2159.0L859.2,2159.0L861.7,2157.2L861.7,2157.2L864.1,2155.2L864.1,2155.2L866.3,2153.1L866.3,2153.0L868.3,2150.7L868.4,2150.7L870.2,2148.3L870.2,2148.2L871.9,2145.7L871.9,2145.6L873.2,2143.6L873.2,2143.5L873.2,2143.5L873.2,2143.4L873.2,2143.4L873.3,2143.3L873.3,2143.2L873.2,2143.2L873.2,2143.1L873.2,2143.1L873.2,2143.0L873.2,2143.0L873.1,2142.9L873.1,2142.9L873.0,2142.8L873.0,2142.8L873.0,2142.8L872.9,2142.7L872.8,2142.7L872.8,2142.7L872.1,2142.5L868.7,2141.7L865.3,2140.9L861.9,2140.0L858.6,2139.1L855.2,2138.1L851.9,2137.1L848.5,2136.1L845.2,2135.1L841.8,2134.0L838.5,2132.9L835.2,2131.8L835.0,2131.8L835.0,2131.7L834.9,2131.7L834.8,2131.7L834.8,2131.7L834.7,2131.7L834.6,2131.7L834.6,2131.8L834.5,2131.8L834.5,2131.8L834.4,2131.9L834.3,2132.0L831.9,2133.9L829.5,2135.8L827.0,2137.6L824.5,2139.4L822.0,2141.2L819.4,2142.9L816.8,2144.6L814.2,2146.3L811.5,2147.9L808.8,2149.5L806.1,2151.1L803.4,2152.6L800.7,2154.1L798.0,2155.5L795.2,2156.9L792.4,2158.3L789.7,2159.7L788.3,2160.3L788.2,2160.4L788.2,2160.4L788.1,2160.4L788.1,2160.5L788.1,2160.5L788.0,2160.6L788.0,2160.6L788.0,2160.7L788.0,2160.7L787.9,2160.8L787.9,2160.8L787.9,2160.9L787.9,2160.9L788.0,2161.0L788.0,2161.1L788.0,2161.1L788.0,2161.2L788.0,2161.2L788.1,2161.3L788.1,2161.3L788.2,2161.3L788.2,2161.4L788.3,2161.4Z" fill="#b4c77f"/>
<path d="M894.8,1775.8L894.8,1775.7L893.7,1772.9L893.7,1772.8L892.5,1770.0L892.4,1770.0L891.0,1767.2L891.0,1767.2L889.4,1764.5L889.4,1764.5L887.7,1761.9L887.6,1761.9L885.8,1759.4L885.7,1759.4L883.7,1757.1L883.6,1757.1L881.4,1755.0L881.4,1754.9L879.1,1753.0L879.0,1753.0L876.5,1751.3L876.5,1751.2L873.9,1749.8L873.8,1749.7L871.0,1748.5L871.0,1748.4L868.1,1747.4L868.1,1747.4L865.1,1746.6L865.1,1746.6L862.1,1745.9L862.0,1745.9L858.9,1745.5L858.9,1745.5L855.8,1745.3L855.7,1745.3L852.6,1745.3L852.6,1745.3L849.4,1745.4L849.4,1745.4L846.3,1745.8L846.2,1745.8L843.2,1746.3L843.1,1746.3L840.1,1747.0L840.1,1747.1L837.1,1747.9L837.1,1747.9L834.2,1748.9L834.2,1749.0L831.3,1750.1L831.3,1750.1L828.5,1751.3L828.5,1751.3L825.8,1752.6L825.8,1752.6L823.0,1753.8L822.6,1754.0L822.6,1754.0L822.5,1754.0L822.5,1754.1L822.4,1754.1L822.4,1754.2L822.4,1754.2L822.3,1754.3L822.3,1754.3L822.3,1754.4L822.3,1754.4L822.3,1754.5L822.3,1754.5L822.3,1754.6L822.3,1754.6L822.3,1754.7L822.3,1754.8L822.3,1754.8L822.4,1754.9L822.4,1754.9L822.5,1755.0L822.6,1755.1L824.9,1757.7L826.9,1760.3L828.9,1763.1L830.7,1766.0L832.5,1769.0L834.2,1772.0L835.8,1775.1L837.4,1778.2L837.5,1778.4L837.5,1778.4L837.5,1778.5L837.6,1778.5L837.6,1778.6L837.7,1778.6L837.7,1778.6L837.8,1778.7L837.8,1778.7L837.9,1778.7L837.9,1778.7L838.0,1778.7L838.1,1778.7L838.1,1778.7L839.6,1778.4L842.7,1777.9L845.8,1777.4L848.9,1777.0L852.0,1776.7L855.1,1776.4L858.2,1776.2L861.4,1776.0L864.5,1775.9L867.7,1775.9L870.8,1775.9L874.0,1776.0L877.2,1776.1L880.3,1776.2L883.5,1776.4L886.6,1776.6L889.8,1776.9L892.9,1777.2L894.5,1777.4L894.5,1777.4L894.6,1777.4L894.7,1777.4L894.7,1777.4L894.8,1777.4L894.8,1777.4L894.9,1777.3L894.9,1777.3L895.0,1777.2L895.0,1777.2L895.0,1777.2L895.1,1777.1L895.1,1777.0L895.1,1777.0L895.1,1776.9L895.1,1776.9L895.1,1776.8L895.1,1776.8L895.1,1776.7L895.1,1776.6Z" fill="#cfcd67"/>
<path d="M933.6,2099.6L933.6,2099.5L936.6,2098.5L936.7,2098.5L939.7,2097.3L939.7,2097.3L942.7,2096.0L942.7,2096.0L945.6,2094.6L945.6,2094.6L948.5,2093.2L948.6,2093.2L951.4,2091.7L951.4,2091.7L954.3,2090.2L954.3,2090.2L957.1,2088.6L957.1,2088.6L959.8,2087.0L959.9,2087.0L962.6,2085.4L962.6,2085.4L965.3,2083.8L965.3,2083.8L967.9,2082.1L967.9,2082.1L970.5,2080.4L970.5,2080.4L973.1,2078.7L973.2,2078.7L975.7,2076.9L975.7,2076.9L978.3,2075.1L978.3,2075.1L980.9,2073.4L980.9,2073.4L983.4,2071.5L983.4,2071.5L986.0,2069.7L986.0,2069.6L988.4,2067.7L988.4,2067.7L990.8,2065.6L990.8,2065.6L993.0,2063.4L993.1,2063.4L995.2,2061.1L995.2,2061.1L997.2,2058.7L997.2,2058.7L999.1,2056.3L999.2,2056.2L1001.1,2053.7L1001.1,2053.7L1003.0,2051.2L1004.9,2048.7L1006.8,2046.2L1008.7,2043.7L1010.6,2041.2L1012.6,2038.7L1012.6,2038.7L1014.5,2036.2L1014.5,2036.2L1016.5,2033.7L1016.5,2033.7L1018.4,2031.2L1018.4,2031.2L1020.3,2028.6L1020.3,2028.6L1022.1,2026.1L1022.1,2026.1L1023.9,2023.5L1023.9,2023.5L1025.7,2020.9L1025.7,2020.9L1027.5,2018.3L1027.5,2018.3L1029.1,2015.6L1029.1,2015.6L1029.4,2015.2L1029.4,2015.1L1029.4,2015.1L1029.5,2015.0L1029.5,2014.9L1029.5,2014.9L1029.5,2014.8L1029.5,2014.8L1029.5,2014.7L1029.4,2014.7L1029.4,2014.6L1028.1,2011.7L1028.1,2011.6L1026.5,2008.5L1026.5,2008.5L1024.9,2005.5L1024.9,2005.5L1023.2,2002.5L1023.2,2002.5L1021.4,1999.6L1021.3,1999.6L1019.4,1996.7L1019.4,1996.7L1017.4,1993.8L1017.4,1993.8L1015.4,1991.1L1015.4,1991.1L1013.2,1988.3L1013.2,1988.3L1011.0,1985.7L1011.0,1985.7L1008.7,1983.0L1008.7,1983.0L1006.3,1980.5L1006.3,1980.5L1003.9,1977.9L1003.9,1977.9L1001.4,1975.5L1001.4,1975.5L998.9,1973.1L998.9,1973.0L997.4,1971.7L997.4,1971.6L997.3,1971.6L997.3,1971.6L997.2,1971.6L997.1,1971.5L997.1,1971.5L997.0,1971.5L997.0,1971.5L996.9,1971.5L996.8,1971.5L996.8,1971.6L996.7,1971.6L996.7,1971.6L996.6,1971.6L996.6,1971.7L996.5,1971.7L996.5,1971.8L994.9,1974.0L993.0,1976.4L991.1,1978.8L989.0,1981.2L986.9,1983.5L984.8,1985.7L982.6,1987.9L980.3,1990.1L978.0,1992.2L975.7,1994.3L973.3,1996.3L970.9,1998.4L968.5,2000.4L966.0,2002.4L963.5,2004.4L961.0,2006.3L960.1,2007.1L960.0,2007.1L960.0,2007.2L960.0,2007.2L959.9,2007.3L959.9,2007.3L959.9,2007.4L959.9,2007.4L959.9,2007.5L959.9,2007.5L959.9,2007.6L959.9,2007.7L959.9,2007.7L959.9,2007.8L960.7,2010.0L961.6,2013.0L962.4,2016.1L962.9,2019.2L963.2,2022.4L963.4,2025.5L963.3,2028.6L963.0,2031.7L962.5,2034.7L961.7,2037.6L960.7,2040.5L959.4,2043.2L957.9,2045.7L956.1,2048.1L954.2,2050.4L952.0,2052.4L949.6,2054.3L947.1,2056.0L944.4,2057.6L941.6,2058.9L938.7,2060.1L935.7,2061.1L932.6,2062.1L929.5,2063.0L928.0,2063.4L927.9,2063.4L927.9,2063.5L927.8,2063.5L927.8,2063.5L927.7,2063.6L927.7,2063.6L927.6,2063.7L927.6,2063.7L927.6,2063.8L927.6,2063.8L927.5,2063.9L927.5,2063.9L927.5,2064.0L927.5,2064.1L927.5,2064.1L927.8,2065.6L928.4,2068.8L928.8,2072.0L929.3,2075.3L929.7,2078.6L930.0,2081.8L930.3,2085.1L930.5,2088.4L930.6,2091.7L930.6,2095.0L930.6,2098.3L930.6,2099.7L930.6,2099.7L930.6,2099.8L930.6,2099.9L930.6,2099.9L930.6,2100.0L930.7,2100.0L930.7,2100.1L930.7,2100.1L930.8,2100.2L930.8,2100.2L930.9,2100.2L930.9,2100.3L931.0,2100.3L931.0,2100.3L931.1,2100.3L931.2,2100.3L931.2,2100.3L931.3,2100.3L931.3,2100.3Z" fill="#9ed6e5"/>
<path d="M990.5,1913.1L990.5,1913.1L991.5,1910.0L991.5,1910.0L992.5,1906.8L992.5,1906.8L993.2,1903.6L993.2,1903.5L993.7,1900.3L993.7,1900.3L994.1,1897.0L994.1,1897.0L994.1,1893.7L994.1,1893.7L994.0,1890.4L993.9,1890.4L993.5,1887.1L993.5,1887.1L992.8,1883.9L992.7,1883.8L991.8,1880.6L991.7,1880.6L990.5,1877.5L990.5,1877.4L989.0,1874.5L989.0,1874.4L987.3,1871.5L987.3,1871.5L985.4,1868.8L985.3,1868.7L983.2,1866.2L983.2,1866.2L980.9,1863.8L980.9,1863.8L978.4,1861.6L978.3,1861.6L975.7,1859.7L975.7,1859.7L972.9,1858.1L972.8,1858.0L969.9,1856.6L969.9,1856.6L966.9,1855.4L966.9,1855.4L963.8,1854.2L963.8,1854.2L960.7,1853.2L960.7,1853.2L960.6,1853.2L960.5,1853.1L960.5,1853.1L960.4,1853.1L960.4,1853.1L960.3,1853.1L960.2,1853.2L960.2,1853.2L960.1,1853.2L960.1,1853.2L960.0,1853.3L960.0,1853.3L959.9,1853.4L959.9,1853.4L959.9,1853.5L959.8,1853.5L959.8,1853.6L959.8,1853.6L959.8,1853.7L959.8,1853.7L959.8,1853.8L960.0,1855.7L960.3,1858.8L960.5,1861.9L960.7,1864.9L960.7,1868.0L960.7,1871.1L960.5,1874.1L960.2,1877.1L959.8,1880.1L959.3,1883.1L958.6,1886.0L957.8,1888.9L956.9,1891.8L955.8,1894.6L955.7,1894.7L955.7,1894.7L955.7,1894.8L955.7,1894.9L955.7,1894.9L955.7,1895.0L955.7,1895.0L955.7,1895.1L955.7,1895.1L955.8,1895.2L955.8,1895.2L955.8,1895.3L955.9,1895.3L955.9,1895.4L955.9,1895.4L956.5,1895.8L956.5,1895.8L959.1,1897.6L959.1,1897.6L961.8,1899.3L961.8,1899.3L964.5,1901.1L964.5,1901.1L967.3,1902.8L967.3,1902.8L970.1,1904.4L970.1,1904.4L972.8,1906.1L975.6,1907.8L978.3,1909.5L981.0,1911.2L983.6,1912.9L986.1,1914.7L988.4,1916.3L988.4,1916.4L988.5,1916.4L988.5,1916.4L988.6,1916.4L988.6,1916.5L988.7,1916.5L988.7,1916.5L988.8,1916.5L988.9,1916.4L988.9,1916.4L989.0,1916.4L989.0,1916.4L989.1,1916.4L989.1,1916.3L989.2,1916.3L989.2,1916.2L989.2,1916.2L989.3,1916.1L989.3,1916.1Z" fill="#9fceab"/>
<path d="M581.2,2031.8L581.2,2031.8L580.3,2034.9L580.3,2034.9L579.4,2038.0L579.4,2038.0L578.7,2041.1L578.7,2041.1L578.2,2044.3L578.2,2044.3L577.8,2047.5L577.8,2047.5L577.7,2050.7L577.7,2050.8L577.9,2053.9L577.9,2054.0L578.3,2057.1L578.3,2057.2L578.9,2060.3L578.9,2060.4L579.7,2063.4L579.8,2063.5L580.8,2066.5L580.8,2066.5L582.1,2069.5L582.1,2069.5L583.5,2072.4L583.6,2072.4L585.2,2075.2L585.2,2075.2L587.0,2077.8L587.0,2077.9L589.0,2080.3L589.0,2080.4L591.1,2082.7L591.1,2082.7L593.3,2084.9L593.3,2084.9L595.7,2086.9L595.7,2087.0L598.2,2088.8L598.2,2088.8L600.7,2090.4L600.8,2090.4L603.4,2091.9L603.4,2091.9L606.2,2093.2L606.2,2093.3L609.0,2094.4L609.0,2094.4L611.9,2095.5L611.9,2095.5L614.9,2096.4L614.9,2096.4L617.9,2097.2L618.0,2097.2L619.7,2097.6L619.8,2097.6L619.9,2097.7L619.9,2097.7L620.0,2097.6L620.0,2097.6L620.1,2097.6L620.1,2097.6L620.2,2097.6L620.2,2097.5L620.3,2097.5L620.3,2097.5L620.4,2097.4L620.4,2097.4L620.4,2097.3L620.4,2097.3L620.5,2097.2L620.5,2097.1L620.5,2097.1L620.5,2097.0L620.4,2096.5L620.4,2093.1L620.6,2089.7L620.9,2086.2L621.3,2082.8L621.8,2079.4L622.5,2076.0L623.2,2072.6L624.1,2069.2L625.0,2065.8L625.9,2062.5L625.9,2062.5L625.9,2062.4L625.9,2062.4L625.9,2062.3L625.9,2062.2L625.9,2062.2L625.9,2062.1L625.8,2062.1L625.8,2062.0L625.8,2062.0L625.7,2061.9L625.7,2061.9L625.7,2061.9L625.6,2061.8L623.7,2060.8L620.9,2059.3L618.3,2057.8L615.6,2056.2L613.0,2054.6L610.4,2052.9L607.8,2051.2L605.3,2049.5L602.8,2047.6L600.3,2045.8L597.9,2043.9L595.5,2042.0L593.2,2040.0L590.9,2038.0L588.6,2035.9L586.4,2033.8L584.2,2031.6L582.7,2030.1L582.7,2030.1L582.6,2030.0L582.6,2030.0L582.5,2030.0L582.5,2029.9L582.4,2029.9L582.4,2029.9L582.3,2029.9L582.2,2029.9L582.2,2029.9L582.1,2029.9L582.1,2030.0L582.0,2030.0L582.0,2030.0L581.9,2030.0L581.9,2030.1L581.8,2030.1L581.8,2030.2L581.8,2030.2L581.7,2030.3L581.7,2030.3Z" fill="#b4d69b"/>
<path d="M875.2,2144.5L875.2,2144.5L878.6,2145.2L878.6,2145.2L882.0,2145.9L882.0,2145.9L885.4,2146.5L885.4,2146.5L888.8,2147.2L888.8,2147.2L892.3,2147.7L892.3,2147.7L895.7,2148.2L895.7,2148.2L899.1,2148.7L899.1,2148.7L902.6,2149.1L902.6,2149.1L906.0,2149.4L906.0,2149.5L909.5,2149.8L909.5,2149.8L912.9,2150.0L913.0,2150.0L916.4,2150.2L916.4,2150.2L916.5,2150.2L916.5,2150.2L916.6,2150.2L916.6,2150.1L916.7,2150.1L916.7,2150.1L916.8,2150.0L916.8,2150.0L916.9,2150.0L916.9,2149.9L917.9,2148.3L917.9,2148.3L919.6,2145.5L919.6,2145.4L921.1,2142.6L921.1,2142.6L922.6,2139.6L922.6,2139.6L923.9,2136.7L923.9,2136.6L925.2,2133.6L925.2,2133.6L926.3,2130.6L926.3,2130.6L927.3,2127.5L927.3,2127.4L928.3,2124.3L928.3,2124.3L929.1,2121.1L929.1,2121.1L929.7,2117.9L929.8,2117.9L930.3,2114.7L930.3,2114.7L930.8,2111.5L930.8,2111.4L931.2,2108.2L931.2,2108.2L931.5,2104.9L931.5,2104.9L931.7,2101.6L931.7,2101.6L931.8,2099.7L931.8,2099.7L931.7,2099.6L931.7,2099.5L931.7,2099.5L931.7,2099.4L931.7,2099.4L931.6,2099.3L931.6,2099.3L931.5,2099.2L931.5,2099.2L931.4,2099.2L931.4,2099.2L931.3,2099.1L931.3,2099.1L931.2,2099.1L931.2,2099.1L931.1,2099.1L931.0,2099.1L931.0,2099.1L930.2,2099.4L927.2,2100.2L924.2,2100.9L921.2,2101.4L918.2,2101.9L915.1,2102.2L912.1,2102.4L909.1,2102.6L906.0,2102.6L902.9,2102.6L899.9,2102.5L896.8,2102.3L893.7,2102.0L890.6,2101.7L887.5,2101.3L886.9,2101.2L886.9,2101.2L886.8,2101.2L886.8,2101.2L886.7,2101.3L886.6,2101.3L886.6,2101.3L886.5,2101.3L886.5,2101.4L886.4,2101.4L886.4,2101.4L886.4,2101.5L886.3,2101.5L886.3,2101.6L886.3,2101.6L886.3,2101.7L885.5,2104.5L885.5,2104.6L884.6,2107.7L884.6,2107.7L883.8,2110.9L883.0,2114.0L882.1,2117.0L881.3,2120.0L880.4,2123.0L879.5,2125.9L878.5,2128.7L877.5,2131.6L876.4,2134.3L875.2,2137.1L873.9,2139.8L872.5,2142.4L872.1,2143.0L872.1,2143.0L872.1,2143.1L872.1,2143.1L872.1,2143.2L872.1,2143.2L872.1,2143.3L872.1,2143.4L872.1,2143.4L872.1,2143.5L872.1,2143.5L872.1,2143.6L872.2,2143.6L872.2,2143.7L872.3,2143.7L872.3,2143.8L872.4,2143.8L872.4,2143.8L872.5,2143.8L872.5,2143.9Z" fill="#a1d0a8"/>
<path d="M619.4,2100.1L619.4,2100.1L619.8,2103.5L619.8,2103.6L620.4,2107.0L620.4,2107.1L621.2,2110.4L621.2,2110.5L622.2,2113.8L622.2,2113.9L623.5,2117.1L623.5,2117.2L625.0,2120.3L625.0,2120.4L626.8,2123.4L626.8,2123.5L628.7,2126.4L628.8,2126.5L630.9,2129.3L630.9,2129.3L633.3,2132.0L633.3,2132.0L635.8,2134.5L635.8,2134.5L638.5,2136.8L638.5,2136.8L641.3,2138.9L641.3,2138.9L644.3,2140.8L644.3,2140.8L647.3,2142.5L647.4,2142.5L650.5,2143.9L650.6,2143.9L653.8,2145.0L653.8,2145.0L657.1,2145.9L657.1,2145.9L660.5,2146.4L660.5,2146.4L663.9,2146.7L664.0,2146.7L667.4,2146.8L667.4,2146.8L670.9,2146.6L670.9,2146.6L674.4,2146.3L674.4,2146.3L677.9,2145.7L677.9,2145.7L681.3,2145.0L681.4,2145.0L683.1,2144.6L683.1,2144.6L683.2,2144.5L683.2,2144.5L683.3,2144.5L683.3,2144.5L683.4,2144.4L683.4,2144.4L683.4,2144.3L683.5,2144.3L683.5,2144.2L683.5,2144.2L683.5,2144.1L683.5,2144.1L683.5,2144.0L683.5,2143.9L683.5,2143.9L683.5,2143.8L683.5,2143.8L683.5,2143.7L682.7,2142.2L681.2,2139.3L679.9,2136.4L678.6,2133.4L677.4,2130.4L676.4,2127.3L675.4,2124.2L674.5,2121.1L673.7,2117.9L673.1,2114.8L672.5,2111.6L672.0,2108.3L671.7,2105.1L671.6,2104.1L671.6,2104.1L671.6,2104.0L671.6,2103.9L671.6,2103.9L671.5,2103.8L671.5,2103.8L671.5,2103.7L671.4,2103.7L671.4,2103.7L671.3,2103.6L671.3,2103.6L671.2,2103.6L671.1,2103.6L669.6,2103.2L669.6,2103.2L666.5,2102.7L666.5,2102.7L663.3,2102.1L663.3,2102.1L660.1,2101.7L660.1,2101.7L656.8,2101.3L656.8,2101.3L653.6,2100.9L653.6,2100.9L650.3,2100.6L650.3,2100.6L647.0,2100.3L643.7,2099.9L640.5,2099.6L637.2,2099.2L634.0,2098.9L630.7,2098.4L627.6,2097.9L624.4,2097.4L621.3,2096.8L620.0,2096.5L619.9,2096.5L619.9,2096.5L619.8,2096.5L619.8,2096.5L619.7,2096.5L619.7,2096.5L619.6,2096.5L619.6,2096.5L619.5,2096.6L619.5,2096.6L619.4,2096.7L619.4,2096.7L619.4,2096.7L619.3,2096.8L619.3,2096.9L619.3,2096.9L619.3,2097.0L619.3,2097.0L619.3,2097.1Z" fill="#b5d898"/>
<path d="M713.4,2178.1L713.4,2178.1L716.5,2178.0L716.5,2178.0L719.6,2177.9L719.6,2177.9L722.7,2177.8L722.7,2177.8L725.8,2177.6L725.8,2177.6L728.9,2177.4L728.9,2177.4L731.9,2177.1L731.9,2177.1L735.0,2176.8L735.0,2176.8L738.0,2176.4L738.0,2176.4L741.1,2176.0L741.1,2176.0L744.1,2175.6L744.1,2175.6L747.1,2175.1L747.1,2175.1L750.1,2174.6L750.1,2174.6L753.1,2174.0L753.1,2174.0L756.1,2173.3L756.1,2173.3L759.0,2172.6L759.0,2172.6L761.9,2171.9L761.9,2171.9L764.8,2171.0L764.8,2171.0L767.7,2170.1L767.7,2170.1L770.6,2169.1L770.6,2169.1L773.4,2168.1L773.4,2168.1L776.2,2167.0L776.3,2167.0L779.1,2165.8L779.1,2165.8L781.9,2164.6L781.9,2164.6L784.6,2163.4L784.6,2163.4L787.4,2162.1L787.4,2162.1L788.8,2161.4L788.8,2161.4L788.9,2161.3L788.9,2161.3L789.0,2161.3L789.0,2161.2L789.1,2161.2L789.1,2161.1L789.1,2161.1L789.1,2161.0L789.1,2161.0L789.1,2160.9L789.1,2160.8L789.1,2160.8L789.1,2160.7L789.1,2160.7L789.1,2160.6L789.1,2160.6L789.0,2160.5L789.0,2160.5L789.0,2160.4L788.9,2160.4L788.9,2160.4L788.8,2160.3L788.7,2160.3L786.1,2158.9L783.4,2157.4L780.8,2155.8L778.3,2154.2L775.7,2152.5L773.2,2150.7L770.8,2148.9L769.1,2147.6L769.1,2147.6L769.0,2147.6L769.0,2147.5L768.9,2147.5L768.8,2147.5L768.8,2147.5L768.7,2147.5L768.7,2147.5L768.6,2147.5L768.6,2147.5L768.5,2147.5L768.4,2147.6L765.3,2148.8L762.2,2149.9L759.1,2150.9L756.0,2151.5L752.9,2151.9L749.9,2152.0L746.9,2151.8L744.0,2151.4L741.1,2150.7L738.3,2149.7L735.6,2148.6L732.8,2147.2L730.2,2145.7L727.6,2144.0L725.1,2142.1L722.6,2140.1L720.3,2138.0L718.0,2135.8L715.7,2133.5L714.0,2131.8L714.0,2131.7L713.9,2131.7L713.9,2131.6L713.8,2131.6L713.8,2131.6L713.7,2131.6L713.6,2131.6L713.6,2131.6L713.5,2131.6L713.5,2131.6L713.4,2131.6L713.4,2131.6L713.3,2131.6L710.6,2133.0L707.4,2134.4L704.3,2135.8L701.1,2137.2L697.9,2138.5L694.6,2139.8L691.3,2140.9L687.9,2142.0L684.5,2143.0L682.8,2143.4L682.7,2143.4L682.7,2143.5L682.6,2143.5L682.6,2143.5L682.5,2143.6L682.5,2143.6L682.5,2143.6L682.4,2143.7L682.4,2143.7L682.4,2143.8L682.4,2143.8L682.3,2143.9L682.3,2144.0L682.3,2144.0L682.3,2144.1L682.3,2144.1L682.4,2144.2L682.4,2144.2L682.4,2144.3L683.1,2145.7L683.2,2145.7L684.8,2148.5L684.8,2148.5L686.5,2151.3L686.5,2151.3L688.3,2154.0L688.3,2154.0L690.2,2156.7L690.2,2156.7L692.2,2159.3L692.2,2159.3L694.2,2161.9L694.3,2161.9L696.4,2164.4L696.4,2164.4L698.6,2166.8L698.6,2166.8L700.9,2169.1L700.9,2169.1L703.2,2171.4L703.2,2171.4L705.6,2173.6L705.6,2173.6L708.1,2175.7L708.1,2175.7L710.7,2177.8L710.7,2177.8L711.0,2178.0L711.0,2178.0L711.1,2178.0L711.1,2178.1L711.2,2178.1L711.2,2178.1L711.3,2178.1L711.3,2178.1Z" fill="#b5d683"/>
<path d="M928.5,1843.4L928.3,1840.2L928.2,1837.0L928.2,1837.0L928.1,1833.8L928.1,1833.7L927.9,1830.5L927.9,1830.5L927.7,1827.4L927.7,1827.3L927.2,1824.3L927.2,1824.2L926.5,1821.2L926.5,1821.2L925.6,1818.3L925.6,1818.2L924.4,1815.5L924.3,1815.4L922.7,1812.8L922.7,1812.7L920.7,1810.2L920.7,1810.2L918.4,1807.9L918.3,1807.9L915.8,1806.0L915.7,1805.9L913.0,1804.3L912.9,1804.3L910.0,1803.1L910.0,1803.1L906.9,1802.2L906.9,1802.2L903.8,1801.6L903.7,1801.6L900.6,1801.2L900.6,1801.2L899.3,1801.1L899.2,1801.1L899.1,1801.1L899.1,1801.1L899.0,1801.1L899.0,1801.2L898.9,1801.2L898.9,1801.2L898.8,1801.3L898.8,1801.3L898.7,1801.4L898.7,1801.4L898.7,1801.5L898.6,1801.5L898.6,1801.6L898.6,1801.6L898.6,1801.7L898.6,1801.8L898.7,1802.8L898.9,1805.9L899.0,1808.9L899.1,1812.0L899.2,1815.1L899.2,1818.1L899.2,1821.2L899.2,1824.3L899.2,1827.4L899.1,1830.5L899.1,1830.5L899.1,1833.6L899.1,1833.6L899.1,1836.6L899.1,1836.6L899.1,1839.4L899.1,1839.5L899.1,1839.5L899.2,1839.6L899.2,1839.6L899.2,1839.7L899.2,1839.7L899.3,1839.8L899.3,1839.8L899.3,1839.9L899.4,1839.9L899.4,1839.9L899.5,1840.0L899.6,1840.0L899.6,1840.0L900.1,1840.1L903.3,1840.7L906.5,1841.3L909.7,1841.9L912.9,1842.5L916.1,1843.1L919.3,1843.8L922.5,1844.4L925.7,1845.1L927.9,1845.6L927.9,1845.6L928.0,1845.6L928.0,1845.6L928.1,1845.6L928.1,1845.6L928.2,1845.6L928.3,1845.5L928.3,1845.5L928.4,1845.5L928.4,1845.4L928.4,1845.4L928.5,1845.4L928.5,1845.3L928.5,1845.3L928.6,1845.2L928.6,1845.1L928.6,1845.1L928.6,1845.0L928.6,1845.0Z" fill="#b6b4b1"/>
<path d="M786.8,1766.6L786.8,1766.6L784.8,1764.2L784.8,1764.1L782.7,1761.8L782.7,1761.8L780.5,1759.6L780.5,1759.6L778.2,1757.4L778.2,1757.4L775.8,1755.4L775.8,1755.4L773.4,1753.5L773.4,1753.4L770.9,1751.6L770.9,1751.6L768.3,1749.8L768.3,1749.8L765.6,1748.2L765.6,1748.2L762.9,1746.6L762.9,1746.6L760.2,1745.2L760.1,1745.2L757.4,1743.8L757.3,1743.8L754.5,1742.5L754.5,1742.5L752.4,1741.7L752.3,1741.6L752.2,1741.6L752.2,1741.6L752.1,1741.6L752.1,1741.6L752.0,1741.6L751.9,1741.6L751.9,1741.7L751.8,1741.7L749.0,1743.3L749.0,1743.4L746.2,1745.2L746.2,1745.3L743.5,1747.3L743.5,1747.3L741.0,1749.5L741.0,1749.6L738.5,1751.9L738.5,1751.9L736.2,1754.4L736.2,1754.4L733.9,1757.0L733.9,1757.0L731.8,1759.7L731.7,1759.7L729.7,1762.5L729.7,1762.5L727.6,1765.4L727.6,1765.4L725.7,1768.4L725.7,1768.4L724.6,1770.1L724.5,1770.1L724.5,1770.2L724.5,1770.2L724.5,1770.3L724.5,1770.4L724.5,1770.4L724.5,1770.5L724.5,1770.5L724.5,1770.6L724.5,1770.6L724.5,1770.7L724.6,1770.7L724.6,1770.8L724.6,1770.8L724.7,1770.9L724.7,1770.9L724.8,1770.9L724.8,1771.0L724.9,1771.0L724.9,1771.0L726.2,1771.3L729.2,1772.0L732.2,1772.7L735.2,1773.5L735.2,1773.5L738.2,1774.2L738.2,1774.2L741.2,1774.8L741.2,1774.8L744.2,1775.4L744.2,1775.4L747.2,1775.9L747.2,1775.9L750.2,1776.2L750.3,1776.2L753.3,1776.4L753.3,1776.4L756.3,1776.4L756.3,1776.4L759.4,1776.2L759.4,1776.2L762.4,1775.8L762.4,1775.8L765.4,1775.3L765.5,1775.3L768.5,1774.7L768.5,1774.7L771.5,1774.0L771.5,1774.0L774.5,1773.2L774.5,1773.2L777.5,1772.3L777.5,1772.3L780.5,1771.4L780.5,1771.4L783.5,1770.5L783.5,1770.5L786.4,1769.5L786.4,1769.5L787.7,1769.0L787.7,1769.0L787.8,1769.0L787.8,1769.0L787.9,1768.9L787.9,1768.9L788.0,1768.8L788.0,1768.8L788.0,1768.7L788.0,1768.7L788.1,1768.6L788.1,1768.6L788.1,1768.5L788.1,1768.4L788.1,1768.4L788.1,1768.3L788.0,1768.3L788.0,1768.2L788.0,1768.2L788.0,1768.1Z" fill="#b8bfa6"/>
<path d="M663.6,1792.1L663.6,1792.1L660.4,1791.6L660.4,1791.6L657.2,1791.2L657.2,1791.2L654.0,1790.8L654.0,1790.8L650.7,1790.4L650.7,1790.4L647.5,1790.0L647.5,1790.0L644.3,1789.7L644.3,1789.7L643.0,1789.5L642.9,1789.5L642.8,1789.5L642.8,1789.6L642.7,1789.6L642.7,1789.6L642.6,1789.6L642.6,1789.7L642.5,1789.7L642.5,1789.7L642.4,1789.8L642.4,1789.8L642.3,1789.9L642.3,1789.9L640.8,1792.6L640.8,1792.6L639.3,1795.3L639.3,1795.3L637.9,1798.1L637.9,1798.1L636.6,1800.8L636.6,1800.9L635.3,1803.7L635.3,1803.7L634.1,1806.5L634.1,1806.5L632.9,1809.4L632.9,1809.4L631.9,1812.4L631.9,1812.4L630.9,1815.3L630.8,1815.3L629.9,1818.3L629.9,1818.3L629.0,1821.3L629.0,1821.3L628.2,1824.3L628.2,1824.3L627.4,1827.3L627.4,1827.3L626.7,1830.3L626.7,1830.3L626.0,1833.3L626.0,1833.4L625.4,1836.4L625.4,1836.4L624.8,1839.4L624.8,1839.4L624.3,1842.5L624.3,1842.5L624.1,1844.3L624.1,1844.3L624.1,1844.4L624.1,1844.4L624.1,1844.5L624.1,1844.6L624.2,1844.6L624.2,1844.7L624.2,1844.7L624.3,1844.8L624.3,1844.8L624.3,1844.8L624.4,1844.9L624.5,1844.9L624.5,1844.9L624.6,1844.9L624.6,1844.9L624.7,1844.9L624.7,1844.9L626.0,1844.8L626.0,1844.8L629.4,1844.4L629.4,1844.4L632.9,1844.0L632.9,1844.0L636.4,1843.6L636.4,1843.6L639.8,1843.0L639.8,1843.0L643.3,1842.4L643.3,1842.4L646.8,1841.7L646.8,1841.7L650.2,1840.9L650.2,1840.9L653.6,1840.0L653.6,1840.0L657.0,1839.0L657.0,1839.0L660.4,1837.9L660.4,1837.9L662.4,1837.1L662.5,1837.1L662.6,1837.1L662.6,1837.1L662.6,1837.0L662.7,1837.0L662.7,1836.9L662.8,1836.9L662.8,1836.9L662.8,1836.8L662.8,1836.7L662.8,1836.7L662.8,1836.6L662.9,1836.0L662.9,1836.0L663.1,1832.9L663.1,1832.9L663.2,1829.8L663.2,1829.8L663.3,1826.7L663.3,1826.7L663.3,1823.6L663.3,1823.6L663.4,1820.5L663.5,1817.4L663.6,1814.4L663.7,1811.3L664.0,1808.3L664.3,1805.3L664.8,1802.3L665.3,1799.4L666.1,1796.5L667.0,1793.6L667.1,1793.4L667.1,1793.3L667.1,1793.3L667.2,1793.2L667.2,1793.1L667.2,1793.1L667.1,1793.0L667.1,1793.0L667.1,1792.9L667.1,1792.9L667.0,1792.8L667.0,1792.8L667.0,1792.7L666.9,1792.7L666.9,1792.6L666.8,1792.6L666.8,1792.6L666.7,1792.6L666.7,1792.6Z" fill="#b4c471"/>
<path d="M723.5,1769.4L723.4,1769.4L720.4,1768.9L720.4,1768.9L717.3,1768.4L717.3,1768.4L714.2,1768.0L714.2,1768.0L711.1,1767.8L711.1,1767.8L708.0,1767.6L708.0,1767.6L704.9,1767.6L704.8,1767.6L701.7,1767.8L701.7,1767.8L698.6,1768.1L698.5,1768.1L695.4,1768.6L695.4,1768.6L692.4,1769.3L692.3,1769.3L689.4,1770.2L689.3,1770.2L686.4,1771.2L686.4,1771.2L683.6,1772.5L683.6,1772.5L680.9,1773.9L680.9,1774.0L678.4,1775.6L678.3,1775.6L676.0,1777.5L676.0,1777.6L673.8,1779.7L673.8,1779.7L671.8,1782.0L671.8,1782.1L670.0,1784.6L670.0,1784.7L668.4,1787.4L668.4,1787.4L667.1,1790.2L667.1,1790.3L666.0,1792.9L666.0,1793.0L666.0,1793.0L666.0,1793.1L666.0,1793.2L666.0,1793.2L666.0,1793.3L666.0,1793.3L666.0,1793.4L666.0,1793.5L666.1,1793.5L666.1,1793.5L666.1,1793.6L666.2,1793.6L666.2,1793.7L666.3,1793.7L666.4,1793.7L666.4,1793.7L666.5,1793.7L666.7,1793.8L669.9,1794.3L673.1,1794.8L676.3,1795.4L679.5,1796.0L682.7,1796.6L685.9,1797.2L689.1,1797.8L692.3,1798.4L695.5,1799.1L698.7,1799.7L701.9,1800.4L705.1,1801.0L706.4,1801.3L706.5,1801.3L706.6,1801.3L706.6,1801.3L706.7,1801.3L706.7,1801.3L706.8,1801.3L706.8,1801.2L706.9,1801.2L706.9,1801.2L707.0,1801.1L707.0,1801.1L707.1,1801.0L708.0,1799.7L708.0,1799.7L709.9,1796.7L709.9,1796.7L711.8,1793.6L711.8,1793.6L713.7,1790.5L713.7,1790.5L715.5,1787.4L715.5,1787.4L717.3,1784.3L719.2,1781.2L721.0,1778.1L722.9,1775.0L724.7,1772.0L725.6,1770.7L725.6,1770.7L725.6,1770.6L725.6,1770.6L725.6,1770.5L725.7,1770.5L725.7,1770.4L725.7,1770.3L725.6,1770.3L725.6,1770.2L725.6,1770.2L725.6,1770.1L725.6,1770.1L725.5,1770.0L725.5,1770.0L725.4,1769.9L725.4,1769.9L725.3,1769.9L725.3,1769.9L725.2,1769.8L725.2,1769.8Z" fill="#cec259"/>
<path d="M961.8,2007.3L961.8,2007.3L964.3,2005.3L964.3,2005.3L966.8,2003.3L966.8,2003.3L969.2,2001.3L969.2,2001.3L971.7,1999.3L971.7,1999.3L974.1,1997.3L974.1,1997.3L976.5,1995.2L976.5,1995.2L978.8,1993.1L978.8,1993.1L981.1,1990.9L981.2,1990.9L983.4,1988.8L983.4,1988.8L985.6,1986.5L985.7,1986.5L987.8,1984.3L987.8,1984.3L989.9,1982.0L989.9,1982.0L992.0,1979.6L992.0,1979.6L994.0,1977.2L994.0,1977.2L995.9,1974.7L995.9,1974.7L997.5,1972.5L997.5,1972.4L997.5,1972.4L997.6,1972.3L997.6,1972.3L997.6,1972.2L997.6,1972.1L997.6,1972.1L997.6,1972.0L997.6,1972.0L997.6,1971.9L997.5,1971.9L997.5,1971.8L997.5,1971.8L997.4,1971.7L997.4,1971.7L996.3,1970.7L996.3,1970.7L993.7,1968.4L993.7,1968.4L991.1,1966.1L991.1,1966.1L988.4,1963.8L988.4,1963.8L985.7,1961.5L985.7,1961.5L983.1,1959.3L983.1,1959.3L980.4,1957.1L980.4,1957.1L977.7,1954.9L977.7,1954.9L975.0,1952.7L975.0,1952.6L972.4,1950.5L972.3,1950.5L969.6,1948.3L969.6,1948.3L968.4,1947.3L968.4,1947.3L968.3,1947.2L968.3,1947.2L968.2,1947.2L968.2,1947.2L968.1,1947.2L968.0,1947.2L968.0,1947.2L967.9,1947.2L967.9,1947.2L967.8,1947.2L967.8,1947.3L967.7,1947.3L967.7,1947.3L967.6,1947.4L967.6,1947.4L966.8,1948.3L964.8,1950.8L962.7,1953.2L960.6,1955.6L958.5,1958.0L956.3,1960.3L954.1,1962.6L951.8,1965.0L949.4,1967.3L947.0,1969.6L947.0,1969.6L944.6,1972.0L944.6,1972.0L942.2,1974.4L942.2,1974.4L941.0,1975.6L941.0,1975.6L940.9,1975.7L940.9,1975.7L940.9,1975.8L940.9,1975.9L940.8,1975.9L940.8,1976.0L940.8,1976.0L940.8,1976.1L940.8,1976.1L940.9,1976.2L940.9,1976.3L940.9,1976.3L942.0,1978.2L942.0,1978.3L943.7,1980.9L943.7,1980.9L945.4,1983.5L945.4,1983.6L947.1,1986.1L947.1,1986.1L948.9,1988.7L950.6,1991.2L952.3,1993.8L954.0,1996.3L955.6,1998.9L957.1,2001.6L958.4,2004.3L959.7,2007.1L959.9,2007.8L959.9,2007.8L959.9,2007.9L960.0,2007.9L960.0,2008.0L960.1,2008.0L960.1,2008.1L960.2,2008.1L960.2,2008.1L960.3,2008.1L960.3,2008.2L960.4,2008.2L960.4,2008.2L960.5,2008.2L960.6,2008.2L960.6,2008.1L960.7,2008.1L960.7,2008.1L960.8,2008.1L960.8,2008.0Z" fill="#a2d2d9"/>
<path d="M969.8,1946.6L969.8,1946.6L971.8,1944.1L971.8,1944.0L973.8,1941.5L973.8,1941.5L975.8,1938.9L975.8,1938.9L977.7,1936.2L977.8,1936.2L979.6,1933.5L979.6,1933.5L981.4,1930.7L981.5,1930.7L983.2,1927.9L983.2,1927.9L984.9,1925.1L984.9,1925.1L986.4,1922.2L986.4,1922.2L987.9,1919.2L987.9,1919.2L989.2,1916.2L989.2,1916.2L989.3,1916.1L989.3,1916.0L989.3,1916.0L989.3,1915.9L989.3,1915.8L989.3,1915.8L989.3,1915.7L989.3,1915.7L989.3,1915.6L989.2,1915.6L989.2,1915.5L989.2,1915.5L989.1,1915.4L989.1,1915.4L986.8,1913.7L986.8,1913.7L984.3,1911.9L984.2,1911.9L981.6,1910.2L981.6,1910.2L978.9,1908.5L978.9,1908.5L976.2,1906.8L976.2,1906.8L973.4,1905.1L973.4,1905.1L970.7,1903.4L967.9,1901.7L965.2,1900.0L962.5,1898.3L959.8,1896.6L957.1,1894.8L956.6,1894.4L956.6,1894.4L956.5,1894.4L956.5,1894.4L956.4,1894.3L956.4,1894.3L956.3,1894.3L956.3,1894.3L956.2,1894.3L956.1,1894.4L956.1,1894.4L956.0,1894.4L956.0,1894.4L955.9,1894.5L955.9,1894.5L955.8,1894.5L955.8,1894.6L955.8,1894.6L955.7,1894.7L954.5,1897.4L953.1,1900.2L951.6,1902.9L950.0,1905.7L948.4,1908.4L946.7,1911.1L945.0,1913.8L945.0,1913.8L943.3,1916.6L943.3,1916.6L941.7,1919.3L941.7,1919.3L940.1,1922.1L940.1,1922.1L938.6,1924.8L938.6,1924.8L938.1,1925.7L938.1,1925.8L938.1,1925.8L938.1,1925.9L938.1,1925.9L938.1,1926.0L938.1,1926.0L938.1,1926.1L938.1,1926.2L938.1,1926.2L938.2,1926.3L938.2,1926.3L938.2,1926.4L938.3,1926.4L938.3,1926.4L938.3,1926.5L941.2,1928.4L944.1,1930.4L946.9,1932.5L949.7,1934.5L952.5,1936.5L955.2,1938.6L958.0,1940.7L960.7,1942.8L963.5,1944.9L966.2,1947.1L967.7,1948.2L967.7,1948.3L967.8,1948.3L967.8,1948.3L967.9,1948.4L967.9,1948.4L968.0,1948.4L968.1,1948.4L968.1,1948.4L968.2,1948.4L968.2,1948.4L968.3,1948.3L968.3,1948.3L968.4,1948.3L968.4,1948.2L968.5,1948.2L968.5,1948.2Z" fill="#9ecca2"/>
<path d="M587.8,2036.8L587.8,2036.8L590.0,2038.8L590.1,2038.9L592.4,2040.9L592.4,2040.9L594.7,2042.9L594.8,2042.9L597.2,2044.8L597.2,2044.9L599.6,2046.8L599.6,2046.8L602.1,2048.6L602.1,2048.6L604.6,2050.4L604.6,2050.4L607.1,2052.2L607.1,2052.2L609.7,2053.9L609.7,2053.9L612.3,2055.6L612.3,2055.6L615.0,2057.2L615.0,2057.2L617.6,2058.8L617.7,2058.8L620.4,2060.4L620.4,2060.4L623.1,2061.9L623.1,2061.9L625.0,2062.9L625.1,2062.9L625.2,2062.9L625.2,2063.0L625.3,2063.0L625.3,2063.0L625.4,2063.0L625.4,2062.9L625.5,2062.9L625.6,2062.9L625.6,2062.9L625.7,2062.9L625.7,2062.8L625.8,2062.8L625.8,2062.7L625.8,2062.7L625.9,2062.6L625.9,2062.6L625.9,2062.5L625.9,2062.4L626.9,2059.1L628.0,2055.7L629.0,2052.3L630.1,2049.0L630.1,2049.0L631.1,2045.6L631.1,2045.6L632.1,2042.2L632.1,2042.2L633.0,2038.8L633.0,2038.8L633.8,2035.4L633.8,2035.4L634.5,2032.0L634.5,2032.0L634.6,2031.8L634.6,2031.8L634.6,2031.7L634.6,2031.6L634.6,2031.6L634.5,2031.5L634.5,2031.5L634.5,2031.4L634.5,2031.4L634.4,2031.3L634.4,2031.3L634.3,2031.2L634.3,2031.2L632.3,2030.0L629.5,2028.2L626.9,2026.3L624.2,2024.4L621.6,2022.5L619.0,2020.6L616.5,2018.6L616.5,2018.6L613.9,2016.7L613.9,2016.7L611.3,2014.8L611.3,2014.8L608.7,2013.0L608.7,2013.0L606.0,2011.2L606.0,2011.2L603.3,2009.5L603.3,2009.5L600.6,2007.8L597.9,2006.0L595.3,2004.1L594.8,2003.6L594.8,2003.6L594.8,2003.5L594.7,2003.5L594.6,2003.5L594.6,2003.5L594.5,2003.5L594.5,2003.5L594.4,2003.5L594.3,2003.5L594.3,2003.5L594.2,2003.5L594.2,2003.5L594.1,2003.6L594.1,2003.6L594.0,2003.6L594.0,2003.7L593.9,2003.7L593.9,2003.8L592.8,2005.9L592.7,2005.9L591.3,2008.7L591.3,2008.7L589.8,2011.5L589.8,2011.5L588.4,2014.3L588.4,2014.3L587.1,2017.1L587.1,2017.1L585.8,2020.0L585.7,2020.0L584.5,2022.9L584.5,2022.9L583.3,2025.8L583.3,2025.8L582.2,2028.8L582.2,2028.8L581.7,2030.3L581.7,2030.4L581.7,2030.4L581.7,2030.5L581.7,2030.6L581.7,2030.6L581.7,2030.7L581.7,2030.7L581.7,2030.8L581.8,2030.8L581.8,2030.9L581.8,2030.9L583.3,2032.4L583.3,2032.4L585.5,2034.6L585.5,2034.6Z" fill="#b2d291"/>
<path d="M622.4,1844.0L622.4,1844.0L618.9,1844.4L618.9,1844.4L615.4,1844.8L615.4,1844.8L611.9,1845.2L611.9,1845.2L608.5,1845.8L608.5,1845.8L605.1,1846.4L605.0,1846.4L601.7,1847.2L601.7,1847.2L598.4,1848.1L598.4,1848.2L595.1,1849.2L595.1,1849.3L592.0,1850.6L591.9,1850.6L588.9,1852.1L588.8,1852.1L587.5,1852.9L587.4,1852.9L587.4,1853.0L587.4,1853.0L587.3,1853.1L587.3,1853.1L587.3,1853.2L587.2,1853.2L587.2,1853.3L587.2,1853.3L587.2,1853.4L587.2,1853.8L587.2,1853.8L587.1,1857.1L587.1,1857.1L587.2,1860.4L587.2,1860.4L587.4,1863.6L587.4,1863.7L587.8,1866.9L587.8,1866.9L588.2,1870.1L588.2,1870.1L588.8,1873.3L588.8,1873.4L589.5,1876.5L589.5,1876.5L590.3,1879.7L590.4,1879.7L591.2,1882.9L591.2,1882.9L592.2,1886.0L592.2,1886.0L593.1,1889.2L593.1,1889.2L594.1,1892.3L595.1,1895.4L596.0,1898.6L596.9,1901.7L597.6,1904.5L597.6,1904.6L597.6,1904.6L597.7,1904.7L597.7,1904.7L597.7,1904.8L597.8,1904.8L597.8,1904.8L597.9,1904.9L597.9,1904.9L598.0,1904.9L598.0,1904.9L598.1,1904.9L598.2,1905.0L598.2,1904.9L598.3,1904.9L598.3,1904.9L598.4,1904.9L598.5,1904.9L598.5,1904.9L598.6,1904.8L599.6,1904.0L602.0,1902.1L604.4,1900.3L606.8,1898.5L609.3,1896.7L611.9,1895.0L614.5,1893.4L617.1,1891.8L619.8,1890.2L622.5,1888.7L625.2,1887.2L626.1,1886.8L626.1,1886.8L626.2,1886.7L626.2,1886.7L626.2,1886.7L626.3,1886.6L626.3,1886.6L626.3,1886.5L626.4,1886.5L626.4,1886.4L626.4,1886.3L626.4,1886.3L626.4,1886.2L626.4,1886.2L626.3,1885.6L625.9,1882.6L625.5,1879.5L625.2,1876.4L624.9,1873.3L624.7,1870.2L624.5,1867.1L624.4,1864.0L624.3,1861.0L624.3,1857.9L624.4,1854.8L624.5,1851.8L624.8,1848.7L625.1,1845.7L625.3,1844.4L625.3,1844.4L625.3,1844.3L625.3,1844.2L625.3,1844.2L625.2,1844.1L625.2,1844.1L625.2,1844.0L625.2,1844.0L625.1,1843.9L625.1,1843.9L625.0,1843.8L625.0,1843.8L624.9,1843.8L624.9,1843.8L624.8,1843.8L624.7,1843.7L624.7,1843.7L624.6,1843.7Z" fill="#9ccfa5"/>
<path d="M596.5,1904.9L596.5,1905.0L594.2,1906.9L594.2,1906.9L591.9,1908.9L591.9,1909.0L589.7,1911.0L589.7,1911.0L587.5,1913.1L587.5,1913.1L585.3,1915.3L585.3,1915.3L583.2,1917.5L583.2,1917.5L581.1,1919.8L581.1,1919.8L579.0,1922.1L579.0,1922.1L577.0,1924.4L577.0,1924.4L575.1,1926.8L575.0,1926.9L573.2,1929.3L573.2,1929.3L571.4,1931.8L571.4,1931.8L570.6,1933.0L570.6,1933.0L570.5,1933.1L570.5,1933.1L570.5,1933.2L570.5,1933.2L570.5,1933.3L570.5,1933.4L570.5,1933.4L570.5,1933.5L570.5,1933.5L570.6,1933.6L570.6,1933.6L572.3,1936.4L572.3,1936.4L574.3,1939.2L574.3,1939.3L576.5,1942.0L576.5,1942.0L578.8,1944.6L578.8,1944.6L581.2,1947.1L581.2,1947.1L583.7,1949.5L583.7,1949.5L586.3,1951.8L586.3,1951.8L589.0,1954.1L589.0,1954.1L591.0,1955.8L591.1,1955.8L591.1,1955.8L591.2,1955.9L591.2,1955.9L591.3,1955.9L591.4,1955.9L591.4,1955.9L591.5,1955.9L591.5,1955.9L591.6,1955.9L591.6,1955.9L591.7,1955.8L591.7,1955.8L591.8,1955.8L591.8,1955.7L591.9,1955.7L591.9,1955.7L591.9,1955.6L592.4,1954.8L592.4,1954.8L594.0,1951.9L594.0,1951.9L595.6,1948.9L595.6,1948.9L597.0,1945.9L597.0,1945.9L598.2,1942.8L598.3,1942.8L599.3,1939.7L599.3,1939.7L600.1,1936.6L600.1,1936.6L600.7,1933.4L600.7,1933.4L601.1,1930.3L601.1,1930.2L601.3,1927.1L601.3,1927.0L601.4,1923.9L601.4,1923.8L601.3,1920.6L601.3,1920.6L601.1,1917.4L601.1,1917.4L600.7,1914.2L600.7,1914.2L600.2,1911.0L600.2,1911.0L599.6,1907.8L599.6,1907.7L598.9,1904.6L598.8,1904.6L598.8,1904.2L598.7,1904.1L598.7,1904.1L598.7,1904.0L598.7,1904.0L598.6,1903.9L598.6,1903.9L598.5,1903.9L598.5,1903.8L598.4,1903.8L598.4,1903.8L598.3,1903.8L598.2,1903.8L598.2,1903.8L598.1,1903.8L598.1,1903.8L598.0,1903.8L598.0,1903.8L597.9,1903.8L597.8,1903.9L597.8,1903.9Z" fill="#b4d48d"/>
<path d="M589.7,1957.2L589.7,1957.2L588.0,1960.1L588.0,1960.1L586.4,1963.0L586.4,1963.1L585.0,1966.0L585.0,1966.1L583.8,1969.1L583.7,1969.1L582.8,1972.1L582.7,1972.2L582.1,1975.3L582.1,1975.3L581.8,1978.4L581.8,1978.5L581.9,1981.7L581.9,1981.8L582.4,1985.0L582.4,1985.0L583.2,1988.2L583.2,1988.3L584.4,1991.4L584.4,1991.5L585.9,1994.5L586.0,1994.5L587.7,1997.4L587.8,1997.5L589.8,2000.2L589.8,2000.2L592.1,2002.7L592.1,2002.7L594.0,2004.5L594.1,2004.5L594.1,2004.6L594.2,2004.6L594.2,2004.6L594.3,2004.6L594.4,2004.7L594.4,2004.7L594.5,2004.7L594.5,2004.7L594.6,2004.6L594.7,2004.6L594.7,2004.6L594.8,2004.6L594.8,2004.5L594.9,2004.5L594.9,2004.5L594.9,2004.4L595.0,2004.4L595.3,2003.7L596.8,2001.0L598.4,1998.3L600.0,1995.6L601.6,1992.9L603.2,1990.2L604.9,1987.5L606.5,1984.8L608.2,1982.2L609.9,1979.6L611.7,1976.9L613.4,1974.3L614.2,1973.2L614.2,1973.1L614.2,1973.1L614.2,1973.0L614.3,1973.0L614.3,1972.9L614.3,1972.9L614.3,1972.8L614.3,1972.8L614.2,1972.7L614.2,1972.6L614.2,1972.6L614.2,1972.5L614.1,1972.5L614.1,1972.4L614.1,1972.4L612.0,1970.6L612.0,1970.6L609.2,1968.4L609.2,1968.4L606.4,1966.2L606.4,1966.2L603.6,1964.0L603.6,1964.0L600.8,1961.9L598.0,1959.7L595.2,1957.6L592.5,1955.4L591.8,1954.8L591.7,1954.8L591.7,1954.8L591.6,1954.8L591.6,1954.7L591.5,1954.7L591.5,1954.7L591.4,1954.7L591.4,1954.7L591.3,1954.7L591.3,1954.7L591.2,1954.8L591.1,1954.8L591.1,1954.8L591.0,1954.8L591.0,1954.9L591.0,1954.9L590.9,1955.0L590.9,1955.0Z" fill="#b3d278"/>
<path d="M929.9,2064.2L929.9,2064.1L933.0,2063.3L933.0,2063.2L936.1,2062.3L936.1,2062.3L939.1,2061.2L939.1,2061.2L942.1,2060.0L942.1,2060.0L944.9,2058.6L945.0,2058.6L947.7,2057.1L947.7,2057.1L950.3,2055.3L950.3,2055.3L952.7,2053.4L952.8,2053.3L955.0,2051.2L955.0,2051.2L957.1,2048.9L957.1,2048.9L958.9,2046.4L958.9,2046.4L960.5,2043.7L960.5,2043.7L961.8,2040.9L961.8,2040.9L962.8,2038.0L962.9,2038.0L963.6,2035.0L963.6,2034.9L964.2,2031.9L964.2,2031.8L964.5,2028.7L964.5,2028.7L964.6,2025.5L964.6,2025.5L964.4,2022.3L964.4,2022.2L964.1,2019.1L964.1,2019.0L963.5,2015.9L963.5,2015.8L962.8,2012.7L962.8,2012.7L961.9,2009.7L961.9,2009.6L961.0,2007.4L961.0,2007.3L961.0,2007.3L960.9,2007.2L960.9,2007.2L960.9,2007.1L960.8,2007.1L960.8,2007.1L960.7,2007.0L960.7,2007.0L960.6,2007.0L960.5,2007.0L960.5,2007.0L960.4,2007.0L960.4,2007.0L960.3,2007.0L960.2,2007.0L960.2,2007.0L960.1,2007.1L960.1,2007.1L958.6,2008.3L956.1,2010.2L953.6,2012.2L951.1,2014.1L948.6,2016.0L946.1,2017.9L943.5,2019.8L941.0,2021.6L938.5,2023.4L935.9,2025.2L933.4,2027.0L930.8,2028.7L928.2,2030.4L925.6,2032.1L922.9,2033.7L922.3,2034.1L922.2,2034.1L922.2,2034.1L922.1,2034.2L922.1,2034.2L922.1,2034.3L922.0,2034.3L922.0,2034.4L922.0,2034.4L922.0,2034.5L922.0,2034.5L922.0,2034.6L922.0,2034.6L922.3,2037.0L922.3,2037.1L922.8,2040.3L922.8,2040.3L923.4,2043.5L923.4,2043.5L924.0,2046.6L924.0,2046.6L924.7,2049.8L924.7,2049.8L925.3,2052.9L926.0,2056.1L926.6,2059.2L927.2,2062.4L927.5,2064.1L927.6,2064.2L927.6,2064.2L927.6,2064.3L927.6,2064.3L927.7,2064.4L927.7,2064.4L927.7,2064.5L927.8,2064.5L927.8,2064.5L927.9,2064.6L927.9,2064.6L928.0,2064.6L928.1,2064.6L928.1,2064.6L928.2,2064.6L928.2,2064.6L928.3,2064.6Z" fill="#a2d3d4"/>
<path d="M956.9,1895.1L956.9,1895.0L958.0,1892.2L958.0,1892.2L959.0,1889.3L959.0,1889.2L959.8,1886.3L959.8,1886.3L960.5,1883.3L960.5,1883.3L961.0,1880.3L961.0,1880.3L961.4,1877.2L961.4,1877.2L961.7,1874.2L961.7,1874.2L961.9,1871.1L961.9,1871.1L961.9,1868.0L961.9,1868.0L961.9,1864.9L961.9,1864.9L961.7,1861.8L961.7,1861.8L961.5,1858.7L961.5,1858.7L961.2,1855.6L961.2,1855.6L961.0,1853.7L961.0,1853.6L961.0,1853.5L961.0,1853.5L960.9,1853.4L960.9,1853.4L960.9,1853.3L960.8,1853.3L960.8,1853.3L960.7,1853.2L960.7,1853.2L960.6,1853.2L960.6,1853.2L957.6,1852.2L957.6,1852.2L954.4,1851.2L954.4,1851.2L951.3,1850.3L951.3,1850.3L948.1,1849.4L948.1,1849.4L945.0,1848.6L945.0,1848.6L941.8,1847.7L941.8,1847.7L938.7,1846.9L938.7,1846.9L935.5,1846.1L935.5,1846.1L932.3,1845.4L932.3,1845.4L929.1,1844.7L929.1,1844.7L928.1,1844.4L928.1,1844.4L928.0,1844.4L927.9,1844.4L927.9,1844.4L927.8,1844.4L927.8,1844.5L927.7,1844.5L927.7,1844.5L927.6,1844.5L927.6,1844.6L927.5,1844.6L927.5,1844.7L927.5,1844.7L927.4,1844.8L927.4,1844.8L927.4,1844.9L927.4,1844.9L927.4,1845.0L927.4,1845.1L927.5,1846.7L927.5,1846.8L927.9,1849.9L927.9,1850.0L928.3,1853.1L928.3,1853.1L928.9,1856.2L928.9,1856.3L929.6,1859.3L929.6,1859.4L930.5,1862.3L930.5,1862.4L931.4,1865.3L931.4,1865.3L932.5,1868.2L932.6,1868.2L933.8,1871.0L933.8,1871.0L935.2,1873.7L935.2,1873.8L936.7,1876.4L936.7,1876.4L938.4,1878.9L938.4,1878.9L940.2,1881.3L940.3,1881.4L942.2,1883.7L942.2,1883.7L944.3,1885.9L944.3,1885.9L946.6,1888.0L946.6,1888.0L948.9,1890.1L948.9,1890.1L951.3,1892.0L951.4,1892.0L953.9,1893.9L953.9,1893.9L955.9,1895.4L956.0,1895.4L956.0,1895.5L956.1,1895.5L956.2,1895.5L956.2,1895.5L956.3,1895.5L956.3,1895.5L956.4,1895.5L956.5,1895.5L956.5,1895.5L956.6,1895.5L956.6,1895.4L956.7,1895.4L956.7,1895.4L956.7,1895.3L956.8,1895.3L956.8,1895.2L956.8,1895.2Z" fill="#9ecd9d"/>
<path d="M899.7,1799.7L899.7,1799.7L899.4,1796.7L899.3,1796.6L899.0,1793.6L899.0,1793.6L898.5,1790.6L898.5,1790.6L898.0,1787.6L898.0,1787.6L897.4,1784.6L897.3,1784.6L896.6,1781.6L896.6,1781.6L895.8,1778.7L895.8,1778.7L895.1,1776.6L895.1,1776.6L895.1,1776.5L895.0,1776.5L895.0,1776.4L895.0,1776.4L894.9,1776.4L894.9,1776.3L894.8,1776.3L894.8,1776.3L894.7,1776.2L894.7,1776.2L894.6,1776.2L893.0,1776.0L893.0,1776.0L889.9,1775.7L889.9,1775.7L886.7,1775.4L886.7,1775.4L883.5,1775.2L883.5,1775.2L880.4,1775.0L880.4,1775.0L877.2,1774.9L877.2,1774.9L874.0,1774.8L874.0,1774.8L870.9,1774.7L870.8,1774.7L867.7,1774.7L867.7,1774.7L864.5,1774.7L864.5,1774.7L861.3,1774.8L861.3,1774.8L858.2,1775.0L858.2,1775.0L855.0,1775.2L855.0,1775.2L851.9,1775.5L851.9,1775.5L848.7,1775.8L848.7,1775.8L845.6,1776.2L845.6,1776.2L842.5,1776.7L842.5,1776.7L839.4,1777.2L839.4,1777.2L837.9,1777.5L837.8,1777.5L837.8,1777.6L837.7,1777.6L837.7,1777.6L837.6,1777.7L837.6,1777.7L837.5,1777.7L837.5,1777.8L837.5,1777.8L837.4,1777.9L837.4,1777.9L837.4,1778.0L837.4,1778.0L837.4,1778.1L837.4,1778.2L837.4,1778.2L837.4,1778.3L837.4,1778.3L837.5,1778.4L838.9,1781.3L840.4,1784.5L841.9,1787.6L843.3,1790.8L844.7,1794.0L846.1,1797.2L847.5,1800.4L848.8,1803.6L850.2,1806.8L850.5,1807.5L850.5,1807.6L850.5,1807.6L850.6,1807.7L850.6,1807.7L850.6,1807.8L850.7,1807.8L850.7,1807.8L850.8,1807.9L850.9,1807.9L850.9,1807.9L851.0,1807.9L851.0,1807.9L851.1,1807.9L853.9,1807.6L853.9,1807.6L857.0,1807.1L857.0,1807.1L860.2,1806.6L860.2,1806.6L863.3,1806.1L863.3,1806.1L866.4,1805.5L866.4,1805.5L869.5,1804.9L872.7,1804.4L875.8,1803.8L878.9,1803.4L881.9,1802.9L885.0,1802.6L888.1,1802.3L891.2,1802.2L894.3,1802.1L897.4,1802.2L899.2,1802.3L899.2,1802.3L899.3,1802.3L899.4,1802.3L899.4,1802.3L899.5,1802.3L899.5,1802.2L899.6,1802.2L899.6,1802.2L899.7,1802.1L899.7,1802.1L899.7,1802.0L899.8,1802.0L899.8,1801.9L899.8,1801.8L899.8,1801.8L899.8,1801.7L899.8,1801.7Z" fill="#b3d38a"/>
<path d="M834.8,2133.0L834.8,2133.0L838.1,2134.1L838.1,2134.1L841.5,2135.2L841.5,2135.2L844.8,2136.2L844.8,2136.2L848.2,2137.3L848.2,2137.3L851.5,2138.3L851.5,2138.3L854.9,2139.3L854.9,2139.3L858.2,2140.2L858.2,2140.2L861.6,2141.1L861.6,2141.1L865.0,2142.0L865.0,2142.0L868.4,2142.9L868.4,2142.9L871.8,2143.7L871.8,2143.7L872.5,2143.9L872.6,2143.9L872.6,2143.9L872.7,2143.9L872.8,2143.9L872.8,2143.9L872.9,2143.8L872.9,2143.8L873.0,2143.8L873.0,2143.8L873.1,2143.7L873.1,2143.7L873.1,2143.6L873.2,2143.6L873.5,2143.0L873.5,2143.0L874.9,2140.3L875.0,2140.3L876.3,2137.6L876.3,2137.6L877.5,2134.8L877.5,2134.8L878.6,2132.0L878.6,2132.0L879.7,2129.2L879.7,2129.1L880.7,2126.3L880.7,2126.2L881.6,2123.3L881.6,2123.3L882.5,2120.4L882.5,2120.3L883.3,2117.3L883.3,2117.3L884.1,2114.3L884.1,2114.3L885.0,2111.2L885.0,2111.2L885.8,2108.0L886.6,2104.9L887.4,2102.0L887.4,2101.9L887.4,2101.9L887.4,2101.8L887.4,2101.8L887.4,2101.7L887.4,2101.6L887.4,2101.6L887.4,2101.5L887.3,2101.5L887.3,2101.4L887.3,2101.4L887.2,2101.4L887.2,2101.3L887.1,2101.3L887.0,2101.3L887.0,2101.3L886.9,2101.2L884.3,2100.9L881.2,2100.4L878.0,2099.9L874.9,2099.4L871.7,2098.9L868.5,2098.3L865.3,2097.8L864.3,2097.6L864.3,2097.6L864.2,2097.6L864.2,2097.6L864.1,2097.6L864.0,2097.6L864.0,2097.7L863.9,2097.7L863.9,2097.7L863.8,2097.8L863.8,2097.8L863.8,2097.8L863.7,2097.9L862.2,2100.4L860.6,2102.9L858.9,2105.4L857.2,2107.8L855.4,2110.3L853.5,2112.6L851.6,2115.0L849.7,2117.2L847.6,2119.5L845.5,2121.7L843.4,2123.8L841.2,2125.9L839.0,2128.0L836.7,2130.0L834.4,2131.9L834.4,2131.9L834.3,2131.9L834.3,2132.0L834.3,2132.0L834.3,2132.1L834.2,2132.1L834.2,2132.2L834.2,2132.3L834.2,2132.3L834.2,2132.4L834.2,2132.4L834.2,2132.5L834.3,2132.5L834.3,2132.6L834.3,2132.6L834.3,2132.7L834.4,2132.7L834.4,2132.8L834.5,2132.8L834.5,2132.8L834.6,2132.9L834.6,2132.9Z" fill="#a0cf99"/>
<path d="M838.4,1777.6L838.4,1777.6L836.8,1774.5L836.8,1774.5L835.2,1771.4L835.2,1771.4L833.5,1768.4L833.5,1768.3L831.8,1765.4L831.7,1765.4L829.9,1762.5L829.9,1762.4L827.9,1759.6L827.9,1759.6L825.8,1756.9L825.8,1756.9L823.5,1754.3L823.5,1754.3L823.3,1754.1L823.3,1754.1L823.2,1754.0L823.2,1754.0L823.1,1754.0L823.0,1754.0L823.0,1753.9L822.9,1753.9L822.9,1753.9L822.8,1753.9L822.7,1753.9L822.7,1754.0L822.6,1754.0L820.2,1755.1L817.4,1756.3L814.7,1757.5L811.9,1758.6L809.0,1759.8L806.2,1760.9L803.4,1762.0L800.5,1763.1L797.7,1764.2L794.8,1765.3L791.9,1766.3L789.0,1767.3L787.3,1767.9L787.2,1767.9L787.2,1768.0L787.1,1768.0L787.1,1768.0L787.0,1768.1L787.0,1768.1L787.0,1768.2L786.9,1768.2L786.9,1768.3L786.9,1768.3L786.9,1768.4L786.9,1768.4L786.9,1768.5L786.9,1768.6L786.9,1768.6L786.9,1768.7L786.9,1768.7L787.0,1768.8L787.0,1768.8L787.7,1769.8L789.5,1772.4L791.3,1775.0L793.0,1777.7L794.8,1780.4L794.8,1780.4L796.5,1783.0L796.5,1783.0L798.4,1785.6L798.4,1785.7L800.3,1788.2L800.3,1788.2L802.0,1790.2L802.1,1790.2L802.1,1790.3L802.1,1790.3L802.2,1790.3L802.3,1790.4L802.3,1790.4L802.4,1790.4L802.4,1790.4L802.5,1790.4L802.5,1790.4L802.6,1790.4L802.7,1790.4L802.7,1790.3L804.0,1789.8L806.8,1788.5L809.7,1787.3L812.6,1786.1L815.6,1785.0L818.5,1784.0L821.5,1783.0L824.4,1782.1L827.4,1781.2L830.5,1780.4L833.5,1779.7L836.5,1779.0L838.1,1778.7L838.2,1778.7L838.2,1778.7L838.3,1778.7L838.3,1778.6L838.4,1778.6L838.4,1778.6L838.5,1778.5L838.5,1778.5L838.5,1778.4L838.5,1778.4L838.6,1778.3L838.6,1778.3L838.6,1778.2L838.6,1778.1L838.6,1778.1L838.6,1778.0L838.6,1778.0L838.6,1777.9L838.5,1777.9Z" fill="#b4d583"/>
<path d="M770.1,2149.9L770.1,2149.9L772.5,2151.7L772.6,2151.7L775.1,2153.4L775.1,2153.5L777.6,2155.2L777.6,2155.2L780.2,2156.8L780.2,2156.8L782.8,2158.4L782.8,2158.4L785.5,2159.9L785.5,2159.9L788.2,2161.4L788.2,2161.4L788.3,2161.4L788.3,2161.4L788.4,2161.4L788.4,2161.5L788.5,2161.5L788.6,2161.5L788.6,2161.5L788.7,2161.4L788.7,2161.4L788.8,2161.4L790.2,2160.7L790.2,2160.7L793.0,2159.4L793.0,2159.4L795.7,2158.0L795.8,2158.0L798.5,2156.6L798.5,2156.6L801.3,2155.1L801.3,2155.1L804.0,2153.6L804.0,2153.6L806.7,2152.1L806.7,2152.1L809.4,2150.5L809.4,2150.5L812.1,2149.0L812.1,2148.9L814.8,2147.3L814.8,2147.3L817.4,2145.7L817.5,2145.7L820.1,2144.0L820.1,2143.9L822.7,2142.2L822.7,2142.2L825.2,2140.4L825.2,2140.4L827.7,2138.6L827.7,2138.6L830.2,2136.7L830.2,2136.7L832.7,2134.8L832.7,2134.8L835.1,2132.9L835.1,2132.9L835.2,2132.8L835.2,2132.7L835.3,2132.7L835.3,2132.7L835.3,2132.6L835.4,2132.6L835.4,2132.5L835.4,2132.4L835.4,2132.4L835.4,2132.3L835.4,2132.3L835.4,2132.2L835.4,2132.2L835.4,2132.1L835.3,2132.0L835.3,2132.0L835.3,2132.0L835.2,2131.9L835.2,2131.9L835.2,2131.8L835.1,2131.8L835.1,2131.8L835.0,2131.8L831.9,2130.7L828.6,2129.5L825.3,2128.4L822.0,2127.2L818.7,2126.0L815.5,2124.8L812.2,2123.5L808.9,2122.3L805.7,2121.1L802.6,2119.9L802.6,2119.9L802.5,2119.9L802.5,2119.9L802.4,2119.9L802.4,2119.9L802.3,2119.9L802.2,2119.9L802.2,2119.9L802.1,2119.9L802.1,2120.0L802.0,2120.0L802.0,2120.0L802.0,2120.1L801.6,2120.5L801.6,2120.5L799.7,2123.0L797.7,2125.5L795.7,2127.9L793.8,2130.2L791.7,2132.4L789.6,2134.6L787.4,2136.6L785.0,2138.5L782.6,2140.2L779.9,2141.9L777.2,2143.4L774.4,2144.9L771.4,2146.3L768.5,2147.5L768.4,2147.6L768.4,2147.6L768.4,2147.6L768.3,2147.7L768.3,2147.7L768.2,2147.8L768.2,2147.8L768.2,2147.9L768.2,2147.9L768.1,2148.0L768.1,2148.1L768.1,2148.1L768.1,2148.2L768.2,2148.2L768.2,2148.3L768.2,2148.3L768.2,2148.4L768.3,2148.4L768.3,2148.5L768.3,2148.5L768.4,2148.6Z" fill="#b3d370"/>
<path d="M887.3,2102.5L887.3,2102.5L890.4,2102.9L890.4,2102.9L893.6,2103.2L893.6,2103.2L896.7,2103.5L896.7,2103.5L899.8,2103.7L899.8,2103.7L902.9,2103.8L902.9,2103.8L906.0,2103.8L906.0,2103.8L909.1,2103.8L909.1,2103.8L912.2,2103.6L912.2,2103.6L915.3,2103.4L915.3,2103.4L918.3,2103.1L918.3,2103.1L921.4,2102.6L921.4,2102.6L924.5,2102.0L924.5,2102.0L927.5,2101.3L927.5,2101.3L930.6,2100.5L930.6,2100.5L931.3,2100.3L931.4,2100.3L931.4,2100.2L931.5,2100.2L931.5,2100.2L931.6,2100.1L931.6,2100.1L931.7,2100.0L931.7,2100.0L931.7,2099.9L931.7,2099.9L931.7,2099.8L931.8,2099.8L931.8,2099.7L931.8,2098.3L931.8,2098.3L931.8,2095.0L931.8,2095.0L931.8,2091.7L931.8,2091.7L931.7,2088.4L931.7,2088.3L931.5,2085.0L931.5,2085.0L931.2,2081.7L931.2,2081.7L930.9,2078.4L930.9,2078.4L930.5,2075.1L930.5,2075.1L930.0,2071.9L930.0,2071.9L929.5,2068.6L929.5,2068.6L929.0,2065.4L929.0,2065.4L928.7,2063.9L928.7,2063.8L928.7,2063.8L928.7,2063.7L928.6,2063.7L928.6,2063.6L928.6,2063.6L928.5,2063.5L928.5,2063.5L928.4,2063.5L928.4,2063.5L928.3,2063.4L928.3,2063.4L928.2,2063.4L928.1,2063.4L928.1,2063.4L928.0,2063.4L928.0,2063.4L926.4,2063.8L923.3,2064.7L923.3,2064.7L920.2,2065.5L920.2,2065.5L917.2,2066.4L917.2,2066.4L914.2,2067.4L914.2,2067.4L911.3,2068.4L911.2,2068.5L908.5,2069.6L908.4,2069.6L905.8,2071.0L905.8,2071.0L903.3,2072.5L903.2,2072.5L900.9,2074.2L900.9,2074.3L898.7,2076.2L898.7,2076.2L896.8,2078.4L896.7,2078.4L895.0,2080.8L895.0,2080.8L893.4,2083.4L893.4,2083.4L891.9,2086.1L891.9,2086.2L890.6,2089.0L890.6,2089.0L889.4,2092.0L889.4,2092.0L888.3,2095.1L888.3,2095.1L887.3,2098.2L887.3,2098.2L886.4,2101.4L886.4,2101.4L886.3,2101.7L886.3,2101.7L886.2,2101.8L886.2,2101.9L886.3,2101.9L886.3,2102.0L886.3,2102.0L886.3,2102.1L886.3,2102.1L886.4,2102.2L886.4,2102.2L886.4,2102.3L886.5,2102.3L886.5,2102.4L886.6,2102.4L886.7,2102.4L886.7,2102.4L886.8,2102.4Z" fill="#99cca7"/>
<path d="M623.8,2065.5L623.8,2065.5L622.9,2068.9L622.9,2068.9L622.1,2072.3L622.1,2072.3L621.3,2075.8L621.3,2075.8L620.7,2079.2L620.7,2079.2L620.1,2082.6L620.1,2082.7L619.7,2086.1L619.7,2086.1L619.4,2089.6L619.4,2089.6L619.2,2093.1L619.2,2093.1L619.2,2096.6L619.2,2096.6L619.3,2097.1L619.3,2097.1L619.3,2097.2L619.3,2097.3L619.3,2097.3L619.4,2097.4L619.4,2097.4L619.4,2097.5L619.5,2097.5L619.5,2097.5L619.6,2097.6L619.6,2097.6L619.7,2097.6L619.7,2097.6L621.0,2097.9L621.0,2097.9L624.2,2098.6L624.2,2098.6L627.4,2099.1L627.4,2099.1L630.6,2099.6L630.6,2099.6L633.8,2100.0L633.8,2100.0L637.1,2100.4L637.1,2100.4L640.3,2100.8L640.3,2100.8L643.6,2101.1L643.6,2101.1L646.9,2101.5L650.2,2101.8L653.4,2102.1L656.7,2102.5L659.9,2102.9L663.1,2103.3L666.3,2103.8L669.4,2104.4L670.9,2104.7L671.0,2104.8L671.0,2104.8L671.1,2104.8L671.1,2104.7L671.2,2104.7L671.2,2104.7L671.3,2104.7L671.3,2104.7L671.4,2104.6L671.4,2104.6L671.5,2104.5L671.5,2104.5L671.5,2104.4L671.6,2104.4L671.6,2104.3L671.6,2104.3L671.6,2104.2L671.6,2104.2L671.6,2104.1L671.5,2101.8L671.3,2098.5L671.2,2095.2L671.1,2091.9L671.1,2091.9L671.0,2088.6L671.0,2088.6L670.9,2085.3L670.9,2085.3L670.7,2082.0L670.7,2082.0L670.5,2079.2L670.5,2079.2L670.5,2079.1L670.5,2079.0L670.4,2079.0L670.4,2078.9L670.4,2078.9L670.3,2078.9L670.3,2078.8L670.3,2078.8L670.2,2078.7L670.2,2078.7L670.1,2078.7L670.1,2078.7L667.1,2077.9L664.1,2077.1L661.1,2076.2L658.1,2075.3L655.1,2074.3L652.1,2073.3L649.2,2072.2L646.3,2071.1L643.4,2070.0L640.5,2068.8L637.6,2067.6L634.8,2066.3L632.0,2065.0L629.2,2063.7L626.4,2062.3L625.6,2061.8L625.5,2061.8L625.5,2061.8L625.4,2061.8L625.4,2061.8L625.3,2061.8L625.3,2061.8L625.2,2061.8L625.1,2061.8L625.1,2061.8L625.0,2061.8L625.0,2061.9L624.9,2061.9L624.9,2061.9L624.9,2062.0L624.8,2062.0L624.8,2062.1L624.8,2062.1L624.7,2062.2Z" fill="#add496"/>
<path d="M714.8,2134.4L714.8,2134.4L717.1,2136.7L717.1,2136.7L719.4,2138.9L719.5,2138.9L721.9,2141.0L721.9,2141.0L724.3,2143.0L724.4,2143.1L726.9,2144.9L726.9,2145.0L729.5,2146.7L729.6,2146.7L732.3,2148.3L732.3,2148.3L735.0,2149.7L735.1,2149.7L737.9,2150.9L737.9,2150.9L740.8,2151.8L740.8,2151.8L743.8,2152.6L743.8,2152.6L746.8,2153.0L746.8,2153.0L749.9,2153.2L749.9,2153.2L753.0,2153.1L753.1,2153.1L756.2,2152.7L756.2,2152.7L759.4,2152.0L759.4,2152.0L762.6,2151.1L762.6,2151.1L765.7,2150.0L765.8,2149.9L768.9,2148.7L768.9,2148.7L769.0,2148.6L769.0,2148.6L769.1,2148.6L769.1,2148.5L769.2,2148.5L769.2,2148.5L769.2,2148.4L769.3,2148.4L769.3,2148.3L769.3,2148.3L769.3,2148.2L769.3,2148.1L769.3,2148.1L769.3,2148.0L769.3,2148.0L769.3,2147.9L769.3,2147.8L769.3,2147.8L769.2,2147.7L769.2,2147.7L769.2,2147.7L769.1,2147.6L768.4,2147.0L766.0,2145.1L763.6,2143.2L761.3,2141.2L759.0,2139.1L756.7,2137.0L754.4,2134.9L752.2,2132.7L750.0,2130.5L747.8,2128.3L745.7,2126.0L743.6,2123.7L741.5,2121.4L739.6,2119.4L739.6,2119.3L739.6,2119.3L739.5,2119.2L739.5,2119.2L739.4,2119.2L739.3,2119.2L739.3,2119.2L739.2,2119.2L739.2,2119.2L739.1,2119.2L739.1,2119.2L739.0,2119.2L739.0,2119.2L738.7,2119.3L738.7,2119.3L735.4,2120.7L735.4,2120.7L732.3,2122.2L732.3,2122.2L729.1,2123.7L729.1,2123.7L726.0,2125.3L726.0,2125.3L722.9,2126.8L722.9,2126.8L719.8,2128.4L716.7,2129.9L713.7,2131.5L713.3,2131.6L713.2,2131.7L713.2,2131.7L713.2,2131.7L713.1,2131.8L713.1,2131.8L713.0,2131.9L713.0,2131.9L713.0,2132.0L713.0,2132.0L713.0,2132.1L713.0,2132.2L713.0,2132.2L713.0,2132.3L713.0,2132.3L713.0,2132.4L713.0,2132.4L713.1,2132.5L713.1,2132.5L713.1,2132.6Z" fill="#acd181"/>
<path d="M670.5,2105.2L670.5,2105.2L670.9,2108.5L670.9,2108.5L671.3,2111.7L671.3,2111.8L671.9,2115.0L671.9,2115.0L672.6,2118.2L672.6,2118.2L673.3,2121.4L673.4,2121.4L674.2,2124.6L674.2,2124.6L675.2,2127.7L675.2,2127.7L676.3,2130.8L676.3,2130.8L677.5,2133.8L677.5,2133.9L678.8,2136.9L678.8,2136.9L680.1,2139.9L680.1,2139.9L681.6,2142.8L681.6,2142.8L682.4,2144.3L682.4,2144.3L682.5,2144.4L682.5,2144.4L682.6,2144.5L682.6,2144.5L682.7,2144.5L682.7,2144.6L682.8,2144.6L682.8,2144.6L682.9,2144.6L683.0,2144.6L683.0,2144.6L683.1,2144.6L684.8,2144.2L684.8,2144.1L688.3,2143.2L688.3,2143.2L691.7,2142.1L691.7,2142.1L695.0,2140.9L695.0,2140.9L698.3,2139.6L698.3,2139.6L701.6,2138.3L701.6,2138.3L704.8,2136.9L704.8,2136.9L707.9,2135.5L707.9,2135.5L711.1,2134.0L711.1,2134.0L713.8,2132.7L713.9,2132.7L713.9,2132.6L714.0,2132.6L714.0,2132.6L714.0,2132.5L714.1,2132.5L714.1,2132.4L714.1,2132.4L714.1,2132.3L714.2,2132.2L714.2,2132.2L714.2,2132.1L714.2,2132.1L714.1,2132.0L714.1,2132.0L714.1,2131.9L714.1,2131.8L714.0,2131.8L714.0,2131.8L713.5,2131.2L711.3,2128.8L709.1,2126.5L709.1,2126.5L706.8,2124.2L706.8,2124.2L704.6,2121.9L704.6,2121.9L702.4,2119.6L702.4,2119.6L700.1,2117.5L700.0,2117.5L697.7,2115.5L697.7,2115.4L695.2,2113.6L695.2,2113.5L692.7,2111.8L692.7,2111.8L690.1,2110.3L690.1,2110.2L687.4,2108.9L687.3,2108.8L684.6,2107.6L684.5,2107.6L681.7,2106.5L681.7,2106.5L678.8,2105.5L678.7,2105.5L675.8,2104.7L675.7,2104.7L672.7,2103.9L672.7,2103.9L671.1,2103.6L671.1,2103.6L671.0,2103.6L671.0,2103.6L670.9,2103.6L670.9,2103.6L670.8,2103.6L670.7,2103.6L670.7,2103.6L670.7,2103.7L670.6,2103.7L670.6,2103.8L670.5,2103.8L670.5,2103.9L670.5,2103.9L670.5,2104.0L670.4,2104.0L670.4,2104.1L670.4,2104.1L670.4,2104.2Z" fill="#acd280"/>
<path d="M923.5,2034.7L923.5,2034.7L926.2,2033.1L926.2,2033.1L928.8,2031.4L928.8,2031.4L931.4,2029.7L931.4,2029.7L934.0,2028.0L934.0,2028.0L936.6,2026.2L936.6,2026.2L939.2,2024.4L939.2,2024.4L941.7,2022.6L941.7,2022.6L944.3,2020.7L944.3,2020.7L946.8,2018.9L946.8,2018.9L949.3,2017.0L949.3,2017.0L951.8,2015.1L951.8,2015.1L954.3,2013.1L954.3,2013.1L956.8,2011.2L956.8,2011.2L959.3,2009.2L959.3,2009.2L960.8,2008.0L960.9,2008.0L960.9,2008.0L961.0,2007.9L961.0,2007.9L961.0,2007.8L961.0,2007.8L961.0,2007.7L961.1,2007.6L961.1,2007.6L961.1,2007.5L961.1,2007.5L961.0,2007.4L961.0,2007.4L960.8,2006.7L960.8,2006.7L959.5,2003.8L959.5,2003.8L958.1,2001.0L958.1,2001.0L956.6,1998.3L956.6,1998.3L955.0,1995.7L955.0,1995.7L953.3,1993.1L953.3,1993.1L951.6,1990.5L951.6,1990.5L949.9,1988.0L948.1,1985.4L946.4,1982.9L944.7,1980.3L943.1,1977.6L942.0,1975.7L941.9,1975.7L941.9,1975.6L941.8,1975.6L941.8,1975.5L941.8,1975.5L941.7,1975.5L941.7,1975.5L941.6,1975.4L941.5,1975.4L941.5,1975.4L941.4,1975.4L941.4,1975.4L941.3,1975.4L941.3,1975.4L941.2,1975.5L941.1,1975.5L941.1,1975.5L941.0,1975.6L941.0,1975.6L939.8,1976.8L939.8,1976.8L937.5,1979.2L937.5,1979.3L935.3,1981.7L935.3,1981.8L933.2,1984.3L933.2,1984.3L931.2,1986.9L931.1,1986.9L929.3,1989.6L929.3,1989.6L927.6,1992.4L927.6,1992.4L926.1,1995.2L926.1,1995.3L924.8,1998.2L924.8,1998.2L923.7,2001.2L923.7,2001.2L922.8,2004.3L922.8,2004.3L922.1,2007.5L922.1,2007.5L921.6,2010.7L921.6,2010.7L921.2,2014.0L921.2,2014.0L921.0,2017.3L921.0,2017.3L921.0,2020.6L921.0,2020.6L921.0,2023.9L921.0,2023.9L921.2,2027.2L921.2,2027.2L921.5,2030.5L921.5,2030.5L921.9,2033.8L921.9,2033.8L922.0,2034.6L922.0,2034.7L922.0,2034.8L922.0,2034.8L922.1,2034.9L922.1,2034.9L922.1,2035.0L922.2,2035.0L922.2,2035.0L922.3,2035.1L922.3,2035.1L922.4,2035.1L922.4,2035.1L922.5,2035.2L922.6,2035.2L922.6,2035.2L922.7,2035.2L922.7,2035.1L922.8,2035.1L922.8,2035.1L922.9,2035.1Z" fill="#a1d0d1"/>
<path d="M939.7,1925.4L941.1,1922.6L942.7,1919.9L944.4,1917.2L946.0,1914.5L947.7,1911.8L947.7,1911.8L949.4,1909.0L949.4,1909.0L951.1,1906.3L951.1,1906.3L952.7,1903.5L952.7,1903.5L954.2,1900.7L954.2,1900.7L955.6,1897.9L955.6,1897.9L956.8,1895.2L956.9,1895.1L956.9,1895.1L956.9,1895.0L956.9,1894.9L956.9,1894.9L956.9,1894.8L956.9,1894.8L956.9,1894.7L956.8,1894.7L956.8,1894.6L956.8,1894.6L956.7,1894.5L956.7,1894.5L956.6,1894.4L954.6,1893.0L952.1,1891.1L949.7,1889.2L947.4,1887.1L945.2,1885.0L943.1,1882.9L941.2,1880.6L939.4,1878.2L937.7,1875.7L936.2,1873.2L934.9,1870.5L933.7,1867.7L932.6,1864.9L931.6,1862.0L930.8,1859.0L930.1,1856.0L929.5,1852.9L929.0,1849.8L928.7,1846.6L928.6,1845.0L928.6,1844.9L928.6,1844.9L928.5,1844.8L928.5,1844.7L928.5,1844.7L928.5,1844.6L928.4,1844.6L928.4,1844.6L928.3,1844.5L928.3,1844.5L928.2,1844.5L928.2,1844.4L928.1,1844.4L925.9,1843.9L925.9,1843.9L922.8,1843.3L922.8,1843.3L919.6,1842.6L919.6,1842.6L916.4,1841.9L916.4,1841.9L913.2,1841.3L913.2,1841.3L910.0,1840.7L910.0,1840.7L906.8,1840.1L906.8,1840.1L903.5,1839.5L903.5,1839.5L900.3,1838.9L900.3,1838.9L899.8,1838.8L899.8,1838.8L899.7,1838.8L899.7,1838.8L899.6,1838.8L899.5,1838.8L899.5,1838.9L899.4,1838.9L899.4,1838.9L899.3,1838.9L899.3,1839.0L899.3,1839.0L899.2,1839.1L899.2,1839.1L899.2,1839.2L899.1,1839.2L899.1,1839.3L899.1,1839.4L899.1,1839.4L899.1,1839.7L899.1,1839.7L899.1,1842.8L899.1,1842.8L899.1,1845.9L899.1,1845.9L899.1,1849.0L899.2,1852.0L899.2,1855.1L899.2,1858.2L899.2,1861.2L899.2,1864.3L899.3,1867.4L899.3,1870.4L899.3,1873.5L899.3,1876.6L899.3,1879.6L899.4,1882.7L899.4,1885.8L899.4,1888.8L899.4,1891.9L899.4,1894.9L899.4,1898.0L899.4,1898.1L899.4,1898.2L899.4,1898.2L899.4,1898.3L899.4,1898.3L899.5,1898.4L899.5,1898.4L899.5,1898.5L899.6,1898.5L899.6,1898.5L901.4,1900.2L901.4,1900.2L904.1,1902.4L904.1,1902.4L906.8,1904.6L906.8,1904.6L909.6,1906.7L909.6,1906.7L912.4,1908.8L912.4,1908.8L915.2,1910.9L915.2,1910.9L918.1,1912.9L918.1,1912.9L920.9,1914.8L920.9,1914.8L923.8,1916.8L923.8,1916.8L926.7,1918.7L926.7,1918.7L929.7,1920.7L932.6,1922.6L935.5,1924.5L938.3,1926.5L938.4,1926.5L938.5,1926.5L938.5,1926.6L938.6,1926.6L938.6,1926.6L938.7,1926.6L938.7,1926.6L938.8,1926.6L938.9,1926.6L938.9,1926.5L939.0,1926.5L939.0,1926.5L939.1,1926.4L939.1,1926.4L939.2,1926.4L939.2,1926.3L939.2,1926.2Z" fill="#99cb98"/>
<path d="M900.3,1836.6L900.3,1833.6L900.3,1830.5L900.4,1827.4L900.4,1824.3L900.4,1824.3L900.4,1821.2L900.4,1821.2L900.4,1818.1L900.4,1818.1L900.4,1815.0L900.4,1815.0L900.3,1812.0L900.3,1812.0L900.2,1808.9L900.2,1808.9L900.1,1805.8L900.1,1805.8L899.9,1802.7L899.9,1802.7L899.8,1801.7L899.8,1801.6L899.8,1801.6L899.8,1801.5L899.7,1801.4L899.7,1801.4L899.7,1801.3L899.7,1801.3L899.6,1801.3L899.6,1801.2L899.5,1801.2L899.5,1801.2L899.4,1801.1L899.4,1801.1L899.3,1801.1L899.3,1801.1L897.4,1801.0L897.4,1801.0L894.3,1800.9L894.2,1800.9L891.1,1801.0L891.1,1801.0L888.0,1801.1L888.0,1801.1L884.9,1801.4L884.9,1801.4L881.8,1801.7L881.8,1801.7L878.7,1802.2L878.7,1802.2L875.6,1802.7L875.6,1802.7L872.5,1803.2L872.5,1803.2L869.3,1803.8L869.3,1803.8L866.2,1804.3L863.1,1804.9L860.0,1805.4L856.8,1806.0L853.7,1806.4L851.0,1806.7L850.9,1806.7L850.8,1806.7L850.8,1806.8L850.7,1806.8L850.7,1806.8L850.6,1806.9L850.6,1806.9L850.6,1806.9L850.5,1807.0L850.5,1807.0L850.5,1807.1L850.4,1807.1L850.4,1807.2L850.4,1807.3L850.4,1807.3L850.4,1807.4L850.4,1807.4L850.4,1807.5L850.5,1807.5L851.5,1810.0L852.8,1813.3L854.1,1816.5L855.4,1819.7L856.7,1822.9L857.9,1826.1L859.1,1829.4L860.3,1832.6L860.4,1832.9L860.5,1833.0L860.5,1833.0L860.5,1833.1L860.6,1833.1L860.6,1833.2L860.6,1833.2L860.7,1833.2L860.7,1833.3L860.8,1833.3L860.8,1833.3L860.9,1833.3L861.5,1833.4L861.6,1833.4L864.8,1834.0L864.8,1834.0L868.0,1834.6L868.0,1834.6L871.2,1835.1L871.2,1835.1L874.4,1835.7L877.6,1836.2L880.8,1836.8L884.1,1837.3L887.3,1837.8L890.5,1838.4L893.7,1839.0L896.9,1839.5L899.6,1840.0L899.7,1840.0L899.7,1840.0L899.8,1840.0L899.9,1840.0L899.9,1840.0L900.0,1840.0L900.0,1839.9L900.1,1839.9L900.1,1839.9L900.2,1839.8L900.2,1839.8L900.2,1839.7L900.3,1839.7L900.3,1839.6L900.3,1839.6L900.3,1839.5L900.3,1839.5L900.3,1839.4Z" fill="#b2cf86"/>
<path d="M660.0,1836.8L656.7,1837.9L653.3,1838.9L649.9,1839.7L646.5,1840.5L643.1,1841.3L639.6,1841.9L636.2,1842.4L632.8,1842.8L629.3,1843.2L625.8,1843.6L624.6,1843.7L624.6,1843.8L624.5,1843.8L624.5,1843.8L624.4,1843.8L624.4,1843.8L624.3,1843.9L624.3,1843.9L624.2,1844.0L624.2,1844.0L624.2,1844.0L624.1,1844.1L624.1,1844.2L624.1,1844.2L624.1,1844.3L623.9,1845.5L623.9,1845.6L623.6,1848.6L623.6,1848.6L623.3,1851.7L623.3,1851.7L623.2,1854.8L623.2,1854.8L623.1,1857.9L623.1,1857.9L623.1,1861.0L623.1,1861.0L623.2,1864.1L623.2,1864.1L623.3,1867.2L623.3,1867.2L623.5,1870.3L623.5,1870.3L623.7,1873.4L623.7,1873.4L624.0,1876.5L624.0,1876.5L624.3,1879.6L624.3,1879.6L624.7,1882.7L624.7,1882.7L625.1,1885.8L625.1,1885.8L625.2,1886.3L625.2,1886.4L625.2,1886.5L625.3,1886.5L625.3,1886.6L625.3,1886.6L625.4,1886.7L625.4,1886.7L625.4,1886.7L625.5,1886.8L625.5,1886.8L625.6,1886.8L625.7,1886.8L625.7,1886.9L625.8,1886.9L625.8,1886.9L625.9,1886.8L626.0,1886.8L626.0,1886.8L626.1,1886.8L628.1,1885.8L630.9,1884.3L630.9,1884.3L633.8,1882.9L633.8,1882.9L636.6,1881.4L636.6,1881.4L639.3,1879.9L639.4,1879.9L642.0,1878.3L642.0,1878.3L644.6,1876.5L644.6,1876.5L647.0,1874.7L647.0,1874.6L649.2,1872.6L649.2,1872.6L651.2,1870.4L651.2,1870.4L653.0,1868.0L653.0,1868.0L654.6,1865.5L654.7,1865.5L656.1,1862.9L656.1,1862.9L657.4,1860.2L657.4,1860.1L658.6,1857.4L658.6,1857.3L659.6,1854.5L659.6,1854.4L660.4,1851.5L660.4,1851.5L661.1,1848.5L661.2,1848.4L661.7,1845.4L661.8,1845.4L662.2,1842.3L662.2,1842.3L662.6,1839.2L662.6,1839.1L662.8,1836.6L662.8,1836.6L662.8,1836.5L662.8,1836.5L662.8,1836.4L662.8,1836.3L662.8,1836.3L662.7,1836.2L662.7,1836.2L662.7,1836.1L662.6,1836.1L662.6,1836.1L662.5,1836.0L662.5,1836.0L662.4,1836.0L662.3,1836.0L662.3,1836.0L662.2,1836.0L662.2,1836.0L662.1,1836.0L662.0,1836.0Z" fill="#9bcd94"/>
<path d="M801.2,1787.4L799.3,1784.9L797.5,1782.4L795.8,1779.7L794.0,1777.0L792.3,1774.4L792.3,1774.4L790.5,1771.7L790.5,1771.7L788.7,1769.1L788.7,1769.1L788.0,1768.1L787.9,1768.1L787.9,1768.0L787.8,1768.0L787.8,1768.0L787.7,1767.9L787.7,1767.9L787.6,1767.9L787.6,1767.9L787.5,1767.9L787.5,1767.9L787.4,1767.9L787.3,1767.9L787.3,1767.9L786.0,1768.3L783.1,1769.3L780.1,1770.3L777.2,1771.2L774.2,1772.0L771.2,1772.8L768.2,1773.5L765.2,1774.2L762.2,1774.6L759.3,1775.0L756.3,1775.2L753.3,1775.2L750.3,1775.0L747.4,1774.7L744.4,1774.2L741.5,1773.7L738.5,1773.0L735.5,1772.3L732.5,1771.5L732.5,1771.5L729.5,1770.8L729.5,1770.8L726.5,1770.1L726.5,1770.1L725.2,1769.8L725.1,1769.8L725.1,1769.8L725.0,1769.8L724.9,1769.8L724.9,1769.8L724.8,1769.9L724.8,1769.9L724.7,1769.9L724.7,1769.9L724.6,1770.0L724.6,1770.0L724.6,1770.1L723.7,1771.4L723.7,1771.4L721.8,1774.4L721.8,1774.4L720.0,1777.5L720.0,1777.5L718.1,1780.6L718.1,1780.6L716.3,1783.7L714.5,1786.8L712.6,1789.9L710.8,1793.0L708.9,1796.0L707.0,1799.0L706.1,1800.4L706.0,1800.4L706.0,1800.5L706.0,1800.5L706.0,1800.6L706.0,1800.7L706.0,1800.7L706.0,1800.8L706.0,1800.8L706.0,1800.9L706.0,1800.9L706.0,1801.0L706.1,1801.0L706.1,1801.1L706.1,1801.1L706.2,1801.2L706.2,1801.2L706.3,1801.2L706.3,1801.3L706.4,1801.3L706.4,1801.3L708.3,1801.7L711.5,1802.4L714.7,1803.0L717.9,1803.7L721.1,1804.4L724.3,1805.1L727.4,1805.7L730.6,1806.4L733.8,1807.1L737.0,1807.8L740.2,1808.5L743.4,1809.2L746.6,1809.9L749.8,1810.6L753.0,1811.3L756.1,1812.0L759.3,1812.7L762.5,1813.3L763.7,1813.6L763.8,1813.6L763.8,1813.6L763.9,1813.6L763.9,1813.6L764.0,1813.6L764.0,1813.6L764.1,1813.6L764.2,1813.5L764.2,1813.5L766.0,1812.2L768.6,1810.3L771.2,1808.5L773.8,1806.7L776.4,1805.0L779.1,1803.3L781.7,1801.6L784.4,1800.0L787.2,1798.4L789.9,1796.8L792.7,1795.3L795.5,1793.9L798.3,1792.5L801.1,1791.1L802.7,1790.3L802.8,1790.3L802.8,1790.3L802.9,1790.2L802.9,1790.2L802.9,1790.2L803.0,1790.1L803.0,1790.1L803.0,1790.0L803.0,1790.0L803.1,1789.9L803.1,1789.8L803.1,1789.8L803.1,1789.7L803.1,1789.7L803.0,1789.6L803.0,1789.6L803.0,1789.5L803.0,1789.5L802.9,1789.4Z" fill="#b1d382"/>
<path d="M705.3,1799.8L705.3,1799.8L702.1,1799.2L702.1,1799.2L698.9,1798.5L698.9,1798.5L695.7,1797.9L695.7,1797.9L692.5,1797.2L692.5,1797.2L689.3,1796.6L689.3,1796.6L686.1,1796.0L686.1,1796.0L682.9,1795.4L682.9,1795.4L679.7,1794.8L679.7,1794.8L676.5,1794.2L676.5,1794.2L673.3,1793.7L673.3,1793.7L670.1,1793.1L670.1,1793.1L666.9,1792.6L666.9,1792.6L666.7,1792.6L666.6,1792.6L666.5,1792.6L666.5,1792.6L666.4,1792.6L666.4,1792.6L666.3,1792.6L666.3,1792.6L666.2,1792.7L666.2,1792.7L666.1,1792.7L666.1,1792.8L666.1,1792.8L666.0,1792.9L666.0,1792.9L665.9,1793.2L665.9,1793.2L665.0,1796.1L664.9,1796.2L664.2,1799.1L664.2,1799.1L663.6,1802.1L663.6,1802.1L663.1,1805.1L663.1,1805.2L662.8,1808.2L662.8,1808.2L662.5,1811.2L662.5,1811.3L662.4,1814.3L662.4,1814.3L662.3,1817.4L662.3,1817.4L662.2,1820.5L662.2,1820.5L662.1,1823.5L662.1,1826.6L662.0,1829.7L661.9,1832.8L661.7,1835.9L661.6,1836.5L661.6,1836.6L661.6,1836.6L661.7,1836.7L661.7,1836.8L661.7,1836.8L661.7,1836.9L661.8,1836.9L661.8,1837.0L661.8,1837.0L661.9,1837.1L661.9,1837.1L662.0,1837.1L662.0,1837.1L662.1,1837.2L662.2,1837.2L662.2,1837.2L662.3,1837.2L662.3,1837.2L662.4,1837.2L662.4,1837.1L663.7,1836.7L663.7,1836.7L666.9,1835.4L667.0,1835.4L670.1,1834.0L670.2,1834.0L673.3,1832.4L673.3,1832.4L676.3,1830.8L676.4,1830.8L679.3,1829.0L679.3,1829.0L682.2,1827.2L682.2,1827.2L685.0,1825.2L685.0,1825.2L687.7,1823.1L687.7,1823.1L690.3,1820.9L690.3,1820.9L692.8,1818.6L692.8,1818.5L695.2,1816.1L695.2,1816.1L697.5,1813.6L697.5,1813.6L699.8,1811.0L699.8,1811.0L701.9,1808.3L701.9,1808.3L704.0,1805.5L704.0,1805.5L706.0,1802.6L706.0,1802.6L707.1,1801.0L707.1,1801.0L707.1,1800.9L707.1,1800.9L707.2,1800.8L707.2,1800.8L707.2,1800.7L707.2,1800.7L707.2,1800.6L707.1,1800.5L707.1,1800.5L707.1,1800.4L707.1,1800.4L707.0,1800.3L707.0,1800.3L707.0,1800.3L706.9,1800.2L706.9,1800.2L706.8,1800.2L706.7,1800.1L706.7,1800.1Z" fill="#b2d56c"/>
<path d="M943.0,1975.2L945.4,1972.9L947.8,1970.5L950.2,1968.2L950.2,1968.2L952.6,1965.8L952.6,1965.8L954.9,1963.5L954.9,1963.5L957.2,1961.1L957.2,1961.1L959.4,1958.8L959.4,1958.8L961.5,1956.4L961.5,1956.4L963.6,1954.0L963.6,1954.0L965.7,1951.5L965.7,1951.5L967.8,1949.1L967.8,1949.1L968.5,1948.2L968.6,1948.1L968.6,1948.1L968.6,1948.0L968.6,1948.0L968.6,1947.9L968.6,1947.8L968.7,1947.8L968.6,1947.7L968.6,1947.7L968.6,1947.6L968.6,1947.5L968.6,1947.5L968.5,1947.4L968.5,1947.4L968.5,1947.4L968.4,1947.3L966.9,1946.1L966.9,1946.1L964.2,1944.0L964.2,1944.0L961.5,1941.9L961.5,1941.9L958.7,1939.7L958.7,1939.7L956.0,1937.7L956.0,1937.6L953.2,1935.6L953.2,1935.6L950.4,1933.5L950.4,1933.5L947.6,1931.5L947.6,1931.5L944.7,1929.5L944.7,1929.5L941.9,1927.5L941.9,1927.5L939.0,1925.5L939.0,1925.5L939.0,1925.5L939.0,1925.5L938.9,1925.4L938.9,1925.4L938.8,1925.4L938.7,1925.4L938.7,1925.4L938.6,1925.4L938.6,1925.4L938.5,1925.4L938.4,1925.4L938.4,1925.5L938.3,1925.5L938.3,1925.5L938.3,1925.6L938.2,1925.6L938.2,1925.7L938.1,1925.7L937.2,1927.6L937.2,1927.6L935.9,1930.4L935.9,1930.5L934.8,1933.3L934.8,1933.3L933.9,1936.2L933.9,1936.3L933.2,1939.2L933.2,1939.2L932.7,1942.2L932.7,1942.2L932.5,1945.2L932.5,1945.3L932.4,1948.3L932.4,1948.4L932.6,1951.4L932.6,1951.5L933.0,1954.5L933.0,1954.6L933.6,1957.6L933.6,1957.7L934.4,1960.7L934.4,1960.7L935.3,1963.8L935.3,1963.8L936.4,1966.8L936.4,1966.8L937.6,1969.8L937.6,1969.8L939.0,1972.7L939.0,1972.7L940.4,1975.5L940.5,1975.5L940.9,1976.3L940.9,1976.4L941.0,1976.4L941.0,1976.4L941.1,1976.5L941.1,1976.5L941.2,1976.6L941.2,1976.6L941.3,1976.6L941.3,1976.6L941.4,1976.6L941.4,1976.6L941.5,1976.6L941.6,1976.6L941.6,1976.6L941.7,1976.6L941.7,1976.5L941.8,1976.5L941.8,1976.5L941.9,1976.4Z" fill="#99d0a4"/>
<path d="M631.4,2066.1L631.4,2066.1L634.3,2067.4L634.3,2067.4L637.1,2068.7L637.1,2068.7L640.0,2069.9L640.0,2069.9L642.9,2071.1L642.9,2071.1L645.8,2072.3L645.8,2072.3L648.8,2073.4L648.8,2073.4L651.7,2074.4L651.7,2074.4L654.7,2075.4L654.7,2075.4L657.7,2076.4L657.7,2076.4L660.7,2077.3L660.7,2077.3L663.7,2078.2L663.7,2078.2L666.8,2079.1L666.8,2079.1L669.8,2079.8L669.8,2079.9L669.9,2079.9L669.9,2079.9L670.0,2079.9L670.1,2079.8L670.1,2079.8L670.2,2079.8L670.2,2079.8L670.3,2079.7L670.3,2079.7L670.4,2079.7L670.4,2079.6L670.4,2079.6L670.5,2079.5L670.5,2079.5L670.5,2079.4L670.5,2079.3L670.5,2079.3L670.5,2079.2L670.5,2078.8L670.5,2078.7L670.1,2075.5L670.1,2075.5L669.5,2072.3L669.5,2072.2L668.9,2069.1L668.9,2069.1L668.1,2066.0L668.1,2065.9L667.1,2062.9L667.1,2062.9L666.0,2059.9L665.9,2059.9L664.6,2057.0L664.6,2057.0L663.1,2054.2L663.1,2054.2L661.5,2051.6L661.4,2051.5L659.6,2049.0L659.5,2049.0L657.5,2046.6L657.4,2046.6L655.1,2044.4L655.1,2044.3L652.6,2042.3L652.6,2042.3L649.9,2040.3L649.9,2040.3L647.0,2038.5L647.0,2038.5L644.1,2036.8L644.1,2036.8L641.1,2035.1L641.1,2035.1L638.1,2033.4L635.2,2031.7L634.3,2031.2L634.2,2031.2L634.2,2031.1L634.1,2031.1L634.1,2031.1L634.0,2031.1L634.0,2031.1L633.9,2031.1L633.8,2031.1L633.8,2031.1L633.7,2031.2L633.7,2031.2L633.6,2031.2L633.6,2031.3L633.5,2031.3L633.5,2031.3L633.5,2031.4L633.4,2031.4L633.4,2031.5L633.4,2031.6L633.4,2031.6L633.4,2031.7L632.6,2035.1L631.8,2038.5L630.9,2041.9L629.9,2045.2L628.9,2048.6L627.9,2052.0L626.8,2055.3L626.8,2055.3L625.8,2058.7L625.8,2058.7L624.8,2062.1L624.8,2062.1L624.7,2062.2L624.7,2062.3L624.7,2062.3L624.7,2062.4L624.7,2062.4L624.7,2062.5L624.8,2062.5L624.8,2062.6L624.8,2062.7L624.8,2062.7L624.9,2062.7L624.9,2062.8L624.9,2062.8L625.0,2062.9L625.0,2062.9L625.8,2063.3L625.9,2063.3L628.6,2064.7L628.6,2064.7Z" fill="#add793"/>
<path d="M612.4,1973.6L612.4,1973.6L610.7,1976.3L610.7,1976.3L608.9,1978.9L608.9,1978.9L607.2,1981.5L607.2,1981.5L605.5,1984.2L605.5,1984.2L603.8,1986.9L603.8,1986.9L602.2,1989.5L602.2,1989.6L600.6,1992.2L600.5,1992.2L598.9,1994.9L598.9,1995.0L597.4,1997.7L597.4,1997.7L595.8,2000.4L595.8,2000.4L594.3,2003.1L594.3,2003.1L593.9,2003.8L593.9,2003.8L593.9,2003.9L593.9,2003.9L593.8,2004.0L593.8,2004.0L593.8,2004.1L593.9,2004.2L593.9,2004.2L593.9,2004.3L593.9,2004.3L593.9,2004.4L594.0,2004.4L594.0,2004.5L594.0,2004.5L594.5,2005.0L594.6,2005.0L597.2,2007.0L597.2,2007.0L599.9,2008.8L599.9,2008.8L602.7,2010.5L605.4,2012.2L608.0,2014.0L610.6,2015.8L613.2,2017.7L615.8,2019.6L618.3,2021.5L618.3,2021.5L620.9,2023.5L620.9,2023.5L623.5,2025.4L623.5,2025.4L626.2,2027.3L626.2,2027.3L628.9,2029.2L628.9,2029.2L631.7,2031.0L631.7,2031.0L633.7,2032.2L633.7,2032.3L633.8,2032.3L633.8,2032.3L633.9,2032.3L633.9,2032.3L634.0,2032.3L634.1,2032.3L634.1,2032.3L634.2,2032.3L634.2,2032.3L634.3,2032.2L634.3,2032.2L634.4,2032.2L634.4,2032.1L634.5,2032.1L634.5,2032.0L634.5,2032.0L634.5,2031.9L634.6,2031.9L634.6,2031.8L635.1,2028.5L635.1,2028.5L635.6,2025.0L635.6,2025.0L635.9,2021.5L635.9,2021.5L636.1,2018.1L636.1,2018.0L636.1,2014.6L636.1,2014.6L635.9,2011.1L635.9,2011.1L635.5,2007.7L635.5,2007.7L635.0,2004.4L635.0,2004.3L634.2,2001.0L634.2,2001.0L633.2,1997.8L633.2,1997.8L632.0,1994.6L632.0,1994.6L630.5,1991.6L630.5,1991.5L628.8,1988.6L628.8,1988.6L626.8,1985.7L626.8,1985.7L624.7,1983.0L624.7,1983.0L622.4,1980.3L622.4,1980.3L619.9,1977.8L619.9,1977.8L617.3,1975.3L617.3,1975.3L614.7,1972.9L614.7,1972.9L614.1,1972.4L614.0,1972.4L614.0,1972.3L613.9,1972.3L613.9,1972.3L613.8,1972.3L613.7,1972.3L613.7,1972.3L613.6,1972.3L613.6,1972.3L613.5,1972.3L613.4,1972.3L613.4,1972.3L613.3,1972.4L613.3,1972.4L613.3,1972.4L613.2,1972.5L613.2,1972.5Z" fill="#abd57e"/>
<path d="M624.7,1886.1L624.7,1886.2L621.9,1887.6L621.9,1887.6L619.2,1889.2L619.2,1889.2L616.5,1890.8L616.5,1890.8L613.8,1892.4L613.8,1892.4L611.2,1894.0L611.2,1894.0L608.7,1895.7L608.7,1895.8L606.1,1897.5L606.1,1897.5L603.7,1899.3L603.7,1899.3L601.2,1901.1L601.2,1901.1L598.9,1903.0L598.8,1903.0L597.8,1903.9L597.8,1903.9L597.7,1904.0L597.7,1904.0L597.7,1904.1L597.6,1904.1L597.6,1904.2L597.6,1904.2L597.6,1904.3L597.6,1904.3L597.6,1904.4L597.6,1904.4L597.6,1904.5L597.7,1904.8L598.4,1908.0L599.0,1911.2L599.5,1914.3L599.9,1917.5L600.1,1920.7L600.2,1923.8L600.1,1927.0L599.9,1930.1L599.5,1933.2L598.9,1936.3L598.1,1939.4L597.1,1942.4L595.9,1945.4L594.5,1948.4L593.0,1951.3L591.3,1954.2L590.9,1955.0L590.9,1955.1L590.8,1955.1L590.8,1955.2L590.8,1955.2L590.8,1955.3L590.8,1955.4L590.8,1955.4L590.8,1955.5L590.9,1955.5L590.9,1955.6L590.9,1955.6L591.0,1955.7L591.0,1955.7L591.0,1955.8L591.7,1956.3L591.7,1956.3L594.5,1958.5L594.5,1958.5L597.3,1960.7L597.3,1960.7L600.1,1962.8L602.9,1965.0L605.7,1967.1L608.5,1969.3L611.2,1971.5L613.3,1973.3L613.3,1973.4L613.4,1973.4L613.4,1973.4L613.5,1973.4L613.5,1973.4L613.6,1973.5L613.7,1973.5L613.7,1973.5L613.8,1973.5L613.8,1973.4L613.9,1973.4L613.9,1973.4L614.0,1973.4L614.0,1973.3L614.1,1973.3L614.1,1973.2L614.2,1973.2L615.2,1971.7L617.0,1969.1L618.8,1966.5L620.6,1964.0L622.5,1961.4L624.3,1958.9L626.2,1956.4L628.1,1953.9L630.0,1951.4L631.9,1948.9L633.9,1946.4L635.8,1943.9L637.8,1941.5L637.8,1941.5L637.9,1941.4L637.9,1941.4L637.9,1941.3L637.9,1941.3L638.0,1941.2L638.0,1941.1L638.0,1941.1L638.0,1941.0L638.0,1941.0L637.9,1940.9L637.7,1940.2L636.9,1937.2L636.1,1934.2L635.3,1931.2L634.6,1928.2L633.8,1925.2L633.1,1922.2L632.4,1919.2L631.8,1916.2L631.1,1913.1L630.5,1910.1L629.9,1907.1L629.3,1904.0L628.7,1901.0L628.2,1897.9L627.7,1894.9L627.2,1891.8L626.8,1888.7L626.4,1886.2L626.4,1886.1L626.4,1886.1L626.3,1886.0L626.3,1885.9L626.3,1885.9L626.2,1885.9L626.2,1885.8L626.1,1885.8L626.1,1885.7L626.0,1885.7L626.0,1885.7L625.9,1885.7L625.9,1885.7L625.8,1885.7L625.8,1885.7L625.7,1885.7L625.6,1885.7L625.6,1885.7L625.5,1885.7Z" fill="#abd37e"/>
<path d="M865.1,2099.0L868.3,2099.5L868.3,2099.5L871.5,2100.1L871.5,2100.1L874.7,2100.6L874.7,2100.6L877.8,2101.1L877.8,2101.1L881.0,2101.6L881.0,2101.6L884.2,2102.1L884.2,2102.1L886.8,2102.4L886.8,2102.4L886.9,2102.4L886.9,2102.4L887.0,2102.4L887.1,2102.4L887.1,2102.4L887.2,2102.4L887.2,2102.3L887.2,2102.3L887.3,2102.2L887.3,2102.2L887.4,2102.2L887.4,2102.1L887.4,2102.1L887.4,2102.0L887.5,2101.7L888.4,2098.6L889.4,2095.5L890.5,2092.4L891.7,2089.5L893.0,2086.7L894.4,2084.0L896.0,2081.5L897.7,2079.2L899.6,2077.0L901.6,2075.2L903.9,2073.5L906.4,2072.0L909.0,2070.7L911.7,2069.6L914.6,2068.5L917.5,2067.6L920.5,2066.7L923.6,2065.8L926.7,2065.0L926.7,2065.0L928.3,2064.6L928.3,2064.6L928.4,2064.5L928.5,2064.5L928.5,2064.5L928.5,2064.4L928.6,2064.4L928.6,2064.3L928.7,2064.3L928.7,2064.2L928.7,2064.2L928.7,2064.1L928.7,2064.1L928.7,2064.0L928.7,2064.0L928.7,2063.9L928.4,2062.2L928.4,2062.2L927.8,2059.0L927.8,2059.0L927.1,2055.8L927.1,2055.8L926.5,2052.7L925.8,2049.5L925.2,2046.4L924.6,2043.2L924.0,2040.1L923.5,2036.9L923.2,2034.5L923.2,2034.4L923.2,2034.4L923.1,2034.3L923.1,2034.3L923.1,2034.2L923.0,2034.2L923.0,2034.1L922.9,2034.1L922.9,2034.1L922.8,2034.0L922.8,2034.0L922.7,2034.0L922.7,2034.0L922.6,2034.0L922.6,2034.0L922.5,2034.0L922.4,2034.0L922.4,2034.0L922.3,2034.0L922.3,2034.1L920.3,2035.3L917.6,2036.8L914.9,2038.3L912.1,2039.7L909.4,2041.1L906.6,2042.4L903.8,2043.7L900.9,2044.9L898.1,2046.1L895.2,2047.2L892.2,2048.3L889.3,2049.4L886.3,2050.4L883.3,2051.4L883.3,2051.4L883.3,2051.4L883.2,2051.4L883.2,2051.5L883.1,2051.5L883.1,2051.6L883.1,2051.6L883.0,2051.6L883.0,2051.7L883.0,2051.7L882.9,2051.8L882.7,2052.8L881.8,2055.8L880.9,2058.7L879.9,2061.6L878.9,2064.6L877.9,2067.5L876.8,2070.3L875.7,2073.2L874.6,2076.0L873.4,2078.9L872.2,2081.7L870.9,2084.4L869.6,2087.1L868.2,2089.9L866.8,2092.5L865.3,2095.2L863.8,2097.8L863.7,2097.9L863.7,2097.9L863.7,2098.0L863.7,2098.1L863.6,2098.1L863.6,2098.2L863.6,2098.2L863.6,2098.3L863.7,2098.3L863.7,2098.4L863.7,2098.5L863.7,2098.5L863.8,2098.6L863.8,2098.6L863.8,2098.6L863.9,2098.7L863.9,2098.7L864.0,2098.7L864.0,2098.8L864.1,2098.8L864.1,2098.8Z" fill="#99d1a2"/>
<path d="M851.3,1806.4L851.3,1806.4L849.9,1803.2L849.9,1803.2L848.6,1799.9L848.6,1799.9L847.2,1796.7L847.2,1796.7L845.8,1793.5L845.8,1793.5L844.4,1790.3L844.4,1790.3L843.0,1787.1L842.9,1787.1L841.5,1783.9L841.5,1783.9L840.0,1780.8L840.0,1780.8L838.5,1777.9L838.5,1777.8L838.5,1777.8L838.4,1777.7L838.4,1777.7L838.3,1777.6L838.3,1777.6L838.2,1777.6L838.2,1777.6L838.1,1777.5L838.1,1777.5L838.0,1777.5L837.9,1777.5L837.9,1777.5L836.3,1777.8L836.3,1777.8L833.2,1778.5L833.2,1778.5L830.2,1779.3L830.2,1779.3L827.1,1780.1L827.1,1780.1L824.1,1780.9L824.1,1780.9L821.1,1781.9L821.1,1781.9L818.1,1782.9L818.1,1782.9L815.1,1783.9L815.1,1783.9L812.2,1785.0L812.2,1785.0L809.3,1786.2L809.3,1786.2L806.4,1787.4L806.3,1787.4L803.5,1788.7L803.5,1788.7L802.2,1789.3L802.2,1789.3L802.1,1789.3L802.1,1789.3L802.0,1789.4L802.0,1789.4L802.0,1789.5L801.9,1789.5L801.9,1789.6L801.9,1789.6L801.9,1789.7L801.9,1789.8L801.9,1789.8L801.9,1789.9L801.9,1789.9L801.9,1790.0L801.9,1790.0L801.9,1790.1L802.0,1790.1L802.0,1790.2L802.4,1790.6L802.4,1790.6L804.6,1792.9L804.6,1792.9L806.9,1795.1L806.9,1795.1L809.3,1797.1L809.4,1797.1L811.9,1799.0L811.9,1799.0L814.6,1800.7L814.6,1800.7L817.3,1802.2L817.4,1802.3L820.2,1803.6L820.2,1803.7L823.1,1804.9L823.1,1804.9L826.0,1805.9L826.1,1805.9L829.0,1806.8L829.1,1806.8L832.1,1807.5L832.1,1807.5L835.2,1808.0L835.2,1808.0L838.2,1808.3L838.3,1808.3L841.4,1808.4L841.4,1808.4L844.5,1808.4L844.5,1808.4L847.6,1808.2L847.6,1808.2L850.7,1807.9L850.8,1807.9L851.1,1807.9L851.1,1807.9L851.2,1807.9L851.3,1807.9L851.3,1807.8L851.4,1807.8L851.4,1807.8L851.5,1807.7L851.5,1807.7L851.5,1807.6L851.6,1807.6L851.6,1807.5L851.6,1807.5L851.6,1807.4L851.6,1807.4L851.6,1807.3L851.6,1807.3L851.6,1807.2L851.6,1807.1L851.6,1807.1Z" fill="#add891"/>
<path d="M740.6,2122.2L740.6,2122.2L742.7,2124.5L742.7,2124.5L744.8,2126.8L744.8,2126.8L747.0,2129.1L747.0,2129.1L749.2,2131.4L749.2,2131.4L751.4,2133.6L751.4,2133.6L753.6,2135.8L753.6,2135.8L755.9,2137.9L755.9,2137.9L758.2,2140.0L758.2,2140.0L760.5,2142.1L760.5,2142.1L762.8,2144.1L762.8,2144.1L765.2,2146.1L765.2,2146.1L767.6,2148.0L767.6,2148.0L768.4,2148.6L768.4,2148.6L768.5,2148.6L768.5,2148.7L768.6,2148.7L768.6,2148.7L768.7,2148.7L768.8,2148.7L768.8,2148.7L768.9,2148.7L768.9,2148.7L769.0,2148.6L771.9,2147.4L771.9,2147.4L774.9,2146.0L774.9,2146.0L777.8,2144.5L777.8,2144.5L780.5,2142.9L780.6,2142.9L783.2,2141.2L783.2,2141.2L785.8,2139.4L785.8,2139.4L788.2,2137.5L788.2,2137.5L790.4,2135.4L790.5,2135.4L792.6,2133.3L792.6,2133.2L794.7,2131.0L794.7,2131.0L796.7,2128.6L796.7,2128.6L798.6,2126.2L798.6,2126.2L800.6,2123.7L800.6,2123.7L802.6,2121.2L802.9,2120.8L802.9,2120.8L803.0,2120.7L803.0,2120.7L803.0,2120.6L803.0,2120.6L803.0,2120.5L803.0,2120.4L803.0,2120.4L803.0,2120.3L803.0,2120.3L803.0,2120.2L803.0,2120.2L802.9,2120.1L802.9,2120.1L802.8,2120.0L802.8,2120.0L802.8,2119.9L802.7,2119.9L802.6,2119.9L802.5,2119.8L799.2,2118.6L799.2,2118.6L796.0,2117.3L796.0,2117.3L792.7,2116.2L792.7,2116.2L789.5,2115.1L789.5,2115.1L786.2,2114.1L786.2,2114.1L782.9,2113.3L782.8,2113.3L779.5,2112.6L779.5,2112.6L776.1,2112.2L776.1,2112.2L772.7,2111.9L772.6,2111.9L769.2,2111.9L769.2,2111.9L765.7,2112.0L765.7,2112.0L762.3,2112.3L762.2,2112.3L758.8,2112.9L758.8,2112.9L755.4,2113.6L755.4,2113.6L752.0,2114.5L751.9,2114.5L748.6,2115.5L748.6,2115.5L745.2,2116.7L745.2,2116.7L741.9,2118.0L741.9,2118.0L739.0,2119.2L738.9,2119.2L738.9,2119.3L738.8,2119.3L738.8,2119.3L738.7,2119.4L738.7,2119.4L738.7,2119.5L738.6,2119.5L738.6,2119.6L738.6,2119.6L738.6,2119.7L738.6,2119.8L738.6,2119.8L738.6,2119.9L738.6,2119.9L738.6,2120.0L738.7,2120.1L738.7,2120.1L738.7,2120.1Z" fill="#abd57c"/>
<path d="M805.3,2122.2L805.3,2122.2L808.5,2123.4L808.5,2123.4L811.8,2124.7L811.8,2124.7L815.0,2125.9L815.0,2125.9L818.3,2127.1L818.3,2127.1L821.6,2128.3L821.6,2128.3L824.9,2129.5L824.9,2129.5L828.2,2130.7L828.2,2130.7L831.5,2131.8L831.5,2131.8L834.6,2132.9L834.7,2132.9L834.7,2132.9L834.8,2132.9L834.9,2132.9L834.9,2132.9L835.0,2132.9L835.0,2132.9L835.1,2132.9L835.2,2132.8L835.2,2132.8L837.4,2130.9L837.4,2130.9L839.8,2128.9L839.8,2128.9L842.0,2126.8L842.0,2126.8L844.2,2124.7L844.2,2124.7L846.4,2122.5L846.4,2122.5L848.5,2120.3L848.5,2120.3L850.6,2118.0L850.6,2118.0L852.6,2115.7L852.6,2115.7L854.5,2113.4L854.5,2113.4L856.3,2111.0L856.4,2111.0L858.2,2108.6L858.2,2108.5L859.9,2106.1L859.9,2106.1L861.6,2103.6L861.6,2103.5L863.2,2101.0L863.2,2101.0L864.8,2098.5L864.8,2098.5L864.8,2098.4L864.8,2098.4L864.8,2098.3L864.8,2098.2L864.8,2098.2L864.8,2098.1L864.8,2098.1L864.8,2098.0L864.8,2098.0L864.8,2097.9L864.7,2097.9L864.7,2097.8L864.7,2097.8L864.6,2097.7L864.6,2097.7L864.5,2097.7L864.5,2097.6L864.4,2097.6L864.3,2097.6L862.0,2097.2L862.0,2097.2L858.8,2096.7L858.8,2096.7L855.6,2096.2L855.6,2096.2L852.4,2095.7L852.3,2095.7L849.1,2095.4L849.1,2095.4L845.9,2095.1L845.9,2095.1L842.8,2095.0L842.8,2095.0L839.7,2095.1L839.6,2095.1L836.6,2095.3L836.5,2095.3L833.6,2095.7L833.5,2095.8L830.6,2096.4L830.6,2096.4L827.7,2097.4L827.7,2097.4L825.0,2098.6L824.9,2098.6L822.3,2100.1L822.2,2100.1L819.7,2101.8L819.6,2101.8L817.2,2103.7L817.1,2103.7L814.7,2105.8L814.7,2105.9L812.4,2108.1L812.4,2108.1L810.1,2110.4L810.1,2110.5L807.9,2112.9L807.9,2112.9L805.7,2115.4L805.7,2115.4L803.7,2117.9L803.7,2118.0L802.0,2120.1L801.9,2120.1L801.9,2120.2L801.9,2120.2L801.9,2120.3L801.8,2120.3L801.8,2120.4L801.8,2120.5L801.8,2120.5L801.8,2120.6L801.9,2120.6L801.9,2120.7L801.9,2120.7L801.9,2120.8L802.0,2120.8L802.0,2120.9L802.1,2120.9L802.1,2121.0L802.2,2121.0L802.2,2121.0Z" fill="#acd67a"/>
<path d="M669.5,2082.1L669.7,2085.4L669.8,2088.7L669.9,2092.0L670.0,2095.3L670.0,2095.3L670.1,2098.6L670.1,2098.6L670.3,2101.9L670.3,2101.9L670.4,2104.2L670.4,2104.3L670.4,2104.3L670.5,2104.4L670.5,2104.4L670.5,2104.5L670.6,2104.5L670.6,2104.6L670.6,2104.6L670.7,2104.6L670.7,2104.7L670.8,2104.7L670.8,2104.7L670.9,2104.7L672.4,2105.1L675.4,2105.8L678.4,2106.7L681.3,2107.6L684.1,2108.7L686.8,2109.9L689.5,2111.3L692.1,2112.8L694.5,2114.5L696.9,2116.4L699.3,2118.4L701.5,2120.5L703.8,2122.7L706.0,2125.0L708.2,2127.3L710.4,2129.7L710.4,2129.7L712.6,2132.0L712.6,2132.0L713.1,2132.6L713.2,2132.6L713.2,2132.7L713.3,2132.7L713.3,2132.7L713.4,2132.7L713.4,2132.8L713.5,2132.8L713.5,2132.8L713.6,2132.8L713.7,2132.8L713.7,2132.8L713.8,2132.7L713.8,2132.7L714.2,2132.5L714.2,2132.5L717.3,2131.0L717.3,2131.0L720.4,2129.4L720.4,2129.4L723.5,2127.9L726.5,2126.3L729.7,2124.8L732.8,2123.3L735.9,2121.8L739.1,2120.4L739.4,2120.3L739.5,2120.3L739.5,2120.2L739.6,2120.2L739.6,2120.2L739.7,2120.1L739.7,2120.1L739.7,2120.0L739.7,2120.0L739.8,2119.9L739.8,2119.9L739.8,2119.8L739.8,2119.7L739.8,2119.7L739.8,2119.6L739.8,2119.6L739.7,2119.5L739.7,2119.4L739.7,2119.4L739.6,2119.4L739.4,2119.0L737.3,2116.7L735.2,2114.3L733.2,2111.9L731.2,2109.5L729.2,2107.0L727.2,2104.6L725.2,2102.1L723.2,2099.7L721.3,2097.2L719.3,2094.7L717.4,2092.3L715.4,2089.8L713.5,2087.4L712.1,2085.6L712.1,2085.6L712.0,2085.5L712.0,2085.5L711.9,2085.4L711.9,2085.4L711.8,2085.4L711.7,2085.4L711.7,2085.4L710.2,2085.3L707.1,2085.0L704.0,2084.7L700.9,2084.4L697.8,2084.0L694.7,2083.6L691.6,2083.1L688.5,2082.6L685.4,2082.0L682.3,2081.5L679.3,2080.8L676.2,2080.2L673.2,2079.5L670.1,2078.7L670.1,2078.7L670.0,2078.7L669.9,2078.7L669.9,2078.7L669.8,2078.7L669.8,2078.7L669.7,2078.7L669.6,2078.7L669.6,2078.8L669.5,2078.8L669.5,2078.8L669.5,2078.9L669.4,2078.9L669.4,2079.0L669.4,2079.0L669.3,2079.1L669.3,2079.1L669.3,2079.2L669.3,2079.3L669.3,2079.3Z" fill="#a9d280"/>
<path d="M883.7,2052.5L883.7,2052.5L886.7,2051.5L886.7,2051.5L889.7,2050.5L889.7,2050.5L892.6,2049.4L892.6,2049.4L895.6,2048.4L895.6,2048.3L898.5,2047.2L898.5,2047.2L901.4,2046.1L901.4,2046.0L904.3,2044.8L904.3,2044.8L907.1,2043.5L907.1,2043.5L909.9,2042.2L909.9,2042.2L912.7,2040.8L912.7,2040.8L915.4,2039.3L915.4,2039.3L918.2,2037.8L918.2,2037.8L920.9,2036.3L920.9,2036.3L922.9,2035.1L922.9,2035.1L923.0,2035.0L923.0,2035.0L923.1,2034.9L923.1,2034.9L923.1,2034.8L923.1,2034.8L923.2,2034.7L923.2,2034.7L923.2,2034.6L923.2,2034.5L923.2,2034.5L923.1,2033.7L922.7,2030.4L922.4,2027.1L922.2,2023.9L922.2,2020.6L922.2,2017.3L922.4,2014.1L922.8,2010.9L923.3,2007.7L924.0,2004.6L924.8,2001.6L925.9,1998.6L927.2,1995.8L928.6,1993.0L930.3,1990.3L932.1,1987.6L934.1,1985.0L936.2,1982.5L938.4,1980.1L940.7,1977.6L941.9,1976.4L941.9,1976.4L941.9,1976.3L942.0,1976.3L942.0,1976.2L942.0,1976.2L942.0,1976.1L942.0,1976.1L942.0,1976.0L942.0,1975.9L942.0,1975.9L942.0,1975.8L942.0,1975.8L942.0,1975.7L941.5,1974.9L940.1,1972.1L938.7,1969.3L937.5,1966.4L936.5,1963.4L935.6,1960.4L934.8,1957.4L934.2,1954.4L933.8,1951.3L933.6,1948.3L933.7,1945.3L933.9,1942.3L934.4,1939.4L935.1,1936.6L936.0,1933.7L937.0,1930.9L938.3,1928.1L939.2,1926.2L939.2,1926.2L939.3,1926.1L939.3,1926.1L939.3,1926.0L939.3,1926.0L939.3,1925.9L939.3,1925.9L939.3,1925.8L939.2,1925.7L939.2,1925.7L939.2,1925.6L939.1,1925.6L939.1,1925.6L939.1,1925.5L939.0,1925.5L936.1,1923.5L936.1,1923.5L933.2,1921.6L933.2,1921.6L930.3,1919.7L927.4,1917.7L924.5,1915.8L921.6,1913.8L918.7,1911.9L915.9,1909.9L913.1,1907.9L910.3,1905.8L907.5,1903.7L904.9,1901.5L902.2,1899.3L900.4,1897.6L900.4,1897.6L900.3,1897.6L900.2,1897.6L900.2,1897.5L900.1,1897.5L900.1,1897.5L900.0,1897.5L900.0,1897.5L899.9,1897.5L899.8,1897.5L899.8,1897.5L899.7,1897.6L899.7,1897.6L899.6,1897.6L899.6,1897.7L899.5,1897.7L899.5,1897.8L899.5,1897.8L899.4,1897.9L899.4,1897.9L899.4,1898.0L899.4,1898.0L899.4,1898.1L899.4,1901.1L899.4,1904.1L899.4,1907.2L899.3,1910.2L899.3,1913.3L899.3,1916.3L899.2,1919.4L899.2,1922.5L899.1,1925.5L899.1,1928.6L899.0,1931.6L898.9,1934.7L898.8,1937.7L898.7,1940.8L898.6,1943.8L898.4,1946.9L898.3,1949.9L898.1,1953.0L898.0,1956.0L897.8,1959.1L897.6,1962.1L897.4,1965.2L897.1,1968.2L896.9,1971.3L896.6,1974.3L896.3,1977.4L896.0,1980.4L895.7,1983.4L895.4,1986.5L895.1,1989.5L894.7,1992.6L894.3,1995.6L893.9,1998.6L893.5,2001.7L893.0,2004.7L892.6,2007.7L892.1,2010.7L891.6,2013.8L891.0,2016.8L890.5,2019.8L889.9,2022.8L889.3,2025.8L888.6,2028.8L888.0,2031.9L887.3,2034.9L886.6,2037.9L885.9,2040.9L885.1,2043.9L884.3,2046.9L883.5,2049.8L882.9,2051.8L882.9,2051.9L882.9,2051.9L882.9,2052.0L882.9,2052.0L882.9,2052.1L883.0,2052.2L883.0,2052.2L883.0,2052.3L883.0,2052.3L883.1,2052.4L883.1,2052.4L883.2,2052.4L883.2,2052.5L883.3,2052.5L883.3,2052.5L883.4,2052.5L883.4,2052.6L883.5,2052.6L883.5,2052.6L883.6,2052.6L883.7,2052.5L883.7,2052.5Z" fill="#95cc9e"/>
<path d="M861.5,1832.2L861.5,1832.2L860.3,1829.0L860.3,1829.0L859.0,1825.7L859.0,1825.7L857.8,1822.5L857.8,1822.5L856.5,1819.2L856.5,1819.2L855.2,1816.0L855.2,1816.0L853.9,1812.8L853.9,1812.8L852.6,1809.6L852.6,1809.6L851.6,1807.1L851.6,1807.0L851.5,1807.0L851.5,1806.9L851.4,1806.9L851.4,1806.8L851.4,1806.8L851.3,1806.8L851.2,1806.8L851.2,1806.7L851.1,1806.7L851.1,1806.7L851.0,1806.7L851.0,1806.7L850.6,1806.8L847.5,1807.0L844.5,1807.2L841.4,1807.2L838.3,1807.1L835.3,1806.8L832.3,1806.3L829.3,1805.6L826.4,1804.8L823.5,1803.8L820.7,1802.6L817.9,1801.2L815.2,1799.7L812.6,1798.0L810.1,1796.2L807.7,1794.2L805.4,1792.1L803.3,1789.8L802.9,1789.4L802.9,1789.4L802.8,1789.3L802.8,1789.3L802.7,1789.3L802.7,1789.2L802.6,1789.2L802.6,1789.2L802.5,1789.2L802.4,1789.2L802.4,1789.2L802.3,1789.2L802.3,1789.2L802.2,1789.3L800.6,1790.0L800.6,1790.0L797.8,1791.4L797.7,1791.4L794.9,1792.8L794.9,1792.8L792.1,1794.3L792.1,1794.3L789.3,1795.8L789.3,1795.8L786.6,1797.3L786.6,1797.3L783.8,1798.9L783.8,1798.9L781.1,1800.6L781.1,1800.6L778.4,1802.3L778.4,1802.3L775.7,1804.0L775.7,1804.0L773.1,1805.7L773.1,1805.7L770.5,1807.5L770.5,1807.5L767.9,1809.3L767.9,1809.3L765.3,1811.2L765.3,1811.2L763.5,1812.5L763.4,1812.6L763.4,1812.6L763.4,1812.7L763.3,1812.7L763.3,1812.8L763.3,1812.8L763.3,1812.9L763.2,1812.9L763.2,1813.0L763.2,1813.1L763.3,1813.1L763.3,1813.2L763.3,1813.2L763.3,1813.3L763.3,1813.3L763.4,1813.4L763.4,1813.4L763.5,1813.5L763.5,1813.5L763.5,1813.5L763.6,1813.6L763.7,1813.6L763.7,1813.6L765.7,1814.0L768.9,1814.7L772.1,1815.4L775.3,1816.1L778.4,1816.8L781.6,1817.5L784.8,1818.2L788.0,1818.9L791.2,1819.5L794.4,1820.2L797.6,1820.9L800.8,1821.6L800.8,1821.6L803.9,1822.2L803.9,1822.2L807.1,1822.9L807.1,1822.9L810.3,1823.6L810.3,1823.6L813.5,1824.2L813.5,1824.2L816.7,1824.9L816.7,1824.9L819.9,1825.5L819.9,1825.5L823.1,1826.2L823.1,1826.2L826.3,1826.8L826.3,1826.8L829.5,1827.4L829.5,1827.4L832.7,1828.1L832.7,1828.1L835.9,1828.7L835.9,1828.7L839.1,1829.3L839.1,1829.3L842.3,1829.9L842.3,1829.9L845.5,1830.5L845.5,1830.5L848.7,1831.1L848.7,1831.1L851.9,1831.7L851.9,1831.7L855.1,1832.3L855.1,1832.3L858.3,1832.9L858.3,1832.9L860.9,1833.3L861.0,1833.3L861.0,1833.3L861.1,1833.3L861.1,1833.3L861.2,1833.3L861.3,1833.3L861.3,1833.3L861.4,1833.2L861.4,1833.2L861.4,1833.1L861.5,1833.1L861.5,1833.1L861.5,1833.0L861.6,1832.9L861.6,1832.9L861.6,1832.8L861.6,1832.8L861.6,1832.7L861.6,1832.6L861.6,1832.6L861.6,1832.5Z" fill="#acd78f"/>
<path d="M900.6,1898.0L900.6,1898.0L900.6,1894.9L900.6,1894.9L900.6,1891.9L900.6,1891.9L900.6,1888.8L900.6,1888.8L900.6,1885.8L900.6,1882.7L900.5,1879.6L900.5,1876.6L900.5,1873.5L900.5,1870.4L900.5,1867.4L900.4,1864.3L900.4,1861.2L900.4,1858.2L900.4,1855.1L900.4,1852.0L900.3,1848.9L900.3,1845.9L900.3,1842.8L900.3,1839.7L900.3,1839.4L900.3,1839.3L900.3,1839.3L900.3,1839.2L900.3,1839.2L900.3,1839.1L900.2,1839.1L900.2,1839.0L900.1,1839.0L900.1,1838.9L900.1,1838.9L900.0,1838.9L899.9,1838.9L899.9,1838.8L899.8,1838.8L897.1,1838.3L897.1,1838.3L893.9,1837.8L893.9,1837.8L890.7,1837.2L890.7,1837.2L887.5,1836.7L887.5,1836.7L884.3,1836.1L881.0,1835.6L877.8,1835.0L874.6,1834.5L871.4,1833.9L868.2,1833.4L865.0,1832.8L861.8,1832.3L861.1,1832.1L861.1,1832.1L861.0,1832.1L860.9,1832.1L860.9,1832.2L860.8,1832.2L860.8,1832.2L860.7,1832.2L860.7,1832.3L860.6,1832.3L860.6,1832.3L860.5,1832.4L860.5,1832.4L860.5,1832.5L860.4,1832.5L860.4,1832.6L860.4,1832.6L860.4,1832.7L860.4,1832.8L860.4,1832.8L860.4,1832.9L860.4,1832.9L861.5,1835.9L862.7,1839.2L862.7,1839.2L863.9,1842.4L863.9,1842.5L865.1,1845.7L865.1,1845.7L866.4,1849.0L866.4,1849.0L867.6,1852.2L867.6,1852.2L869.0,1855.4L869.0,1855.4L870.4,1858.6L870.4,1858.6L871.9,1861.8L871.9,1861.8L873.4,1864.9L873.4,1864.9L875.1,1868.0L875.1,1868.0L876.8,1871.0L876.8,1871.0L878.7,1873.9L878.7,1873.9L880.6,1876.8L880.6,1876.8L882.6,1879.7L882.6,1879.7L884.7,1882.5L884.7,1882.5L886.9,1885.2L886.9,1885.2L889.1,1887.9L889.1,1887.9L891.4,1890.5L891.4,1890.5L893.8,1893.0L893.8,1893.0L896.3,1895.5L896.3,1895.5L898.8,1897.9L898.8,1897.9L899.6,1898.5L899.6,1898.6L899.7,1898.6L899.8,1898.6L899.8,1898.7L899.9,1898.7L899.9,1898.7L900.0,1898.7L900.0,1898.7L900.1,1898.7L900.2,1898.7L900.2,1898.7L900.3,1898.6L900.3,1898.6L900.4,1898.6L900.4,1898.5L900.5,1898.5L900.5,1898.4L900.5,1898.4L900.6,1898.3L900.6,1898.3L900.6,1898.2L900.6,1898.2L900.6,1898.1Z" fill="#abd47a"/>
<path d="M762.8,1812.2L759.6,1811.5L756.4,1810.8L753.2,1810.1L750.0,1809.4L746.8,1808.7L743.6,1808.0L740.5,1807.3L737.3,1806.6L734.1,1805.9L730.9,1805.3L727.7,1804.6L724.5,1803.9L721.3,1803.2L718.1,1802.5L714.9,1801.9L711.7,1801.2L711.7,1801.2L708.5,1800.5L708.5,1800.5L706.7,1800.1L706.6,1800.1L706.6,1800.1L706.5,1800.1L706.5,1800.1L706.4,1800.1L706.3,1800.2L706.3,1800.2L706.2,1800.2L706.2,1800.2L706.1,1800.3L706.1,1800.3L706.1,1800.4L705.0,1801.9L703.0,1804.8L701.0,1807.5L698.8,1810.2L696.6,1812.8L694.3,1815.3L692.0,1817.7L689.5,1820.0L687.0,1822.2L684.3,1824.2L681.6,1826.2L678.7,1828.0L675.8,1829.7L672.7,1831.4L669.6,1832.9L666.5,1834.3L663.3,1835.6L662.0,1836.0L662.0,1836.0L661.9,1836.1L661.9,1836.1L661.8,1836.1L661.8,1836.2L661.8,1836.2L661.7,1836.3L661.7,1836.3L661.7,1836.4L661.7,1836.4L661.7,1836.5L661.6,1836.5L661.4,1839.0L661.0,1842.1L660.6,1845.2L660.0,1848.2L659.3,1851.2L658.4,1854.1L657.4,1856.9L656.3,1859.7L655.0,1862.3L653.6,1864.9L652.0,1867.3L650.3,1869.6L648.3,1871.7L646.2,1873.7L643.9,1875.6L641.4,1877.3L638.8,1878.9L636.0,1880.4L633.2,1881.8L630.4,1883.3L627.5,1884.7L627.5,1884.7L625.5,1885.7L625.5,1885.8L625.4,1885.8L625.4,1885.8L625.3,1885.9L625.3,1885.9L625.3,1886.0L625.3,1886.0L625.2,1886.1L625.2,1886.1L625.2,1886.2L625.2,1886.2L625.2,1886.3L625.2,1886.3L625.6,1888.9L625.6,1888.9L626.0,1892.0L626.0,1892.0L626.5,1895.1L626.5,1895.1L627.0,1898.1L627.0,1898.1L627.6,1901.2L627.6,1901.2L628.1,1904.2L628.1,1904.3L628.7,1907.3L628.7,1907.3L629.3,1910.4L629.3,1910.4L629.9,1913.4L629.9,1913.4L630.6,1916.4L630.6,1916.4L631.3,1919.5L631.3,1919.5L631.9,1922.5L631.9,1922.5L632.7,1925.5L632.7,1925.5L633.4,1928.5L633.4,1928.5L634.2,1931.5L634.2,1931.5L634.9,1934.5L634.9,1934.5L635.7,1937.5L635.7,1937.5L636.6,1940.5L636.6,1940.5L636.8,1941.2L636.8,1941.3L636.8,1941.4L636.9,1941.4L636.9,1941.5L636.9,1941.5L637.0,1941.5L637.0,1941.6L637.1,1941.6L637.1,1941.6L637.2,1941.7L637.2,1941.7L637.3,1941.7L637.4,1941.7L637.4,1941.7L637.5,1941.7L637.5,1941.7L637.6,1941.6L637.6,1941.6L637.7,1941.6L637.7,1941.5L637.8,1941.5L637.8,1941.5L639.8,1939.0L641.8,1936.6L643.8,1934.2L645.8,1931.8L647.9,1929.4L649.9,1927.0L652.0,1924.6L654.1,1922.3L656.1,1919.9L658.2,1917.6L660.3,1915.2L662.4,1912.9L664.6,1910.6L666.7,1908.3L668.8,1906.0L671.0,1903.7L673.1,1901.4L675.3,1899.1L677.4,1896.8L679.6,1894.5L681.7,1892.2L683.9,1889.9L686.1,1887.7L688.3,1885.4L690.5,1883.1L692.6,1880.9L694.8,1878.6L697.0,1876.3L699.2,1874.1L701.4,1871.8L703.6,1869.6L705.8,1867.3L708.0,1865.0L710.2,1862.8L712.4,1860.5L714.6,1858.3L716.8,1856.0L719.0,1853.8L721.2,1851.6L723.5,1849.3L725.7,1847.1L727.9,1844.9L730.2,1842.7L732.5,1840.6L734.8,1838.4L737.1,1836.3L739.4,1834.1L741.7,1832.0L744.0,1829.9L746.4,1827.9L748.8,1825.8L751.2,1823.8L753.6,1821.8L756.0,1819.8L758.5,1817.9L761.0,1815.9L763.5,1814.0L764.2,1813.5L764.2,1813.5L764.3,1813.4L764.3,1813.4L764.4,1813.3L764.4,1813.3L764.4,1813.2L764.4,1813.2L764.4,1813.1L764.4,1813.0L764.4,1813.0L764.4,1812.9L764.4,1812.9L764.4,1812.8L764.4,1812.8L764.4,1812.7L764.3,1812.7L764.3,1812.6L764.2,1812.6L764.2,1812.5L764.1,1812.5L764.1,1812.5L764.0,1812.5L764.0,1812.4Z" fill="#aad37c"/>
<path d="M675.9,2081.3L675.9,2081.3L679.0,2082.0L679.0,2082.0L682.1,2082.6L682.1,2082.6L685.2,2083.2L685.2,2083.2L688.3,2083.8L688.3,2083.8L691.4,2084.3L691.4,2084.3L694.5,2084.7L694.5,2084.7L697.6,2085.2L697.6,2085.2L700.8,2085.6L700.8,2085.6L703.9,2085.9L703.9,2085.9L707.0,2086.2L707.0,2086.2L710.1,2086.5L710.1,2086.5L711.6,2086.6L711.7,2086.6L711.7,2086.6L711.8,2086.6L711.8,2086.5L711.9,2086.5L711.9,2086.5L712.0,2086.5L712.0,2086.4L712.1,2086.4L712.1,2086.3L712.1,2086.3L712.2,2086.3L712.2,2086.2L712.2,2086.1L712.2,2086.1L712.2,2086.0L712.2,2086.0L712.2,2085.9L712.2,2085.9L712.2,2085.8L712.2,2085.7L712.2,2085.7L712.1,2085.6L712.1,2085.6L711.6,2084.9L709.7,2082.5L707.8,2080.1L705.9,2077.6L704.0,2075.2L702.1,2072.8L700.3,2070.3L698.4,2067.9L696.6,2065.4L694.8,2063.0L693.0,2060.5L691.2,2058.0L689.5,2055.5L687.8,2053.0L686.1,2050.5L684.4,2047.9L682.7,2045.3L681.1,2042.7L679.5,2040.1L678.0,2037.5L676.4,2034.8L674.9,2032.1L673.4,2029.4L671.9,2026.6L670.5,2023.9L669.1,2021.1L667.7,2018.3L666.3,2015.5L665.0,2012.7L663.7,2009.9L662.3,2007.0L661.1,2004.2L659.8,2001.3L658.5,1998.5L657.3,1995.6L656.1,1992.8L654.9,1989.9L653.7,1987.0L652.6,1984.1L651.5,1981.2L650.3,1978.3L649.2,1975.4L648.2,1972.5L647.1,1969.6L646.1,1966.7L645.1,1963.8L644.1,1960.8L643.1,1957.9L642.2,1955.0L641.2,1952.0L640.3,1949.1L639.4,1946.1L638.6,1943.1L637.9,1940.9L637.9,1940.9L637.9,1940.8L637.9,1940.8L637.8,1940.7L637.8,1940.7L637.8,1940.6L637.7,1940.6L637.7,1940.6L637.6,1940.5L637.5,1940.5L637.5,1940.5L637.4,1940.5L637.4,1940.5L637.3,1940.5L637.3,1940.5L637.2,1940.5L637.1,1940.5L637.1,1940.5L637.0,1940.6L637.0,1940.6L636.9,1940.7L636.9,1940.7L636.9,1940.7L636.9,1940.7L634.9,1943.2L634.9,1943.2L632.9,1945.6L632.9,1945.6L631.0,1948.1L631.0,1948.1L629.1,1950.6L629.1,1950.6L627.1,1953.1L627.1,1953.1L625.2,1955.6L625.2,1955.7L623.4,1958.2L623.4,1958.2L621.5,1960.7L621.5,1960.7L619.6,1963.3L619.6,1963.3L617.8,1965.9L617.8,1965.9L616.0,1968.4L616.0,1968.4L614.2,1971.0L614.2,1971.0L613.2,1972.5L613.1,1972.6L613.1,1972.6L613.1,1972.7L613.1,1972.7L613.1,1972.8L613.1,1972.9L613.1,1972.9L613.1,1973.0L613.1,1973.0L613.1,1973.1L613.1,1973.1L613.2,1973.2L613.2,1973.2L613.2,1973.3L613.3,1973.3L613.9,1973.8L616.5,1976.2L619.1,1978.6L621.5,1981.1L623.8,1983.7L625.9,1986.4L627.8,1989.2L629.4,1992.1L630.9,1995.1L632.1,1998.2L633.0,2001.3L633.8,2004.6L634.3,2007.9L634.7,2011.2L634.9,2014.6L634.9,2018.0L634.7,2021.4L634.4,2024.9L634.0,2028.3L633.4,2031.6L633.4,2031.7L633.4,2031.7L633.4,2031.8L633.4,2031.8L633.4,2031.9L633.4,2032.0L633.5,2032.0L633.5,2032.1L633.5,2032.1L633.6,2032.2L633.6,2032.2L633.7,2032.2L634.6,2032.8L634.6,2032.8L637.5,2034.5L637.5,2034.5L640.5,2036.2L643.5,2037.8L646.4,2039.5L649.2,2041.3L651.9,2043.2L654.3,2045.2L656.6,2047.4L658.6,2049.7L660.5,2052.2L662.1,2054.8L663.6,2057.5L664.8,2060.3L666.0,2063.3L666.9,2066.3L667.7,2069.3L668.4,2072.5L668.9,2075.7L669.3,2078.9L669.3,2079.3L669.3,2079.4L669.3,2079.4L669.3,2079.5L669.4,2079.5L669.4,2079.6L669.4,2079.6L669.5,2079.7L669.5,2079.7L669.6,2079.7L669.6,2079.8L669.6,2079.8L669.7,2079.8L669.8,2079.8L669.8,2079.9L669.8,2079.9L672.9,2080.6L672.9,2080.6Z" fill="#a9d27f"/>
<path d="M712.6,2088.1L714.5,2090.6L716.4,2093.0L716.4,2093.0L718.4,2095.5L718.4,2095.5L720.3,2098.0L720.3,2098.0L722.3,2100.4L722.3,2100.4L724.3,2102.9L724.3,2102.9L726.2,2105.3L726.2,2105.3L728.2,2107.8L728.2,2107.8L730.3,2110.2L730.3,2110.2L732.3,2112.6L732.3,2112.7L734.3,2115.1L734.3,2115.1L736.4,2117.5L736.4,2117.5L738.5,2119.8L738.5,2119.8L738.7,2120.1L738.8,2120.2L738.8,2120.2L738.9,2120.3L738.9,2120.3L739.0,2120.3L739.0,2120.3L739.1,2120.3L739.1,2120.3L739.2,2120.4L739.3,2120.3L739.3,2120.3L739.4,2120.3L739.4,2120.3L742.4,2119.1L745.6,2117.8L748.9,2116.7L752.3,2115.7L755.6,2114.8L759.0,2114.1L762.4,2113.5L765.8,2113.2L769.2,2113.1L772.6,2113.1L776.0,2113.4L779.3,2113.8L782.6,2114.4L785.9,2115.3L789.1,2116.2L792.3,2117.3L795.6,2118.5L798.8,2119.7L802.0,2120.9L802.2,2121.0L802.3,2121.0L802.3,2121.0L802.4,2121.0L802.4,2121.1L802.5,2121.0L802.6,2121.0L802.6,2121.0L802.7,2121.0L802.7,2121.0L802.8,2120.9L802.8,2120.9L802.9,2120.9L802.9,2120.8L804.6,2118.7L806.7,2116.2L808.8,2113.7L811.0,2111.3L813.2,2108.9L815.5,2106.7L817.9,2104.7L820.3,2102.8L822.9,2101.1L825.5,2099.7L828.1,2098.5L830.9,2097.6L833.8,2096.9L836.7,2096.5L839.7,2096.3L842.8,2096.2L845.9,2096.3L849.0,2096.6L852.2,2096.9L855.4,2097.3L858.6,2097.9L861.8,2098.4L864.1,2098.8L864.2,2098.8L864.3,2098.8L864.3,2098.8L864.4,2098.8L864.4,2098.8L864.5,2098.7L864.5,2098.7L864.6,2098.7L864.6,2098.7L864.7,2098.6L864.7,2098.6L864.8,2098.5L864.8,2098.4L864.8,2098.4L866.4,2095.8L866.4,2095.8L867.8,2093.1L867.8,2093.1L869.3,2090.4L869.3,2090.4L870.6,2087.7L870.6,2087.7L872.0,2084.9L872.0,2084.9L873.3,2082.1L873.3,2082.1L874.5,2079.3L874.5,2079.3L875.7,2076.5L875.7,2076.5L876.8,2073.7L876.8,2073.6L878.0,2070.8L878.0,2070.8L879.0,2067.9L879.0,2067.9L880.1,2065.0L880.1,2065.0L881.0,2062.0L881.0,2062.0L882.0,2059.1L882.0,2059.1L882.9,2056.1L882.9,2056.1L883.8,2053.1L883.8,2053.1L884.1,2052.1L884.1,2052.1L884.1,2052.0L884.1,2052.0L884.1,2051.9L884.1,2051.8L884.1,2051.8L884.1,2051.7L884.0,2051.7L884.0,2051.6L884.0,2051.6L883.9,2051.5L883.9,2051.5L883.8,2051.5L883.8,2051.4L883.7,2051.4L883.7,2051.4L883.6,2051.4L883.6,2051.4L883.5,2051.4L883.4,2051.4L883.4,2051.4L883.3,2051.4L880.4,2052.4L880.4,2052.4L877.4,2053.4L877.4,2053.4L874.4,2054.4L874.4,2054.4L871.5,2055.5L868.5,2056.5L865.6,2057.5L862.6,2058.5L859.6,2059.5L856.7,2060.6L853.7,2061.6L850.8,2062.6L847.8,2063.6L844.9,2064.6L841.9,2065.6L839.0,2066.5L836.0,2067.5L833.0,2068.5L830.1,2069.4L827.1,2070.3L824.1,2071.2L821.1,2072.1L818.2,2073.0L815.2,2073.8L812.2,2074.6L809.2,2075.4L806.1,2076.2L803.1,2076.9L800.1,2077.7L797.1,2078.4L794.0,2079.0L791.0,2079.7L787.9,2080.3L784.8,2080.9L781.8,2081.4L778.7,2081.9L775.6,2082.4L772.5,2082.9L769.4,2083.3L766.3,2083.7L763.2,2084.1L760.1,2084.5L757.0,2084.8L753.9,2085.0L750.8,2085.3L747.7,2085.5L744.5,2085.7L741.4,2085.8L738.3,2085.9L735.2,2086.0L732.1,2086.0L728.9,2086.0L725.8,2086.0L722.7,2085.9L719.6,2085.8L716.5,2085.7L713.3,2085.5L711.7,2085.4L711.6,2085.4L711.6,2085.4L711.5,2085.4L711.5,2085.4L711.4,2085.4L711.4,2085.4L711.3,2085.5L711.3,2085.5L711.2,2085.5L711.2,2085.6L711.1,2085.6L711.1,2085.7L711.1,2085.7L711.1,2085.8L711.1,2085.9L711.0,2085.9L711.0,2086.0L711.0,2086.0L711.1,2086.1L711.1,2086.1L711.1,2086.2L711.1,2086.2L711.1,2086.3L711.2,2086.3Z" fill="#a9d27f"/>
<path d="M725.8,2087.2L725.8,2087.2L728.9,2087.2L728.9,2087.2L732.1,2087.2L732.1,2087.2L735.2,2087.2L735.2,2087.2L738.3,2087.1L738.3,2087.1L741.5,2087.0L741.5,2087.0L744.6,2086.9L744.6,2086.9L747.7,2086.7L747.7,2086.7L750.9,2086.5L750.9,2086.5L754.0,2086.2L754.0,2086.2L757.1,2086.0L757.1,2086.0L760.2,2085.7L760.2,2085.7L763.3,2085.3L763.4,2085.3L766.5,2084.9L766.5,2084.9L769.6,2084.5L769.6,2084.5L772.7,2084.1L772.7,2084.1L775.8,2083.6L775.8,2083.6L778.9,2083.1L778.9,2083.1L782.0,2082.6L782.0,2082.6L785.0,2082.0L785.0,2082.0L788.1,2081.5L788.1,2081.5L791.2,2080.8L791.2,2080.8L794.3,2080.2L794.3,2080.2L797.3,2079.5L797.3,2079.5L800.4,2078.8L800.4,2078.8L803.4,2078.1L803.4,2078.1L806.4,2077.4L806.4,2077.4L809.5,2076.6L809.5,2076.6L812.5,2075.8L812.5,2075.8L815.5,2075.0L815.5,2075.0L818.5,2074.1L818.5,2074.1L821.5,2073.2L821.5,2073.2L824.5,2072.4L824.5,2072.4L827.5,2071.5L827.5,2071.5L830.4,2070.5L830.4,2070.5L833.4,2069.6L833.4,2069.6L836.4,2068.7L836.4,2068.6L839.3,2067.7L839.3,2067.7L842.3,2066.7L842.3,2066.7L845.3,2065.7L845.3,2065.7L848.2,2064.7L848.2,2064.7L851.2,2063.7L851.2,2063.7L854.1,2062.7L854.1,2062.7L857.1,2061.7L857.1,2061.7L860.0,2060.7L863.0,2059.7L865.9,2058.6L868.9,2057.6L871.9,2056.6L874.8,2055.6L877.8,2054.5L880.8,2053.5L883.7,2052.5L883.8,2052.5L883.8,2052.5L883.9,2052.5L883.9,2052.4L884.0,2052.4L884.0,2052.3L884.0,2052.3L884.1,2052.2L884.1,2052.2L884.1,2052.1L884.7,2050.2L884.7,2050.2L885.5,2047.2L885.5,2047.2L886.3,2044.2L886.3,2044.2L887.0,2041.2L887.0,2041.2L887.8,2038.2L887.8,2038.1L888.5,2035.1L888.5,2035.1L889.2,2032.1L889.2,2032.1L889.8,2029.1L889.8,2029.1L890.5,2026.1L890.5,2026.1L891.1,2023.1L891.1,2023.1L891.6,2020.0L891.6,2020.0L892.2,2017.0L892.2,2017.0L892.7,2014.0L892.7,2014.0L893.2,2010.9L893.2,2010.9L893.7,2007.9L893.7,2007.9L894.2,2004.9L894.2,2004.9L894.7,2001.8L894.7,2001.8L895.1,1998.8L895.1,1998.8L895.5,1995.8L895.5,1995.8L895.9,1992.7L895.9,1992.7L896.2,1989.7L896.2,1989.7L896.6,1986.6L896.6,1986.6L896.9,1983.6L896.9,1983.6L897.2,1980.5L897.2,1980.5L897.5,1977.5L897.5,1977.5L897.8,1974.4L897.8,1974.4L898.1,1971.4L898.1,1971.4L898.3,1968.3L898.3,1968.3L898.6,1965.3L898.6,1965.3L898.8,1962.2L898.8,1962.2L899.0,1959.2L899.0,1959.2L899.2,1956.1L899.2,1956.1L899.3,1953.1L899.3,1953.1L899.5,1950.0L899.5,1950.0L899.6,1946.9L899.6,1946.9L899.8,1943.9L899.8,1943.9L899.9,1940.8L899.9,1940.8L900.0,1937.8L900.0,1937.8L900.1,1934.7L900.1,1934.7L900.2,1931.7L900.2,1931.6L900.3,1928.6L900.3,1928.6L900.3,1925.5L900.3,1925.5L900.4,1922.5L900.4,1922.5L900.4,1919.4L900.4,1919.4L900.5,1916.4L900.5,1916.4L900.5,1913.3L900.5,1913.3L900.5,1910.2L900.5,1910.2L900.6,1907.2L900.6,1907.2L900.6,1904.1L900.6,1904.1L900.6,1901.1L900.6,1901.1L900.6,1898.1L900.6,1898.0L900.6,1898.0L900.6,1897.9L900.6,1897.9L900.5,1897.8L900.5,1897.8L900.5,1897.7L900.4,1897.7L900.4,1897.6L899.6,1897.0L897.1,1894.6L894.7,1892.2L892.3,1889.7L890.0,1887.1L887.8,1884.4L885.7,1881.7L883.6,1879.0L881.6,1876.2L879.7,1873.3L877.9,1870.4L876.1,1867.4L874.5,1864.3L872.9,1861.3L871.5,1858.1L870.1,1855.0L868.8,1851.8L867.5,1848.5L866.2,1845.3L865.0,1842.0L863.8,1838.8L862.6,1835.5L862.6,1835.5L861.6,1832.5L861.5,1832.5L861.5,1832.4L861.5,1832.4L861.5,1832.3L861.4,1832.3L861.4,1832.3L861.3,1832.2L861.3,1832.2L861.2,1832.2L861.2,1832.2L861.1,1832.1L858.5,1831.7L855.3,1831.1L852.1,1830.5L848.9,1829.9L845.7,1829.3L842.5,1828.7L839.3,1828.1L836.1,1827.5L832.9,1826.9L829.7,1826.3L826.5,1825.6L823.3,1825.0L820.1,1824.3L817.0,1823.7L813.8,1823.0L810.6,1822.4L807.4,1821.7L804.2,1821.1L801.0,1820.4L797.8,1819.7L794.6,1819.0L791.4,1818.4L788.3,1817.7L785.1,1817.0L781.9,1816.3L778.7,1815.6L775.5,1814.9L772.3,1814.3L769.1,1813.6L766.0,1812.9L764.0,1812.4L763.9,1812.4L763.9,1812.4L763.8,1812.4L763.7,1812.4L763.7,1812.4L763.6,1812.5L763.6,1812.5L763.5,1812.5L763.5,1812.5L762.8,1813.1L762.8,1813.1L760.2,1815.0L760.2,1815.0L757.8,1816.9L757.7,1816.9L755.3,1818.9L755.3,1818.9L752.8,1820.9L752.8,1820.9L750.4,1822.9L750.4,1822.9L748.0,1824.9L748.0,1824.9L745.6,1827.0L745.6,1827.0L743.2,1829.0L743.2,1829.1L740.9,1831.1L740.9,1831.1L738.6,1833.3L738.6,1833.3L736.2,1835.4L736.2,1835.4L733.9,1837.5L733.9,1837.5L731.6,1839.7L731.6,1839.7L729.4,1841.9L729.4,1841.9L727.1,1844.1L727.1,1844.1L724.9,1846.3L724.9,1846.3L722.6,1848.5L722.6,1848.5L720.4,1850.7L720.4,1850.7L718.2,1852.9L718.2,1852.9L715.9,1855.2L715.9,1855.2L713.7,1857.4L713.7,1857.4L711.5,1859.7L711.5,1859.7L709.3,1861.9L709.3,1861.9L707.1,1864.2L707.1,1864.2L704.9,1866.5L702.7,1868.7L700.5,1871.0L698.4,1873.2L696.2,1875.5L694.0,1877.8L691.8,1880.0L689.6,1882.3L687.4,1884.6L687.4,1884.6L685.2,1886.8L685.2,1886.8L683.1,1889.1L683.1,1889.1L680.9,1891.4L680.9,1891.4L678.7,1893.7L678.7,1893.7L676.5,1896.0L676.5,1896.0L674.4,1898.2L674.4,1898.2L672.2,1900.5L672.2,1900.5L670.1,1902.8L670.1,1902.8L667.9,1905.1L667.9,1905.1L665.8,1907.5L665.8,1907.5L663.7,1909.8L663.7,1909.8L661.6,1912.1L661.6,1912.1L659.4,1914.4L659.4,1914.4L657.3,1916.8L657.3,1916.8L655.2,1919.1L655.2,1919.1L653.2,1921.5L653.2,1921.5L651.1,1923.8L651.1,1923.9L649.0,1926.2L649.0,1926.2L647.0,1928.6L647.0,1928.6L644.9,1931.0L644.9,1931.0L642.9,1933.4L642.9,1933.4L640.9,1935.8L640.9,1935.8L638.9,1938.3L638.9,1938.3L636.9,1940.7L636.9,1940.7L636.8,1940.8L636.8,1940.8L636.8,1940.9L636.8,1941.0L636.8,1941.0L636.8,1941.1L636.8,1941.1L636.8,1941.2L636.8,1941.2L637.4,1943.5L637.4,1943.5L638.3,1946.4L638.3,1946.4L639.2,1949.4L639.2,1949.4L640.1,1952.4L640.1,1952.4L641.0,1955.3L641.0,1955.3L642.0,1958.3L642.0,1958.3L642.9,1961.2L642.9,1961.2L643.9,1964.2L643.9,1964.2L645.0,1967.1L645.0,1967.1L646.0,1970.0L646.0,1970.0L647.0,1972.9L647.0,1972.9L648.1,1975.8L648.1,1975.9L649.2,1978.8L649.2,1978.8L650.3,1981.7L650.3,1981.7L651.5,1984.6L651.5,1984.6L652.6,1987.4L652.6,1987.5L653.8,1990.3L653.8,1990.3L655.0,1993.2L655.0,1993.2L656.2,1996.1L656.2,1996.1L657.4,1999.0L657.4,1999.0L658.7,2001.8L658.7,2001.8L660.0,2004.7L660.0,2004.7L661.3,2007.5L661.3,2007.5L662.6,2010.4L662.6,2010.4L663.9,2013.2L663.9,2013.2L665.2,2016.0L665.2,2016.0L666.6,2018.8L666.6,2018.8L668.0,2021.6L668.0,2021.6L669.4,2024.4L669.4,2024.4L670.9,2027.2L670.9,2027.2L672.4,2029.9L672.4,2029.9L673.8,2032.7L673.9,2032.7L675.4,2035.4L675.4,2035.4L676.9,2038.1L676.9,2038.1L678.5,2040.7L678.5,2040.7L680.1,2043.4L680.1,2043.4L681.7,2046.0L681.7,2046.0L683.4,2048.6L683.4,2048.6L685.1,2051.1L685.1,2051.1L686.8,2053.7L686.8,2053.7L688.5,2056.2L688.5,2056.2L690.3,2058.7L690.3,2058.7L692.0,2061.2L692.0,2061.2L693.8,2063.7L693.8,2063.7L695.6,2066.1L695.6,2066.1L697.5,2068.6L697.5,2068.6L699.3,2071.0L699.3,2071.1L701.2,2073.5L701.2,2073.5L703.0,2075.9L703.0,2075.9L704.9,2078.4L704.9,2078.4L706.8,2080.8L706.8,2080.8L708.7,2083.2L708.7,2083.2L710.6,2085.7L711.2,2086.3L711.2,2086.4L711.3,2086.4L711.3,2086.5L711.4,2086.5L711.4,2086.5L711.5,2086.5L711.5,2086.6L711.6,2086.6L713.3,2086.7L713.3,2086.7L716.4,2086.9L716.4,2086.9L719.5,2087.0L719.5,2087.0L722.7,2087.1L722.7,2087.1Z" fill="#a9d27f"/>
<path d="M686.6,1735.2L683.4,1735.4L680.3,1735.6L677.2,1735.8L674.1,1736.1L671.0,1736.4L667.9,1736.9L664.9,1737.4L661.8,1738.0L658.8,1738.7L655.7,1739.5L652.7,1740.4L649.7,1741.3L646.8,1742.3L643.8,1743.4L640.9,1744.5L638.0,1745.7L635.2,1746.9L632.3,1748.3L629.5,1749.6L626.7,1751.1L624.0,1752.6L621.3,1754.1L618.6,1755.7L615.9,1757.4L613.3,1759.1L610.8,1760.8L608.2,1762.7L605.7,1764.5L603.2,1766.4L600.8,1768.4L598.4,1770.4L596.1,1772.4L593.8,1774.5L591.5,1776.6L589.2,1778.8L587.0,1781.0L584.9,1783.3L582.7,1785.6L580.7,1787.9L578.6,1790.2L576.6,1792.6L574.6,1795.1L572.7,1797.5L570.8,1800.0L569.0,1802.6L567.2,1805.1L565.4,1807.7L563.7,1810.3L562.1,1813.0L560.4,1815.6L558.8,1818.3L557.3,1821.1L555.8,1823.8L554.4,1826.6L553.0,1829.4L551.6,1832.2L550.3,1835.0L549.0,1837.9L547.8,1840.8L546.6,1843.7L545.5,1846.6L544.4,1849.5L543.4,1852.5L542.4,1855.4L541.5,1858.4L540.6,1861.4L539.8,1864.4L539.0,1867.4L538.3,1870.5L537.6,1873.5L536.9,1876.6L536.4,1879.6L535.8,1882.7L535.4,1885.8L534.9,1888.9L534.6,1892.0L534.3,1895.1L534.0,1898.2L533.8,1901.3L533.6,1904.4L533.5,1907.5L533.5,1910.7L533.5,1913.8L533.5,1916.9L533.7,1920.0L533.8,1923.2L534.1,1926.3L534.4,1929.4L534.7,1932.5L535.1,1935.6L535.6,1938.7L536.1,1941.8L536.7,1944.9L537.4,1947.9L538.1,1951.0L538.9,1954.0L539.7,1957.0L540.7,1960.0L541.7,1962.9L542.7,1965.8L543.9,1968.7L545.1,1971.6L546.3,1974.5L547.6,1977.3L549.0,1980.1L550.3,1983.0L551.7,1985.8L553.2,1988.6L554.6,1991.4L556.2,1994.1L557.7,1996.9L559.3,1999.7L560.9,2002.4L562.5,2005.1L564.2,2007.7L566.0,2010.3L567.8,2012.9L569.6,2015.5L571.5,2018.0L573.4,2020.4L575.4,2022.8L577.4,2025.2L579.5,2027.5L581.6,2029.8L583.7,2032.0L585.9,2034.2L588.2,2036.3L590.5,2038.4L592.8,2040.4L595.1,2042.4L597.5,2044.4L600.0,2046.3L602.4,2048.1L604.9,2049.9L607.5,2051.7L610.1,2053.4L612.7,2055.1L615.3,2056.7L618.0,2058.3L620.7,2059.8L623.4,2061.3L626.1,2062.8L628.9,2064.2L631.7,2065.5L634.5,2066.9L637.4,2068.1L640.2,2069.4L643.1,2070.6L646.1,2071.7L649.0,2072.8L651.9,2073.8L654.9,2074.9L657.9,2075.8L660.9,2076.8L663.9,2077.6L666.9,2078.5L670.0,2079.3L673.0,2080.0L676.1,2080.7L679.1,2081.4L682.2,2082.1L685.3,2082.6L688.4,2083.2L691.5,2083.7L694.6,2084.2L697.7,2084.6L700.8,2085.0L703.9,2085.3L707.1,2085.6L710.2,2085.9L713.3,2086.1L716.4,2086.3L719.6,2086.4L722.7,2086.5L725.8,2086.6L728.9,2086.6L732.1,2086.6L735.2,2086.6L738.3,2086.5L741.4,2086.4L744.6,2086.3L747.7,2086.1L750.8,2085.9L753.9,2085.6L757.1,2085.4L760.2,2085.1L763.3,2084.7L766.4,2084.3L769.5,2083.9L772.6,2083.5L775.7,2083.0L778.8,2082.5L781.9,2082.0L784.9,2081.4L788.0,2080.9L791.1,2080.3L794.1,2079.6L797.2,2078.9L800.2,2078.2L803.3,2077.5L806.3,2076.8L809.3,2076.0L812.3,2075.2L815.3,2074.4L818.3,2073.5L821.3,2072.7L824.3,2071.8L827.3,2070.9L830.3,2070.0L833.2,2069.0L836.2,2068.1L839.2,2067.1L842.1,2066.1L845.1,2065.2L848.0,2064.2L851.0,2063.2L853.9,2062.1L856.9,2061.1L859.8,2060.1L862.8,2059.1L865.8,2058.1L868.7,2057.0L871.7,2056.0L874.6,2055.0L877.6,2054.0L880.6,2053.0L883.5,2052.0L886.5,2050.9L889.5,2049.9L892.4,2048.9L895.4,2047.8L898.3,2046.7L901.2,2045.5L904.0,2044.3L906.8,2043.0L909.6,2041.6L912.4,2040.2L915.2,2038.8L917.9,2037.3L920.6,2035.8L923.2,2034.2L925.9,2032.6L928.5,2030.9L931.1,2029.2L933.7,2027.5L936.3,2025.7L938.8,2023.9L941.4,2022.1L943.9,2020.3L946.4,2018.4L948.9,2016.5L951.4,2014.6L953.9,2012.7L956.4,2010.7L958.9,2008.8L961.4,2006.8L963.9,2004.8L966.4,2002.9L968.8,2000.9L971.3,1998.8L973.7,1996.8L976.1,1994.7L978.4,1992.6L980.7,1990.5L983.0,1988.3L985.2,1986.1L987.4,1983.9L989.5,1981.6L991.5,1979.2L993.5,1976.8L995.4,1974.4L997.2,1971.8L998.9,1969.3L1000.6,1966.6L1002.1,1963.9L1003.6,1961.1L1004.9,1958.2L1006.1,1955.3L1007.2,1952.3L1008.0,1949.2L1008.4,1946.2L1008.5,1943.2L1008.0,1940.2L1007.1,1937.2L1005.8,1934.4L1004.1,1931.6L1002.3,1929.0L1000.2,1926.5L998.1,1924.1L996.0,1922.0L993.7,1919.9L991.4,1917.9L989.0,1916.0L986.5,1914.2L983.9,1912.4L981.3,1910.7L978.6,1909.0L975.9,1907.3L973.1,1905.6L970.4,1903.9L967.6,1902.2L964.9,1900.6L962.1,1898.8L959.4,1897.1L956.8,1895.3L954.2,1893.5L951.7,1891.6L949.3,1889.6L947.0,1887.6L944.8,1885.5L942.7,1883.3L940.7,1881.0L938.9,1878.6L937.2,1876.1L935.7,1873.5L934.3,1870.8L933.1,1868.0L932.0,1865.1L931.0,1862.2L930.2,1859.2L929.5,1856.1L928.9,1853.0L928.4,1849.9L928.1,1846.7L927.9,1843.5L927.7,1840.2L927.6,1837.0L927.5,1833.8L927.3,1830.6L927.1,1827.4L926.6,1824.4L926.0,1821.4L925.0,1818.5L923.8,1815.7L922.2,1813.1L920.3,1810.6L918.0,1808.4L915.4,1806.4L912.7,1804.9L909.8,1803.7L906.8,1802.8L903.7,1802.2L900.5,1801.8L897.4,1801.6L894.3,1801.5L891.1,1801.6L888.0,1801.7L885.0,1802.0L881.9,1802.3L878.8,1802.8L875.7,1803.3L872.6,1803.8L869.4,1804.4L866.3,1804.9L863.2,1805.5L860.1,1806.0L856.9,1806.5L853.8,1807.0L850.7,1807.4L847.6,1807.6L844.5,1807.8L841.4,1807.8L838.3,1807.7L835.2,1807.4L832.2,1806.9L829.2,1806.2L826.2,1805.4L823.3,1804.3L820.4,1803.1L817.6,1801.7L814.9,1800.2L812.3,1798.5L809.7,1796.6L807.3,1794.6L805.0,1792.5L802.8,1790.2L800.8,1787.8L798.9,1785.3L797.0,1782.7L795.3,1780.0L793.5,1777.4L791.8,1774.7L790.0,1772.1L788.2,1769.5L786.3,1767.0L784.3,1764.5L782.2,1762.2L780.1,1760.0L777.8,1757.9L775.4,1755.9L773.0,1753.9L770.5,1752.1L768.0,1750.3L765.3,1748.7L762.6,1747.1L759.9,1745.7L757.1,1744.3L754.2,1743.1L751.4,1741.9L748.4,1740.8L745.5,1739.8L742.5,1739.0L739.5,1738.2L736.5,1737.5L733.4,1736.9L730.4,1736.3L727.3,1735.9L724.2,1735.5L721.1,1735.2L718.0,1735.0L714.9,1734.8L711.7,1734.7L708.6,1734.6L705.4,1734.6L702.3,1734.6L699.1,1734.7L696.0,1734.8L692.9,1734.9L689.7,1735.0Z" fill="none" stroke="#fff" stroke-width="2" stroke-linejoin="round"/>
<path d="M687.3,1734.9L689.8,1733.0L692.3,1731.2L694.9,1729.5L697.5,1727.8L700.1,1726.2L702.7,1724.6L705.4,1723.1L708.2,1721.6L710.9,1720.2L713.7,1718.8L716.5,1717.5L719.4,1716.2L722.2,1715.0L725.1,1713.9L728.0,1712.8L730.9,1711.7L733.9,1710.8L736.8,1709.8L739.8,1708.9L742.8,1708.1L745.8,1707.3L748.8,1706.6L751.9,1705.9L754.9,1705.3L758.0,1704.8L761.0,1704.2L764.1,1703.8L767.2,1703.4L770.2,1703.0L773.3,1702.7L776.4,1702.5L779.5,1702.3L782.6,1702.1L785.7,1702.0L788.8,1702.0L791.9,1702.0L795.0,1702.1L798.1,1702.2L801.2,1702.3L804.3,1702.5L807.4,1702.8L810.5,1703.1L813.5,1703.5L816.6,1703.9L819.7,1704.4L822.7,1704.9L825.8,1705.5L828.8,1706.1L831.8,1706.8L834.9,1707.6L837.9,1708.3L840.9,1709.2L843.8,1710.1L846.8,1711.0L849.7,1712.0L852.7,1713.0L855.6,1714.1L858.4,1715.2L861.3,1716.4L864.2,1717.7L867.0,1718.9L869.8,1720.3L872.6,1721.7L875.3,1723.1L878.0,1724.6L880.7,1726.1L883.4,1727.7L886.0,1729.3L888.7,1731.0L891.2,1732.7L893.8,1734.5L896.3,1736.3L898.8,1738.2L901.2,1740.1L903.6,1742.0L906.0,1744.0L908.3,1746.1L910.6,1748.2L912.9,1750.3L915.1,1752.5L917.2,1754.7L919.3,1757.0L921.4,1759.3L923.4,1761.7L925.4,1764.1L927.3,1766.5L929.2,1769.0L931.0,1771.5L932.7,1774.0L934.4,1776.6L936.1,1779.3L937.7,1781.9L939.2,1784.7L940.7,1787.4L942.1,1790.2L943.5,1792.9L944.8,1795.8L946.0,1798.6L947.2,1801.5L948.3,1804.3L949.4,1807.2L950.4,1810.1L951.4,1813.1L952.4,1816.0L953.2,1819.0L954.1,1822.0L954.9,1825.0L955.6,1828.0L956.3,1831.0L957.0,1834.0L957.6,1837.1L958.3,1840.2L958.8,1843.2L959.4,1846.3L959.8,1849.4L960.3,1852.5L960.6,1855.6L960.9,1858.7L961.1,1861.8L961.3,1864.9L961.3,1868.0L961.3,1871.1L961.1,1874.1L960.8,1877.2L960.4,1880.2L959.9,1883.2L959.2,1886.1L958.4,1889.1L957.5,1892.0L956.3,1894.8L955.1,1897.7L953.7,1900.5L952.2,1903.2L950.6,1906.0L948.9,1908.7L947.2,1911.4L945.5,1914.2L943.8,1916.9L942.2,1919.6L940.6,1922.4L939.1,1925.1L937.7,1927.9L936.5,1930.7L935.4,1933.5L934.5,1936.4L933.8,1939.3L933.3,1942.3L933.1,1945.3L933.0,1948.3L933.2,1951.4L933.6,1954.4L934.2,1957.5L935.0,1960.6L935.9,1963.6L937.0,1966.6L938.2,1969.5L939.5,1972.4L941.0,1975.2L942.5,1977.9L944.2,1980.6L945.9,1983.2L947.6,1985.8L949.4,1988.3L951.1,1990.9L952.8,1993.4L954.5,1996.0L956.1,1998.6L957.6,2001.3L959.0,2004.1L960.2,2006.9L961.3,2009.8L962.2,2012.9L962.9,2016.0L963.5,2019.1L963.8,2022.3L964.0,2025.5L963.9,2028.7L963.6,2031.8L963.1,2034.8L962.3,2037.8L961.2,2040.7L960.0,2043.4L958.4,2046.1L956.6,2048.5L954.6,2050.8L952.4,2052.9L950.0,2054.8L947.4,2056.6L944.7,2058.1L941.8,2059.4L938.9,2060.6L935.9,2061.7L932.8,2062.7L929.7,2063.6L926.6,2064.4L923.5,2065.3L920.4,2066.1L917.3,2067.0L914.4,2068.0L911.5,2069.0L908.7,2070.2L906.1,2071.5L903.6,2073.0L901.3,2074.7L899.1,2076.6L897.2,2078.8L895.5,2081.1L893.9,2083.7L892.5,2086.4L891.1,2089.3L890.0,2092.2L888.9,2095.3L887.9,2098.4L886.9,2101.5L886.0,2104.7L885.2,2107.9L884.4,2111.0L883.6,2114.1L882.7,2117.2L881.9,2120.2L881.0,2123.1L880.1,2126.1L879.1,2128.9L878.1,2131.8L876.9,2134.6L875.7,2137.3L874.4,2140.0L873.0,2142.7L871.4,2145.3L869.7,2147.9L867.9,2150.3L865.9,2152.6L863.7,2154.8L861.3,2156.7L858.8,2158.5L856.2,2160.2L853.5,2161.8L850.7,2163.3L847.9,2164.8L845.0,2166.1L842.1,2167.4L839.1,2168.4L836.1,2169.4L833.1,2170.1L830.0,2170.7L826.9,2171.1L823.9,2171.2L820.8,2171.2L817.7,2170.8L814.6,2170.3L811.5,2169.7L808.5,2168.9L805.5,2167.9L802.5,2167.0L799.6,2165.9L796.8,2164.7L794.0,2163.5L791.2,2162.2L788.5,2160.8L785.8,2159.4L783.1,2157.9L780.5,2156.3L777.9,2154.7L775.4,2153.0L772.9,2151.2L770.4,2149.4L768.0,2147.5L765.6,2145.6L763.2,2143.6L760.9,2141.6L758.6,2139.6L756.3,2137.5L754.0,2135.3L751.8,2133.2L749.6,2130.9L747.4,2128.7L745.3,2126.4L743.1,2124.1L741.0,2121.8L738.9,2119.4L736.8,2117.1L734.8,2114.7L732.7,2112.3L730.7,2109.8L728.7,2107.4L726.7,2105.0L724.7,2102.5L722.8,2100.0L720.8,2097.6L718.8,2095.1L716.9,2092.7L715.0,2090.2L713.0,2087.7L711.1,2085.3L709.2,2082.9L707.3,2080.4L705.4,2078.0L703.5,2075.6L701.6,2073.1L699.8,2070.7L697.9,2068.2L696.1,2065.8L694.3,2063.3L692.5,2060.9L690.7,2058.4L689.0,2055.9L687.3,2053.3L685.6,2050.8L683.9,2048.2L682.2,2045.7L680.6,2043.1L679.0,2040.4L677.4,2037.8L675.9,2035.1L674.4,2032.4L672.9,2029.7L671.4,2026.9L670.0,2024.1L668.6,2021.4L667.2,2018.6L665.8,2015.8L664.4,2012.9L663.1,2010.1L661.8,2007.3L660.5,2004.4L659.2,2001.6L658.0,1998.7L656.8,1995.9L655.5,1993.0L654.4,1990.1L653.2,1987.2L652.0,1984.3L650.9,1981.4L649.8,1978.5L648.7,1975.6L647.6,1972.7L646.6,1969.8L645.5,1966.9L644.5,1964.0L643.5,1961.0L642.5,1958.1L641.6,1955.1L640.7,1952.2L639.8,1949.2L638.9,1946.3L638.0,1943.3L637.2,1940.3L636.3,1937.3L635.5,1934.4L634.7,1931.4L634.0,1928.4L633.2,1925.4L632.5,1922.3L631.8,1919.3L631.2,1916.3L630.5,1913.3L629.9,1910.2L629.3,1907.2L628.7,1904.1L628.2,1901.1L627.6,1898.0L627.1,1895.0L626.6,1891.9L626.2,1888.8L625.7,1885.7L625.3,1882.6L624.9,1879.5L624.6,1876.4L624.3,1873.3L624.1,1870.2L623.9,1867.2L623.8,1864.1L623.7,1861.0L623.7,1857.9L623.8,1854.8L623.9,1851.7L624.2,1848.7L624.5,1845.6L624.9,1842.6L625.4,1839.5L626.0,1836.5L626.6,1833.5L627.3,1830.4L628.0,1827.4L628.7,1824.4L629.6,1821.4L630.5,1818.5L631.4,1815.5L632.4,1812.6L633.5,1809.6L634.6,1806.8L635.8,1803.9L637.1,1801.1L638.4,1798.3L639.8,1795.6L641.3,1792.9L642.9,1790.2L644.5,1787.6L646.1,1785.1L647.8,1782.5L649.5,1779.9L651.1,1777.3L652.8,1774.6L654.5,1772.0L656.2,1769.4L657.9,1766.8L659.7,1764.2L661.5,1761.7L663.4,1759.2L665.2,1756.7L667.2,1754.2L669.2,1751.8L671.2,1749.5L673.3,1747.2L675.5,1745.0L677.8,1742.9L680.1,1740.8L682.4,1738.8L684.8,1736.8Z" fill="none" stroke="#fff" stroke-width="2" stroke-linejoin="round"/>
<path d="M941.2,1789.0L944.2,1790.0L947.2,1791.1L950.1,1792.3L953.0,1793.5L955.9,1794.7L958.8,1796.0L961.6,1797.4L964.4,1798.7L967.3,1800.2L970.0,1801.7L972.8,1803.2L975.5,1804.8L978.2,1806.4L980.9,1808.1L983.5,1809.8L986.1,1811.6L988.7,1813.4L991.2,1815.3L993.7,1817.2L996.1,1819.1L998.5,1821.2L1000.9,1823.2L1003.2,1825.3L1005.5,1827.5L1007.8,1829.7L1010.0,1832.0L1012.1,1834.3L1014.2,1836.6L1016.3,1839.0L1018.3,1841.4L1020.3,1843.9L1022.2,1846.4L1024.0,1848.9L1025.8,1851.5L1027.6,1854.1L1029.3,1856.8L1030.9,1859.5L1032.5,1862.2L1034.0,1865.0L1035.5,1867.8L1036.9,1870.6L1038.2,1873.4L1039.5,1876.3L1040.7,1879.2L1041.9,1882.1L1042.9,1885.1L1044.0,1888.1L1044.9,1891.1L1045.8,1894.1L1046.7,1897.1L1047.4,1900.2L1048.1,1903.2L1048.8,1906.3L1049.3,1909.4L1049.8,1912.5L1050.3,1915.7L1050.6,1918.8L1050.9,1921.9L1051.2,1925.0L1051.3,1928.2L1051.4,1931.3L1051.5,1934.5L1051.5,1937.6L1051.4,1940.8L1051.2,1943.9L1050.9,1947.1L1050.6,1950.2L1050.3,1953.3L1049.8,1956.4L1049.4,1959.5L1048.8,1962.6L1048.2,1965.7L1047.5,1968.8L1046.7,1971.9L1045.9,1974.9L1045.1,1977.9L1044.2,1981.0L1043.2,1983.9L1042.1,1986.9L1041.0,1989.9L1039.9,1992.8L1038.7,1995.7L1037.4,1998.6L1036.1,2001.5L1034.7,2004.3L1033.3,2007.1L1031.8,2009.8L1030.2,2012.6L1028.6,2015.3L1027.0,2017.9L1025.2,2020.6L1023.4,2023.2L1021.6,2025.7L1019.8,2028.3L1017.9,2030.8L1016.0,2033.3L1014.1,2035.8L1012.1,2038.3L1010.2,2040.8L1008.2,2043.3L1006.3,2045.8L1004.4,2048.3L1002.5,2050.9L1000.6,2053.4L998.7,2055.9L996.7,2058.3L994.7,2060.7L992.6,2063.0L990.4,2065.2L988.0,2067.2L985.6,2069.2L983.1,2071.0L980.5,2072.9L978.0,2074.7L975.4,2076.4L972.8,2078.2L970.2,2079.9L967.6,2081.6L964.9,2083.3L962.3,2084.9L959.5,2086.5L956.8,2088.1L954.0,2089.7L951.2,2091.2L948.3,2092.7L945.4,2094.1L942.4,2095.4L939.4,2096.7L936.4,2097.9L933.4,2099.0L930.4,2099.9L927.4,2100.8L924.3,2101.5L921.3,2102.0L918.3,2102.5L915.2,2102.8L912.1,2103.0L909.1,2103.2L906.0,2103.2L902.9,2103.2L899.8,2103.1L896.7,2102.9L893.6,2102.6L890.5,2102.3L887.4,2101.9L884.2,2101.5L881.1,2101.0L877.9,2100.5L874.8,2100.0L871.6,2099.5L868.4,2098.9L865.2,2098.4L861.9,2097.8L858.7,2097.3L855.5,2096.8L852.3,2096.3L849.1,2096.0L845.9,2095.7L842.8,2095.6L839.7,2095.7L836.6,2095.9L833.7,2096.3L830.8,2097.0L827.9,2097.9L825.2,2099.1L822.6,2100.6L820.0,2102.3L817.5,2104.2L815.1,2106.3L812.8,2108.5L810.5,2110.9L808.3,2113.3L806.2,2115.8L804.1,2118.3L802.1,2120.9L800.1,2123.4L798.2,2125.8L796.2,2128.2L794.2,2130.6L792.2,2132.8L790.0,2135.0L787.8,2137.0L785.4,2138.9L782.9,2140.7L780.2,2142.4L777.5,2144.0L774.6,2145.4L771.7,2146.8L768.6,2148.1L765.5,2149.4L762.4,2150.5L759.2,2151.4L756.1,2152.1L753.0,2152.5L749.9,2152.6L746.9,2152.4L743.9,2152.0L741.0,2151.3L738.1,2150.3L735.3,2149.1L732.6,2147.8L729.9,2146.2L727.3,2144.5L724.7,2142.6L722.3,2140.6L719.9,2138.4L717.5,2136.2L715.3,2133.9L713.0,2131.6L710.8,2129.3L708.6,2126.9L706.4,2124.6L704.2,2122.3L701.9,2120.1L699.7,2117.9L697.3,2115.9L694.9,2114.0L692.4,2112.3L689.8,2110.8L687.1,2109.4L684.3,2108.2L681.5,2107.1L678.6,2106.1L675.6,2105.2L672.6,2104.5L669.5,2103.8L666.4,2103.2L663.2,2102.7L660.0,2102.3L656.8,2101.9L653.5,2101.5L650.2,2101.2L647.0,2100.9L643.7,2100.5L640.4,2100.2L637.1,2099.8L633.9,2099.4L630.7,2099.0L627.5,2098.5L624.3,2098.0L621.2,2097.4L618.1,2096.6L615.1,2095.8L612.1,2094.9L609.2,2093.9L606.4,2092.7L603.7,2091.4L601.1,2089.9L598.5,2088.3L596.1,2086.5L593.7,2084.5L591.5,2082.3L589.4,2080.0L587.5,2077.5L585.7,2074.9L584.1,2072.1L582.6,2069.2L581.4,2066.3L580.3,2063.3L579.5,2060.2L578.8,2057.1L578.5,2053.9L578.3,2050.7L578.4,2047.6L578.8,2044.4L579.3,2041.2L580.0,2038.1L580.8,2035.0L581.8,2032.0L582.8,2029.0L583.9,2026.0L585.1,2023.1L586.3,2020.2L587.6,2017.4L589.0,2014.5L590.4,2011.7L591.8,2009.0L593.3,2006.2L594.8,2003.4L596.3,2000.7L597.9,1998.0L599.5,1995.3L601.1,1992.6L602.7,1989.9L604.3,1987.2L606.0,1984.5L607.7,1981.9L609.4,1979.2L611.2,1976.6L612.9,1974.0L614.7,1971.4L616.5,1968.8L618.3,1966.2L620.1,1963.6L622.0,1961.1L623.8,1958.5L625.7,1956.0L627.6,1953.5L629.5,1951.0L631.5,1948.5L633.4,1946.0L635.4,1943.6L637.4,1941.1L639.3,1938.7L641.3,1936.2L643.4,1933.8L645.4,1931.4L647.4,1929.0L649.5,1926.6L651.5,1924.2L653.6,1921.9L655.7,1919.5L657.8,1917.2L659.9,1914.8L662.0,1912.5L664.1,1910.2L666.2,1907.9L668.4,1905.6L670.5,1903.2L672.7,1900.9L674.8,1898.7L677.0,1896.4L679.1,1894.1L681.3,1891.8L683.5,1889.5L685.7,1887.3L687.8,1885.0L690.0,1882.7L692.2,1880.5L694.4,1878.2L696.6,1875.9L698.8,1873.7L701.0,1871.4L703.2,1869.1L705.4,1866.9L707.6,1864.6L709.8,1862.4L712.0,1860.1L714.2,1857.9L716.4,1855.6L718.6,1853.4L720.8,1851.1L723.0,1848.9L725.3,1846.7L727.5,1844.5L729.8,1842.3L732.1,1840.1L734.3,1838.0L736.6,1835.8L739.0,1833.7L741.3,1831.6L743.6,1829.5L746.0,1827.4L748.4,1825.4L750.8,1823.3L753.2,1821.3L755.7,1819.4L758.1,1817.4L760.6,1815.5L763.1,1813.6L765.7,1811.7L768.2,1809.8L770.8,1808.0L773.4,1806.2L776.1,1804.5L778.7,1802.8L781.4,1801.1L784.1,1799.5L786.9,1797.9L789.6,1796.3L792.4,1794.8L795.2,1793.3L798.0,1791.9L800.9,1790.5L803.7,1789.2L806.6,1788.0L809.5,1786.7L812.4,1785.6L815.3,1784.5L818.3,1783.4L821.3,1782.4L824.3,1781.5L827.3,1780.6L830.3,1779.8L833.4,1779.1L836.4,1778.4L839.5,1777.8L842.6,1777.3L845.7,1776.8L848.8,1776.4L851.9,1776.1L855.1,1775.8L858.2,1775.6L861.4,1775.4L864.5,1775.3L867.7,1775.3L870.8,1775.3L874.0,1775.4L877.2,1775.5L880.3,1775.6L883.5,1775.8L886.7,1776.0L889.8,1776.3L893.0,1776.6L896.1,1777.0L899.2,1777.4L902.3,1777.8L905.4,1778.3L908.5,1778.8L911.6,1779.4L914.6,1780.1L917.6,1780.9L920.6,1781.8L923.5,1782.9L926.4,1783.9L929.3,1785.0L932.3,1786.0L935.3,1787.0L938.3,1788.0Z" fill="none" stroke="#fff" stroke-width="2" stroke-linejoin="round"/>
<path d="M1029.0,2015.0L1030.3,2018.2L1031.5,2021.5L1032.6,2024.8L1033.6,2028.1L1034.5,2031.5L1035.2,2034.8L1035.9,2038.3L1036.5,2041.7L1036.9,2045.2L1037.3,2048.6L1037.5,2052.1L1037.6,2055.6L1037.6,2059.0L1037.5,2062.5L1037.2,2065.9L1036.9,2069.4L1036.3,2072.8L1035.7,2076.2L1034.9,2079.6L1034.0,2082.9L1032.9,2086.2L1031.7,2089.5L1030.4,2092.7L1028.9,2095.9L1027.3,2098.9L1025.5,2102.0L1023.7,2104.9L1021.7,2107.7L1019.6,2110.5L1017.4,2113.2L1015.0,2115.8L1012.6,2118.3L1010.1,2120.7L1007.5,2123.0L1004.8,2125.2L1002.1,2127.3L999.3,2129.3L996.4,2131.2L993.4,2133.0L990.4,2134.7L987.3,2136.3L984.2,2137.8L981.0,2139.2L977.8,2140.5L974.6,2141.8L971.3,2142.9L968.0,2143.9L964.6,2144.9L961.2,2145.7L957.8,2146.5L954.4,2147.2L951.0,2147.8L947.5,2148.3L944.1,2148.8L940.7,2149.1L937.2,2149.4L933.7,2149.6L930.3,2149.7L926.8,2149.8L923.4,2149.8L919.9,2149.7L916.4,2149.6L913.0,2149.4L909.5,2149.2L906.1,2148.9L902.7,2148.5L899.2,2148.1L895.8,2147.6L892.4,2147.1L888.9,2146.6L885.5,2146.0L882.1,2145.3L878.7,2144.6L875.3,2143.9L871.9,2143.1L868.5,2142.3L865.1,2141.4L861.8,2140.6L858.4,2139.6L855.0,2138.7L851.7,2137.7L848.3,2136.7L845.0,2135.7L841.7,2134.6L838.3,2133.5L835.0,2132.4L831.7,2131.3L828.4,2130.1L825.1,2128.9L821.8,2127.7L818.5,2126.5L815.2,2125.3L812.0,2124.1L808.7,2122.9L805.5,2121.6L802.2,2120.4L799.0,2119.1L795.8,2117.9L792.5,2116.7L789.3,2115.6L786.0,2114.7L782.7,2113.9L779.4,2113.2L776.0,2112.8L772.6,2112.5L769.2,2112.5L765.8,2112.6L762.3,2112.9L758.9,2113.5L755.5,2114.2L752.1,2115.1L748.8,2116.1L745.4,2117.3L742.1,2118.5L738.9,2119.9L735.7,2121.3L732.5,2122.8L729.4,2124.3L726.3,2125.8L723.2,2127.4L720.1,2128.9L717.0,2130.5L713.9,2132.0L710.8,2133.5L707.7,2135.0L704.5,2136.4L701.3,2137.8L698.1,2139.1L694.8,2140.3L691.5,2141.5L688.1,2142.6L684.7,2143.6L681.2,2144.4L677.8,2145.1L674.3,2145.7L670.8,2146.0L667.4,2146.2L664.0,2146.1L660.6,2145.8L657.2,2145.3L654.0,2144.4L650.7,2143.3L647.6,2141.9L644.6,2140.3L641.7,2138.4L638.9,2136.3L636.2,2134.0L633.7,2131.6L631.4,2128.9L629.2,2126.1L627.3,2123.2L625.6,2120.1L624.0,2116.9L622.8,2113.6L621.7,2110.3L621.0,2106.9L620.4,2103.5L620.0,2100.0L619.8,2096.6L619.8,2093.1L620.0,2089.6L620.3,2086.2L620.7,2082.7L621.3,2079.3L621.9,2075.9L622.7,2072.5L623.5,2069.1L624.4,2065.7L625.4,2062.3L626.4,2058.9L627.4,2055.5L628.4,2052.1L629.5,2048.8L630.5,2045.4L631.5,2042.1L632.4,2038.7L633.2,2035.3L634.0,2031.9L634.6,2028.4L635.0,2025.0L635.3,2021.5L635.5,2018.0L635.5,2014.6L635.3,2011.2L634.9,2007.8L634.4,2004.5L633.6,2001.2L632.6,1998.0L631.4,1994.9L630.0,1991.8L628.3,1988.9L626.4,1986.1L624.2,1983.4L621.9,1980.7L619.5,1978.2L616.9,1975.8L614.3,1973.4L611.6,1971.1L608.8,1968.8L606.0,1966.6L603.2,1964.5L600.4,1962.3L597.6,1960.2L594.8,1958.0L592.1,1955.9L589.4,1953.6L586.7,1951.4L584.1,1949.0L581.6,1946.6L579.2,1944.2L576.9,1941.6L574.8,1938.9L572.8,1936.1L571.0,1933.2L569.4,1930.1L567.9,1927.0L566.6,1923.7L565.5,1920.4L564.6,1917.0L563.8,1913.5L563.3,1910.0L562.9,1906.4L562.7,1902.9L562.7,1899.3L562.9,1895.8L563.3,1892.2L563.9,1888.8L564.7,1885.3L565.7,1881.9L566.9,1878.6L568.2,1875.4L569.8,1872.2L571.6,1869.2L573.6,1866.3L575.8,1863.6L578.1,1861.0L580.7,1858.6L583.4,1856.4L586.2,1854.4L589.1,1852.6L592.2,1851.1L595.3,1849.8L598.5,1848.7L601.8,1847.8L605.2,1847.0L608.6,1846.4L612.0,1845.8L615.5,1845.4L619.0,1845.0L622.4,1844.6L625.9,1844.2L629.4,1843.8L632.8,1843.4L636.3,1843.0L639.7,1842.5L643.2,1841.8L646.6,1841.1L650.1,1840.3L653.5,1839.4L656.8,1838.4L660.2,1837.3L663.5,1836.1L666.7,1834.8L669.9,1833.4L673.0,1831.9L676.1,1830.3L679.0,1828.5L681.9,1826.7L684.7,1824.7L687.4,1822.6L689.9,1820.4L692.4,1818.1L694.8,1815.7L697.1,1813.2L699.3,1810.6L701.4,1807.9L703.5,1805.1L705.5,1802.3L707.5,1799.3L709.4,1796.3L711.3,1793.3L713.2,1790.2L715.0,1787.1L716.8,1784.0L718.7,1780.9L720.5,1777.8L722.4,1774.7L724.2,1771.7L726.2,1768.7L728.1,1765.8L730.1,1762.9L732.2,1760.1L734.4,1757.4L736.6,1754.8L738.9,1752.3L741.4,1750.0L743.9,1747.8L746.5,1745.7L749.3,1743.9L752.2,1742.1L755.3,1740.6L758.5,1739.3L761.7,1738.2L765.1,1737.2L768.5,1736.5L772.0,1736.0L775.6,1735.7L779.1,1735.7L782.7,1735.9L786.3,1736.3L789.8,1736.8L793.3,1737.6L796.7,1738.6L800.1,1739.8L803.4,1741.1L806.6,1742.6L809.6,1744.2L812.6,1746.0L815.4,1747.9L818.1,1750.1L820.7,1752.3L823.1,1754.7L825.3,1757.3L827.4,1760.0L829.4,1762.8L831.2,1765.7L833.0,1768.7L834.7,1771.7L836.3,1774.8L837.9,1777.9L839.4,1781.0L840.9,1784.2L842.4,1787.4L843.8,1790.6L845.3,1793.8L846.7,1797.0L848.0,1800.2L849.4,1803.4L850.7,1806.6L852.1,1809.8L853.4,1813.0L854.7,1816.2L856.0,1819.5L857.2,1822.7L858.5,1825.9L859.7,1829.2L860.9,1832.4L862.1,1835.7L863.3,1839.0L864.5,1842.2L865.7,1845.5L866.9,1848.8L868.2,1852.0L869.5,1855.2L870.9,1858.4L872.4,1861.5L874.0,1864.6L875.6,1867.7L877.4,1870.7L879.2,1873.6L881.1,1876.5L883.1,1879.3L885.2,1882.1L887.3,1884.8L889.6,1887.5L891.9,1890.1L894.3,1892.6L896.7,1895.0L899.2,1897.4L901.8,1899.7L904.5,1902.0L907.2,1904.1L909.9,1906.3L912.7,1908.3L915.5,1910.4L918.4,1912.4L921.3,1914.3L924.2,1916.3L927.1,1918.2L930.0,1920.2L932.9,1922.1L935.8,1924.0L938.7,1926.0L941.6,1928.0L944.4,1930.0L947.2,1932.0L950.0,1934.0L952.8,1936.1L955.6,1938.1L958.4,1940.2L961.1,1942.3L963.8,1944.5L966.6,1946.6L969.3,1948.8L972.0,1950.9L974.7,1953.1L977.3,1955.3L980.0,1957.5L982.7,1959.8L985.4,1962.0L988.0,1964.3L990.7,1966.5L993.3,1968.8L995.9,1971.1L998.5,1973.5L1001.0,1975.9L1003.5,1978.4L1005.9,1980.9L1008.2,1983.4L1010.5,1986.0L1012.7,1988.7L1014.9,1991.4L1017.0,1994.2L1018.9,1997.0L1020.8,1999.9L1022.7,2002.8L1024.4,2005.8L1026.0,2008.8L1027.5,2011.9Z" fill="none" stroke="#fff" stroke-width="2" stroke-linejoin="round"/>
<path d="M711.0,2177.3L713.6,2179.2L716.3,2181.1L719.0,2182.9L721.8,2184.6L724.6,2186.2L727.5,2187.8L730.4,2189.3L733.3,2190.7L736.3,2192.1L739.3,2193.4L742.3,2194.6L745.4,2195.7L748.4,2196.8L751.5,2197.9L754.6,2198.9L757.8,2199.8L760.9,2200.6L764.1,2201.4L767.2,2202.1L770.4,2202.8L773.6,2203.4L776.8,2203.9L780.1,2204.4L783.3,2204.8L786.5,2205.1L789.8,2205.4L793.0,2205.6L796.3,2205.7L799.6,2205.8L802.8,2205.8L806.1,2205.7L809.4,2205.6L812.6,2205.4L815.9,2205.1L819.1,2204.8L822.3,2204.4L825.6,2203.9L828.8,2203.4L832.0,2202.8L835.2,2202.1L838.4,2201.4L841.5,2200.6L844.7,2199.7L847.8,2198.8L850.9,2197.8L854.0,2196.7L857.0,2195.6L860.1,2194.4L863.1,2193.1L866.0,2191.7L869.0,2190.3L871.9,2188.9L874.7,2187.3L877.6,2185.7L880.3,2184.0L883.1,2182.3L885.8,2180.5L888.5,2178.6L891.1,2176.6L893.6,2174.6L896.1,2172.5L898.6,2170.4L901.0,2168.1L903.3,2165.8L905.6,2163.5L907.8,2161.1L909.9,2158.6L911.9,2156.0L913.8,2153.4L915.7,2150.7L917.4,2148.0L919.1,2145.2L920.6,2142.3L922.0,2139.4L923.4,2136.4L924.6,2133.4L925.7,2130.4L926.8,2127.3L927.7,2124.2L928.5,2121.0L929.2,2117.8L929.7,2114.6L930.2,2111.4L930.6,2108.1L930.9,2104.9L931.1,2101.6L931.2,2098.3L931.2,2095.0L931.2,2091.7L931.1,2088.4L930.9,2085.1L930.6,2081.8L930.3,2078.5L929.9,2075.2L929.4,2072.0L928.9,2068.7L928.4,2065.5L927.8,2062.3L927.2,2059.1L926.6,2056.0L925.9,2052.8L925.2,2049.7L924.6,2046.5L924.0,2043.4L923.4,2040.2L922.9,2037.0L922.5,2033.7L922.1,2030.5L921.8,2027.2L921.6,2023.9L921.6,2020.6L921.6,2017.3L921.8,2014.0L922.2,2010.8L922.7,2007.6L923.4,2004.5L924.3,2001.4L925.3,1998.4L926.6,1995.5L928.1,1992.7L929.8,1989.9L931.6,1987.3L933.6,1984.7L935.7,1982.1L938.0,1979.7L940.3,1977.2L942.6,1974.8L945.0,1972.4L947.4,1970.1L949.8,1967.7L952.2,1965.4L954.5,1963.1L956.8,1960.7L959.0,1958.4L961.1,1956.0L963.2,1953.6L965.3,1951.2L967.3,1948.7L969.3,1946.2L971.4,1943.7L973.4,1941.1L975.3,1938.5L977.3,1935.9L979.1,1933.2L980.9,1930.4L982.7,1927.6L984.3,1924.8L985.9,1921.9L987.3,1919.0L988.7,1916.0L989.9,1912.9L991.0,1909.8L991.9,1906.6L992.6,1903.4L993.1,1900.2L993.5,1897.0L993.5,1893.7L993.4,1890.5L992.9,1887.2L992.2,1884.0L991.2,1880.8L989.9,1877.7L988.5,1874.7L986.8,1871.8L984.9,1869.1L982.8,1866.6L980.5,1864.2L978.0,1862.1L975.4,1860.2L972.6,1858.6L969.7,1857.2L966.7,1855.9L963.6,1854.8L960.5,1853.8L957.4,1852.8L954.3,1851.8L951.1,1850.9L948.0,1850.0L944.8,1849.1L941.7,1848.3L938.5,1847.5L935.3,1846.7L932.2,1846.0L929.0,1845.2L925.8,1844.5L922.6,1843.8L919.4,1843.2L916.2,1842.5L913.0,1841.9L909.8,1841.3L906.6,1840.7L903.4,1840.1L900.2,1839.5L897.0,1838.9L893.8,1838.4L890.6,1837.8L887.4,1837.3L884.2,1836.7L880.9,1836.2L877.7,1835.6L874.5,1835.1L871.3,1834.5L868.1,1834.0L864.9,1833.4L861.7,1832.9L858.4,1832.3L855.2,1831.7L852.0,1831.1L848.8,1830.5L845.6,1829.9L842.4,1829.3L839.2,1828.7L836.0,1828.1L832.8,1827.5L829.6,1826.8L826.4,1826.2L823.2,1825.6L820.0,1824.9L816.8,1824.3L813.6,1823.6L810.5,1823.0L807.3,1822.3L804.1,1821.6L800.9,1821.0L797.7,1820.3L794.5,1819.6L791.3,1819.0L788.1,1818.3L784.9,1817.6L781.8,1816.9L778.6,1816.2L775.4,1815.5L772.2,1814.8L769.0,1814.1L765.8,1813.5L762.6,1812.8L759.5,1812.1L756.3,1811.4L753.1,1810.7L749.9,1810.0L746.7,1809.3L743.5,1808.6L740.3,1807.9L737.1,1807.2L734.0,1806.5L730.8,1805.8L727.6,1805.2L724.4,1804.5L721.2,1803.8L718.0,1803.1L714.8,1802.4L711.6,1801.8L708.4,1801.1L705.2,1800.4L702.0,1799.8L698.8,1799.1L695.6,1798.5L692.4,1797.8L689.2,1797.2L686.0,1796.6L682.8,1796.0L679.6,1795.4L676.4,1794.8L673.2,1794.2L670.0,1793.7L666.8,1793.2L663.5,1792.7L660.3,1792.2L657.1,1791.8L653.9,1791.3L650.7,1791.0L647.4,1790.6L644.2,1790.3L641.0,1790.0L637.7,1789.7L634.5,1789.7L631.2,1789.9L628.0,1790.3L624.8,1791.0L621.6,1791.9L618.5,1793.1L615.5,1794.5L612.6,1796.1L609.8,1797.9L607.1,1799.9L604.7,1802.0L602.4,1804.4L600.4,1806.9L598.6,1809.6L597.0,1812.4L595.6,1815.3L594.3,1818.3L593.3,1821.4L592.3,1824.6L591.5,1827.8L590.7,1831.0L590.1,1834.2L589.5,1837.5L588.9,1840.8L588.5,1844.0L588.2,1847.3L587.9,1850.6L587.8,1853.8L587.7,1857.1L587.8,1860.4L588.0,1863.6L588.4,1866.8L588.8,1870.0L589.4,1873.2L590.1,1876.4L590.9,1879.6L591.8,1882.7L592.7,1885.8L593.7,1889.0L594.7,1892.1L595.6,1895.2L596.6,1898.4L597.5,1901.5L598.3,1904.7L599.0,1907.9L599.6,1911.1L600.1,1914.3L600.5,1917.5L600.7,1920.7L600.8,1923.8L600.7,1927.0L600.5,1930.2L600.1,1933.3L599.5,1936.5L598.7,1939.5L597.7,1942.6L596.5,1945.6L595.1,1948.6L593.5,1951.6L591.9,1954.5L590.2,1957.5L588.5,1960.4L587.0,1963.3L585.5,1966.3L584.3,1969.3L583.3,1972.3L582.7,1975.4L582.4,1978.5L582.5,1981.7L582.9,1984.9L583.8,1988.1L585.0,1991.2L586.5,1994.2L588.2,1997.1L590.3,1999.8L592.5,2002.3L594.9,2004.5L597.5,2006.5L600.3,2008.3L603.0,2010.0L605.7,2011.7L608.4,2013.5L611.0,2015.3L613.6,2017.2L616.1,2019.1L618.7,2021.0L621.3,2023.0L623.9,2024.9L626.5,2026.8L629.2,2028.7L632.0,2030.5L634.9,2032.3L637.8,2034.0L640.8,2035.6L643.8,2037.3L646.7,2039.0L649.6,2040.8L652.2,2042.7L654.7,2044.8L657.0,2047.0L659.1,2049.4L660.9,2051.9L662.6,2054.5L664.1,2057.3L665.4,2060.1L666.5,2063.1L667.5,2066.1L668.3,2069.2L669.0,2072.4L669.5,2075.6L669.9,2078.8L670.1,2082.1L670.3,2085.4L670.4,2088.7L670.5,2092.0L670.6,2095.3L670.7,2098.6L670.9,2101.9L671.1,2105.1L671.4,2108.4L671.9,2111.6L672.5,2114.9L673.2,2118.1L673.9,2121.2L674.8,2124.4L675.8,2127.5L676.9,2130.6L678.0,2133.6L679.3,2136.6L680.7,2139.6L682.1,2142.5L683.7,2145.4L685.3,2148.2L687.0,2151.0L688.8,2153.7L690.7,2156.4L692.7,2159.0L694.7,2161.5L696.8,2164.0L699.0,2166.4L701.3,2168.7L703.6,2171.0L706.0,2173.1L708.5,2175.3Z" fill="none" stroke="#fff" stroke-width="2" stroke-linejoin="round"/>
<path d="M552.5,1986.5L551.9,1989.5L551.4,1992.6L550.9,1995.6L550.5,1998.7L550.2,2001.7L549.9,2004.8L549.7,2007.9L549.6,2010.9L549.5,2014.0L549.5,2017.0L549.6,2020.1L549.7,2023.2L549.9,2026.2L550.1,2029.3L550.4,2032.3L550.8,2035.4L551.2,2038.4L551.7,2041.4L552.2,2044.4L552.8,2047.4L553.5,2050.4L554.2,2053.4L555.0,2056.3L555.8,2059.3L556.7,2062.2L557.6,2065.1L558.6,2068.0L559.7,2070.9L560.8,2073.8L561.9,2076.6L563.1,2079.4L564.4,2082.2L565.7,2085.0L567.1,2087.7L568.5,2090.5L569.9,2093.1L571.4,2095.8L573.0,2098.5L574.6,2101.1L576.3,2103.6L578.0,2106.2L579.7,2108.7L581.5,2111.2L583.4,2113.6L585.3,2116.1L587.2,2118.4L589.2,2120.8L591.2,2123.1L593.3,2125.3L595.4,2127.6L597.6,2129.8L599.7,2131.9L602.0,2134.0L604.2,2136.1L606.5,2138.1L608.9,2140.1L611.2,2142.1L613.6,2144.0L616.1,2145.8L618.6,2147.6L621.1,2149.4L623.6,2151.1L626.2,2152.8L628.8,2154.4L631.4,2156.0L634.1,2157.5L636.7,2159.0L639.5,2160.4L642.2,2161.8L644.9,2163.1L647.7,2164.3L650.5,2165.6L653.4,2166.7L656.2,2167.8L659.1,2168.8L662.0,2169.8L664.9,2170.8L667.8,2171.6L670.8,2172.4L673.8,2173.2L676.7,2173.9L679.7,2174.5L682.7,2175.1L685.8,2175.6L688.8,2176.0L691.9,2176.4L694.9,2176.7L698.0,2177.0L701.1,2177.2L704.1,2177.4L707.2,2177.5L710.3,2177.5L713.4,2177.5L716.5,2177.4L719.6,2177.3L722.7,2177.2L725.7,2177.0L728.8,2176.8L731.9,2176.5L734.9,2176.2L738.0,2175.8L741.0,2175.4L744.0,2175.0L747.0,2174.5L750.0,2174.0L753.0,2173.4L755.9,2172.8L758.9,2172.1L761.8,2171.3L764.7,2170.5L767.5,2169.6L770.4,2168.6L773.2,2167.5L776.0,2166.4L778.8,2165.3L781.6,2164.1L784.4,2162.8L787.2,2161.5L789.9,2160.2L792.7,2158.8L795.5,2157.5L798.2,2156.0L801.0,2154.6L803.7,2153.1L806.4,2151.6L809.1,2150.0L811.8,2148.4L814.5,2146.8L817.1,2145.1L819.7,2143.4L822.3,2141.7L824.9,2139.9L827.4,2138.1L829.9,2136.3L832.3,2134.4L834.7,2132.4L837.0,2130.4L839.4,2128.4L841.6,2126.4L843.8,2124.2L846.0,2122.1L848.1,2119.9L850.1,2117.6L852.1,2115.3L854.0,2113.0L855.9,2110.6L857.7,2108.2L859.4,2105.7L861.1,2103.2L862.7,2100.7L864.3,2098.1L865.8,2095.5L867.3,2092.8L868.7,2090.1L870.1,2087.4L871.4,2084.7L872.7,2081.9L873.9,2079.1L875.1,2076.3L876.3,2073.4L877.4,2070.6L878.5,2067.7L879.5,2064.8L880.5,2061.8L881.4,2058.9L882.4,2055.9L883.2,2053.0L884.1,2050.0L884.9,2047.0L885.7,2044.0L886.5,2041.0L887.2,2038.0L887.9,2035.0L888.6,2032.0L889.2,2029.0L889.9,2026.0L890.5,2022.9L891.1,2019.9L891.6,2016.9L892.1,2013.9L892.7,2010.8L893.1,2007.8L893.6,2004.8L894.1,2001.7L894.5,1998.7L894.9,1995.7L895.3,1992.6L895.7,1989.6L896.0,1986.6L896.3,1983.5L896.6,1980.5L896.9,1977.4L897.2,1974.4L897.5,1971.3L897.7,1968.3L898.0,1965.2L898.2,1962.2L898.4,1959.1L898.6,1956.1L898.7,1953.0L898.9,1950.0L899.0,1946.9L899.2,1943.9L899.3,1940.8L899.4,1937.7L899.5,1934.7L899.6,1931.6L899.7,1928.6L899.7,1925.5L899.8,1922.5L899.8,1919.4L899.9,1916.3L899.9,1913.3L899.9,1910.2L900.0,1907.2L900.0,1904.1L900.0,1901.1L900.0,1898.0L900.0,1894.9L900.0,1891.9L900.0,1888.8L900.0,1885.8L900.0,1882.7L899.9,1879.6L899.9,1876.6L899.9,1873.5L899.9,1870.4L899.9,1867.4L899.8,1864.3L899.8,1861.2L899.8,1858.2L899.8,1855.1L899.8,1852.0L899.7,1848.9L899.7,1845.9L899.7,1842.8L899.7,1839.7L899.7,1836.6L899.7,1833.6L899.7,1830.5L899.8,1827.4L899.8,1824.3L899.8,1821.2L899.8,1818.1L899.8,1815.0L899.7,1812.0L899.6,1808.9L899.5,1805.8L899.3,1802.8L899.1,1799.7L898.8,1796.7L898.4,1793.7L897.9,1790.7L897.4,1787.7L896.8,1784.7L896.0,1781.8L895.2,1778.8L894.3,1775.9L893.2,1773.1L891.9,1770.2L890.5,1767.5L888.9,1764.8L887.2,1762.2L885.3,1759.8L883.2,1757.5L881.0,1755.4L878.7,1753.5L876.2,1751.8L873.6,1750.3L870.8,1749.0L867.9,1748.0L865.0,1747.1L861.9,1746.5L858.9,1746.1L855.7,1745.9L852.6,1745.9L849.5,1746.0L846.3,1746.4L843.3,1746.9L840.2,1747.6L837.3,1748.5L834.4,1749.5L831.6,1750.6L828.8,1751.9L826.0,1753.1L823.2,1754.4L820.5,1755.6L817.7,1756.8L814.9,1758.0L812.1,1759.2L809.3,1760.4L806.4,1761.5L803.6,1762.6L800.7,1763.7L797.9,1764.8L795.0,1765.8L792.1,1766.9L789.2,1767.9L786.2,1768.9L783.3,1769.9L780.3,1770.8L777.3,1771.8L774.4,1772.6L771.4,1773.4L768.4,1774.1L765.3,1774.7L762.3,1775.2L759.3,1775.6L756.3,1775.8L753.3,1775.8L750.3,1775.6L747.3,1775.3L744.3,1774.8L741.3,1774.3L738.4,1773.6L735.4,1772.9L732.4,1772.1L729.4,1771.4L726.4,1770.7L723.3,1770.0L720.3,1769.5L717.2,1769.0L714.2,1768.6L711.1,1768.4L708.0,1768.2L704.9,1768.2L701.7,1768.4L698.6,1768.7L695.5,1769.2L692.5,1769.9L689.5,1770.7L686.7,1771.8L683.9,1773.0L681.2,1774.5L678.7,1776.1L676.4,1778.0L674.2,1780.1L672.3,1782.4L670.5,1785.0L669.0,1787.7L667.6,1790.5L666.5,1793.4L665.5,1796.3L664.8,1799.3L664.2,1802.2L663.7,1805.2L663.4,1808.2L663.1,1811.3L663.0,1814.3L662.9,1817.4L662.8,1820.5L662.7,1823.6L662.7,1826.7L662.6,1829.8L662.5,1832.9L662.3,1836.0L662.0,1839.1L661.6,1842.2L661.2,1845.3L660.6,1848.3L659.8,1851.3L659.0,1854.3L658.0,1857.1L656.9,1859.9L655.6,1862.6L654.1,1865.2L652.5,1867.7L650.7,1870.0L648.7,1872.2L646.6,1874.2L644.2,1876.0L641.7,1877.8L639.1,1879.4L636.3,1880.9L633.5,1882.4L630.6,1883.8L627.8,1885.2L625.0,1886.7L622.2,1888.2L619.5,1889.7L616.8,1891.3L614.1,1892.9L611.5,1894.5L609.0,1896.2L606.5,1898.0L604.0,1899.8L601.6,1901.6L599.2,1903.5L596.9,1905.4L594.6,1907.4L592.3,1909.4L590.1,1911.5L587.9,1913.6L585.7,1915.7L583.6,1917.9L581.5,1920.2L579.5,1922.5L577.5,1924.8L575.5,1927.2L573.6,1929.7L571.9,1932.2L570.1,1934.7L568.5,1937.4L567.0,1940.0L565.6,1942.7L564.2,1945.5L563.0,1948.3L561.9,1951.1L560.9,1954.0L560.1,1956.8L559.2,1959.7L558.5,1962.6L557.7,1965.5L557.0,1968.5L556.2,1971.4L555.4,1974.4L554.6,1977.4L553.9,1980.4L553.2,1983.5Z" fill="none" stroke="#fff" stroke-width="2" stroke-linejoin="round"/>
</g>
<text x="739.50" y="1690.00" font-family="Liberation Sans" font-size="23.4" fill="#000" textLength="100.40" lengthAdjust="spacingAndGlyphs">AS−Lasso</text>
<text x="501.30" y="1755.30" font-family="Liberation Sans" font-size="23.4" fill="#000" textLength="121.90" lengthAdjust="spacingAndGlyphs">AIDS−Lasso</text>
<text x="976.80" y="1804.00" font-family="Liberation Sans" font-size="23.4" fill="#000" textLength="91.40" lengthAdjust="spacingAndGlyphs">AIDS−RF</text>
<text x="996.30" y="2150.40" font-family="Liberation Sans" font-size="23.4" fill="#000" textLength="69.10" lengthAdjust="spacingAndGlyphs">AS−RF</text>
<text x="488.70" y="2164.40" font-family="Liberation Sans" font-size="23.4" fill="#000" textLength="145.70" lengthAdjust="spacingAndGlyphs">AS−SVM−RFE</text>
<text x="734.40" y="2227.00" font-family="Liberation Sans" font-size="23.4" fill="#000" textLength="167.10" lengthAdjust="spacingAndGlyphs">AIDS−SVM−RFE</text>
<text x="750.50" y="1964.70" font-family="Liberation Serif" font-size="30.5" fill="#000" textLength="75.50" lengthAdjust="spacingAndGlyphs">CCR5</text>
<text x="750.50" y="2002.80" font-family="Liberation Serif" font-size="30.5" fill="#000" textLength="73.50" lengthAdjust="spacingAndGlyphs">OAS1</text>
</svg>
</body></html>
